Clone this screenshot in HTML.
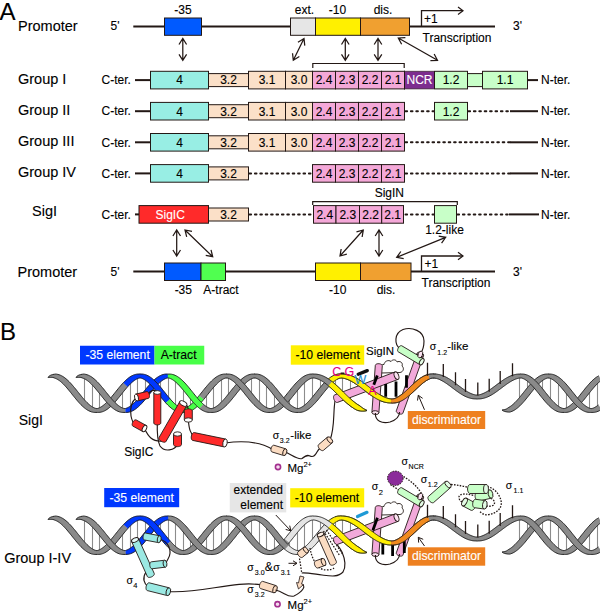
<!DOCTYPE html>
<html><head><meta charset="utf-8"><style>
html,body{margin:0;padding:0;background:#fff;}
svg{display:block;}
text{font-family:"Liberation Sans",sans-serif;}
</style></head><body>
<svg width="600" height="614" viewBox="0 0 600 614">
<text x="-0.4" y="19.6" font-size="24" text-anchor="start" fill="#000" stroke="#000" stroke-width="0.12" >A</text>
<text x="18" y="30.7" font-size="14.5" text-anchor="start" fill="#000" stroke="#000" stroke-width="0.12" >Promoter</text>
<text x="110.5" y="30" font-size="12" text-anchor="start" fill="#000" stroke="#000" stroke-width="0.12" >5'</text>
<line x1="133.3" y1="26.6" x2="495" y2="26.6" stroke="#231815" stroke-width="2" />
<rect x="164.5" y="18" width="37.0" height="17.299999999999997" fill="#005aff" stroke="#231815" stroke-width="1" />
<rect x="290.5" y="18" width="25.0" height="17.299999999999997" fill="#e6e6e6" stroke="#231815" stroke-width="1" />
<rect x="315.5" y="18" width="45.0" height="17.299999999999997" fill="#fff000" stroke="#231815" stroke-width="1" />
<rect x="360.5" y="18" width="49.0" height="17.299999999999997" fill="#f0a030" stroke="#231815" stroke-width="1" />
<text x="183" y="14" font-size="12" text-anchor="middle" fill="#000" stroke="#000" stroke-width="0.12" >-35</text>
<text x="304.5" y="14" font-size="12" text-anchor="middle" fill="#000" stroke="#000" stroke-width="0.12" >ext.</text>
<text x="337.5" y="14" font-size="12" text-anchor="middle" fill="#000" stroke="#000" stroke-width="0.12" >-10</text>
<text x="383" y="14" font-size="12" text-anchor="middle" fill="#000" stroke="#000" stroke-width="0.12" >dis.</text>
<text x="513" y="30" font-size="12" text-anchor="start" fill="#000" stroke="#000" stroke-width="0.12" >3'</text>
<path d="M421.5,26 L421.5,10.7 L463,10.7" fill="none" stroke="#231815" stroke-width="1.3"/>
<path d="M458,7 L463,10.7 L458,14.4" fill="none" stroke="#231815" stroke-width="1.2"/>
<text x="424" y="22.8" font-size="12" text-anchor="start" fill="#000" stroke="#000" stroke-width="0.12" >+1</text>
<text x="422.5" y="41.5" font-size="12" text-anchor="start" fill="#000" stroke="#000" stroke-width="0.12" >Transcription</text>
<path d="M182.8,38.5 L182.8,60.3 M179.00,54.30 L182.8,60.3 L186.60,54.30 M179.00,44.50 L182.8,38.5 L186.60,44.50 " fill="none" stroke="#231815" stroke-width="1.25"/>
<path d="M304,38.5 L293.3,60.3 M292.53,53.24 L293.3,60.3 L299.35,56.59 M297.95,42.21 L304,38.5 L304.77,45.56 " fill="none" stroke="#231815" stroke-width="1.25"/>
<path d="M345.3,38.5 L345.3,60.3 M341.50,54.30 L345.3,60.3 L349.10,54.30 M341.50,44.50 L345.3,38.5 L349.10,44.50 " fill="none" stroke="#231815" stroke-width="1.25"/>
<path d="M378,38.5 L378,60.3 M374.20,54.30 L378,60.3 L381.80,54.30 M374.20,44.50 L378,38.5 L381.80,44.50 " fill="none" stroke="#231815" stroke-width="1.25"/>
<path d="M398.3,38 L437.5,60.3 M430.41,60.64 L437.5,60.3 L434.16,54.03 M401.64,44.27 L398.3,38 L405.39,37.66 " fill="none" stroke="#231815" stroke-width="1.25"/>
<path d="M312.8,68 L312.8,63.5 L404.2,63.5 L404.2,68" fill="none" stroke="#231815" stroke-width="1.2"/>
<text x="18" y="84.0" font-size="14.5" text-anchor="start" fill="#000" stroke="#000" stroke-width="0.12" >Group I</text>
<text x="101.5" y="84.3" font-size="12" text-anchor="start" fill="#000" stroke="#000" stroke-width="0.12" >C-ter.</text>
<line x1="135" y1="80.1" x2="150.5" y2="80.1" stroke="#231815" stroke-width="2" />
<rect x="150.5" y="71.3" width="58.0" height="17.599999999999994" fill="#98eee4" stroke="#231815" stroke-width="1" />
<text x="179.5" y="84.39999999999999" font-size="12" text-anchor="middle" fill="#000" stroke="#000" stroke-width="0.12" >4</text>
<rect x="208.5" y="73.6" width="40.0" height="13.0" fill="#fbe0c8" stroke="#231815" stroke-width="1" />
<text x="228.5" y="84.39999999999999" font-size="12" text-anchor="middle" fill="#000" stroke="#000" stroke-width="0.12" >3.2</text>
<rect x="248.5" y="71.3" width="37.0" height="17.599999999999994" fill="#fbe0c8" stroke="#231815" stroke-width="1" />
<text x="267" y="84.39999999999999" font-size="12" text-anchor="middle" fill="#000" stroke="#000" stroke-width="0.12" >3.1</text>
<rect x="285.5" y="71.3" width="27.0" height="17.599999999999994" fill="#fbe0c8" stroke="#231815" stroke-width="1" />
<text x="299" y="84.39999999999999" font-size="12" text-anchor="middle" fill="#000" stroke="#000" stroke-width="0.12" >3.0</text>
<rect x="312.5" y="71.3" width="23.0" height="17.599999999999994" fill="#f4a8d8" stroke="#231815" stroke-width="1" />
<text x="324.0" y="84.39999999999999" font-size="12" text-anchor="middle" fill="#000" stroke="#000" stroke-width="0.12" >2.4</text>
<rect x="335.5" y="71.3" width="23.0" height="17.599999999999994" fill="#f4a8d8" stroke="#231815" stroke-width="1" />
<text x="347.0" y="84.39999999999999" font-size="12" text-anchor="middle" fill="#000" stroke="#000" stroke-width="0.12" >2.3</text>
<rect x="358.5" y="71.3" width="23.0" height="17.599999999999994" fill="#f4a8d8" stroke="#231815" stroke-width="1" />
<text x="370.0" y="84.39999999999999" font-size="12" text-anchor="middle" fill="#000" stroke="#000" stroke-width="0.12" >2.2</text>
<rect x="381.5" y="71.3" width="23.0" height="17.599999999999994" fill="#f4a8d8" stroke="#231815" stroke-width="1" />
<text x="393.0" y="84.39999999999999" font-size="12" text-anchor="middle" fill="#000" stroke="#000" stroke-width="0.12" >2.1</text>
<rect x="404.5" y="71.3" width="30.0" height="17.599999999999994" fill="#7d2d8f" stroke="none" stroke-width="1" />
<line x1="404.5" y1="71.3" x2="434.5" y2="71.3" stroke="#231815" stroke-width="1.2" stroke-dasharray="1,1"/>
<line x1="404.5" y1="88.89999999999999" x2="434.5" y2="88.89999999999999" stroke="#231815" stroke-width="1.2" stroke-dasharray="1,1"/>
<line x1="404.5" y1="70.8" x2="404.5" y2="89.39999999999999" stroke="#231815" stroke-width="1" />
<text x="419.5" y="84.39999999999999" font-size="12" text-anchor="middle" fill="#fff" stroke="#fff" stroke-width="0.12" >NCR</text>
<rect x="467.5" y="73.6" width="15.0" height="13.0" fill="#c8ffc8" stroke="#231815" stroke-width="1" />
<rect x="434.5" y="71.3" width="33.0" height="17.599999999999994" fill="#c8ffc8" stroke="#231815" stroke-width="1" />
<text x="451" y="84.39999999999999" font-size="12" text-anchor="middle" fill="#000" stroke="#000" stroke-width="0.12" >1.2</text>
<rect x="482.5" y="71.3" width="45.0" height="17.599999999999994" fill="#c8ffc8" stroke="#231815" stroke-width="1" />
<text x="505" y="84.39999999999999" font-size="12" text-anchor="middle" fill="#000" stroke="#000" stroke-width="0.12" >1.1</text>
<line x1="527.5" y1="80.1" x2="538" y2="80.1" stroke="#231815" stroke-width="2" />
<text x="541" y="84.3" font-size="12" text-anchor="start" fill="#000" stroke="#000" stroke-width="0.12" >N-ter.</text>
<text x="18" y="115.10000000000001" font-size="14.5" text-anchor="start" fill="#000" stroke="#000" stroke-width="0.12" >Group II</text>
<text x="101.5" y="115.4" font-size="12" text-anchor="start" fill="#000" stroke="#000" stroke-width="0.12" >C-ter.</text>
<line x1="135" y1="111.2" x2="150.5" y2="111.2" stroke="#231815" stroke-width="2" />
<rect x="150.5" y="102.4" width="58.0" height="17.599999999999994" fill="#98eee4" stroke="#231815" stroke-width="1" />
<text x="179.5" y="115.5" font-size="12" text-anchor="middle" fill="#000" stroke="#000" stroke-width="0.12" >4</text>
<rect x="208.5" y="104.7" width="40.0" height="13.0" fill="#fbe0c8" stroke="#231815" stroke-width="1" />
<text x="228.5" y="115.5" font-size="12" text-anchor="middle" fill="#000" stroke="#000" stroke-width="0.12" >3.2</text>
<rect x="248.5" y="102.4" width="37.0" height="17.599999999999994" fill="#fbe0c8" stroke="#231815" stroke-width="1" />
<text x="267" y="115.5" font-size="12" text-anchor="middle" fill="#000" stroke="#000" stroke-width="0.12" >3.1</text>
<rect x="285.5" y="102.4" width="27.0" height="17.599999999999994" fill="#fbe0c8" stroke="#231815" stroke-width="1" />
<text x="299" y="115.5" font-size="12" text-anchor="middle" fill="#000" stroke="#000" stroke-width="0.12" >3.0</text>
<rect x="312.5" y="102.4" width="23.0" height="17.599999999999994" fill="#f4a8d8" stroke="#231815" stroke-width="1" />
<text x="324.0" y="115.5" font-size="12" text-anchor="middle" fill="#000" stroke="#000" stroke-width="0.12" >2.4</text>
<rect x="335.5" y="102.4" width="23.0" height="17.599999999999994" fill="#f4a8d8" stroke="#231815" stroke-width="1" />
<text x="347.0" y="115.5" font-size="12" text-anchor="middle" fill="#000" stroke="#000" stroke-width="0.12" >2.3</text>
<rect x="358.5" y="102.4" width="23.0" height="17.599999999999994" fill="#f4a8d8" stroke="#231815" stroke-width="1" />
<text x="370.0" y="115.5" font-size="12" text-anchor="middle" fill="#000" stroke="#000" stroke-width="0.12" >2.2</text>
<rect x="381.5" y="102.4" width="23.0" height="17.599999999999994" fill="#f4a8d8" stroke="#231815" stroke-width="1" />
<text x="393.0" y="115.5" font-size="12" text-anchor="middle" fill="#000" stroke="#000" stroke-width="0.12" >2.1</text>
<line x1="404.5" y1="111.2" x2="434.5" y2="111.2" stroke="#231815" stroke-width="2" stroke-dasharray="1.6,3.8" stroke-linecap="round" stroke-dashoffset="-1"/>
<rect x="434.5" y="102.4" width="33.0" height="17.599999999999994" fill="#c8ffc8" stroke="#231815" stroke-width="1" />
<text x="451" y="115.5" font-size="12" text-anchor="middle" fill="#000" stroke="#000" stroke-width="0.12" >1.2</text>
<line x1="467.5" y1="111.2" x2="510" y2="111.2" stroke="#231815" stroke-width="2" stroke-dasharray="1.6,3.8" stroke-linecap="round" stroke-dashoffset="-1"/>
<line x1="510" y1="111.2" x2="538" y2="111.2" stroke="#231815" stroke-width="2" />
<text x="541" y="115.4" font-size="12" text-anchor="start" fill="#000" stroke="#000" stroke-width="0.12" >N-ter.</text>
<text x="18" y="146.20000000000002" font-size="14.5" text-anchor="start" fill="#000" stroke="#000" stroke-width="0.12" >Group III</text>
<text x="101.5" y="146.5" font-size="12" text-anchor="start" fill="#000" stroke="#000" stroke-width="0.12" >C-ter.</text>
<line x1="135" y1="142.3" x2="150.5" y2="142.3" stroke="#231815" stroke-width="2" />
<rect x="150.5" y="133.5" width="58.0" height="17.600000000000023" fill="#98eee4" stroke="#231815" stroke-width="1" />
<text x="179.5" y="146.60000000000002" font-size="12" text-anchor="middle" fill="#000" stroke="#000" stroke-width="0.12" >4</text>
<rect x="208.5" y="135.8" width="40.0" height="13.0" fill="#fbe0c8" stroke="#231815" stroke-width="1" />
<text x="228.5" y="146.60000000000002" font-size="12" text-anchor="middle" fill="#000" stroke="#000" stroke-width="0.12" >3.2</text>
<rect x="248.5" y="133.5" width="37.0" height="17.600000000000023" fill="#fbe0c8" stroke="#231815" stroke-width="1" />
<text x="267" y="146.60000000000002" font-size="12" text-anchor="middle" fill="#000" stroke="#000" stroke-width="0.12" >3.1</text>
<rect x="285.5" y="133.5" width="27.0" height="17.600000000000023" fill="#fbe0c8" stroke="#231815" stroke-width="1" />
<text x="299" y="146.60000000000002" font-size="12" text-anchor="middle" fill="#000" stroke="#000" stroke-width="0.12" >3.0</text>
<rect x="312.5" y="133.5" width="23.0" height="17.600000000000023" fill="#f4a8d8" stroke="#231815" stroke-width="1" />
<text x="324.0" y="146.60000000000002" font-size="12" text-anchor="middle" fill="#000" stroke="#000" stroke-width="0.12" >2.4</text>
<rect x="335.5" y="133.5" width="23.0" height="17.600000000000023" fill="#f4a8d8" stroke="#231815" stroke-width="1" />
<text x="347.0" y="146.60000000000002" font-size="12" text-anchor="middle" fill="#000" stroke="#000" stroke-width="0.12" >2.3</text>
<rect x="358.5" y="133.5" width="23.0" height="17.600000000000023" fill="#f4a8d8" stroke="#231815" stroke-width="1" />
<text x="370.0" y="146.60000000000002" font-size="12" text-anchor="middle" fill="#000" stroke="#000" stroke-width="0.12" >2.2</text>
<rect x="381.5" y="133.5" width="23.0" height="17.600000000000023" fill="#f4a8d8" stroke="#231815" stroke-width="1" />
<text x="393.0" y="146.60000000000002" font-size="12" text-anchor="middle" fill="#000" stroke="#000" stroke-width="0.12" >2.1</text>
<line x1="404.5" y1="142.3" x2="510" y2="142.3" stroke="#231815" stroke-width="2" stroke-dasharray="1.6,3.8" stroke-linecap="round" stroke-dashoffset="-1"/>
<line x1="510" y1="142.3" x2="538" y2="142.3" stroke="#231815" stroke-width="2" />
<text x="541" y="146.5" font-size="12" text-anchor="start" fill="#000" stroke="#000" stroke-width="0.12" >N-ter.</text>
<text x="18" y="177.3" font-size="14.5" text-anchor="start" fill="#000" stroke="#000" stroke-width="0.12" >Group IV</text>
<text x="101.5" y="177.6" font-size="12" text-anchor="start" fill="#000" stroke="#000" stroke-width="0.12" >C-ter.</text>
<line x1="135" y1="173.4" x2="150.5" y2="173.4" stroke="#231815" stroke-width="2" />
<rect x="150.5" y="164.6" width="58.0" height="17.600000000000023" fill="#98eee4" stroke="#231815" stroke-width="1" />
<text x="179.5" y="177.70000000000002" font-size="12" text-anchor="middle" fill="#000" stroke="#000" stroke-width="0.12" >4</text>
<rect x="208.5" y="166.9" width="40.0" height="13.0" fill="#fbe0c8" stroke="#231815" stroke-width="1" />
<text x="228.5" y="177.70000000000002" font-size="12" text-anchor="middle" fill="#000" stroke="#000" stroke-width="0.12" >3.2</text>
<line x1="248.5" y1="173.4" x2="312.5" y2="173.4" stroke="#231815" stroke-width="2" stroke-dasharray="1.6,3.8" stroke-linecap="round" stroke-dashoffset="-1"/>
<rect x="312.5" y="164.6" width="23.0" height="17.600000000000023" fill="#f4a8d8" stroke="#231815" stroke-width="1" />
<text x="324.0" y="177.70000000000002" font-size="12" text-anchor="middle" fill="#000" stroke="#000" stroke-width="0.12" >2.4</text>
<rect x="335.5" y="164.6" width="23.0" height="17.600000000000023" fill="#f4a8d8" stroke="#231815" stroke-width="1" />
<text x="347.0" y="177.70000000000002" font-size="12" text-anchor="middle" fill="#000" stroke="#000" stroke-width="0.12" >2.3</text>
<rect x="358.5" y="164.6" width="23.0" height="17.600000000000023" fill="#f4a8d8" stroke="#231815" stroke-width="1" />
<text x="370.0" y="177.70000000000002" font-size="12" text-anchor="middle" fill="#000" stroke="#000" stroke-width="0.12" >2.2</text>
<rect x="381.5" y="164.6" width="23.0" height="17.600000000000023" fill="#f4a8d8" stroke="#231815" stroke-width="1" />
<text x="393.0" y="177.70000000000002" font-size="12" text-anchor="middle" fill="#000" stroke="#000" stroke-width="0.12" >2.1</text>
<line x1="404.5" y1="173.4" x2="510" y2="173.4" stroke="#231815" stroke-width="2" stroke-dasharray="1.6,3.8" stroke-linecap="round" stroke-dashoffset="-1"/>
<line x1="510" y1="173.4" x2="538" y2="173.4" stroke="#231815" stroke-width="2" />
<text x="541" y="177.6" font-size="12" text-anchor="start" fill="#000" stroke="#000" stroke-width="0.12" >N-ter.</text>
<text x="32" y="215.7" font-size="14.5" text-anchor="start" fill="#000" stroke="#000" stroke-width="0.12" >SigI</text>
<text x="101.5" y="218.6" font-size="12" text-anchor="start" fill="#000" stroke="#000" stroke-width="0.12" >C-ter.</text>
<line x1="135" y1="214.4" x2="139" y2="214.4" stroke="#231815" stroke-width="2" />
<line x1="248.5" y1="214.4" x2="312.5" y2="214.4" stroke="#231815" stroke-width="2" stroke-dasharray="1.6,3.8" stroke-linecap="round" stroke-dashoffset="-1"/>
<line x1="404.5" y1="214.4" x2="434.5" y2="214.4" stroke="#231815" stroke-width="2" stroke-dasharray="1.6,3.8" stroke-linecap="round" stroke-dashoffset="-1"/>
<line x1="456.5" y1="214.4" x2="509" y2="214.4" stroke="#231815" stroke-width="2" stroke-dasharray="1.6,3.8" stroke-linecap="round" stroke-dashoffset="-1"/>
<line x1="509" y1="214.4" x2="539" y2="214.4" stroke="#231815" stroke-width="2" />
<rect x="139" y="205.6" width="69.5" height="17.599999999999994" fill="#ff2a2a" stroke="#231815" stroke-width="1" />
<text x="170.2" y="218.70000000000002" font-size="12" text-anchor="middle" fill="#fff" stroke="#fff" stroke-width="0.12" >SigIC</text>
<rect x="208.5" y="208" width="40.0" height="13" fill="#fbe0c8" stroke="#231815" stroke-width="1" />
<text x="228.5" y="218.70000000000002" font-size="12" text-anchor="middle" fill="#000" stroke="#000" stroke-width="0.12" >3.2</text>
<rect x="313.5" y="205.6" width="22.5" height="17.599999999999994" fill="#f4a8d8" stroke="#231815" stroke-width="1" />
<text x="324.75" y="218.70000000000002" font-size="12" text-anchor="middle" fill="#000" stroke="#000" stroke-width="0.12" >2.4</text>
<rect x="336" y="205.6" width="23.5" height="17.599999999999994" fill="#f4a8d8" stroke="#231815" stroke-width="1" />
<text x="347.75" y="218.70000000000002" font-size="12" text-anchor="middle" fill="#000" stroke="#000" stroke-width="0.12" >2.3</text>
<rect x="359.5" y="205.6" width="22.19999999999999" height="17.599999999999994" fill="#f4a8d8" stroke="#231815" stroke-width="1" />
<text x="370.6" y="218.70000000000002" font-size="12" text-anchor="middle" fill="#000" stroke="#000" stroke-width="0.12" >2.2</text>
<rect x="381.7" y="205.6" width="21.80000000000001" height="17.599999999999994" fill="#f4a8d8" stroke="#231815" stroke-width="1" />
<text x="392.6" y="218.70000000000002" font-size="12" text-anchor="middle" fill="#000" stroke="#000" stroke-width="0.12" >2.1</text>
<rect x="434.5" y="205.6" width="22.0" height="17.599999999999994" fill="#c8ffc8" stroke="#231815" stroke-width="1" />
<text x="444.5" y="234.3" font-size="12" text-anchor="middle" fill="#000" stroke="#000" stroke-width="0.12" >1.2-like</text>
<path d="M312.7,205 L312.7,201.7 L457.3,201.7 L457.3,205" fill="none" stroke="#231815" stroke-width="1.2"/>
<text x="389.3" y="197" font-size="12" text-anchor="middle" fill="#000" stroke="#000" stroke-width="0.12" >SigIN</text>
<text x="541" y="218.6" font-size="12" text-anchor="start" fill="#000" stroke="#000" stroke-width="0.12" >N-ter.</text>
<path d="M176.7,230 L176.7,256 M172.90,250.00 L176.7,256 L180.50,250.00 M172.90,236.00 L176.7,230 L180.50,236.00 " fill="none" stroke="#231815" stroke-width="1.25"/>
<path d="M185,230 L212.7,256.7 M205.74,255.27 L212.7,256.7 L211.02,249.80 M186.68,236.90 L185,230 L191.96,231.43 " fill="none" stroke="#231815" stroke-width="1.25"/>
<path d="M363.3,230 L340,256 M341.17,249.00 L340,256 L346.83,254.07 M356.47,231.93 L363.3,230 L362.13,237.00 " fill="none" stroke="#231815" stroke-width="1.25"/>
<path d="M379,230 L379,256 M375.20,250.00 L379,256 L382.80,250.00 M375.20,236.00 L379,230 L382.80,236.00 " fill="none" stroke="#231815" stroke-width="1.25"/>
<path d="M396.7,257.3 L445.7,237.3 M441.58,243.09 L445.7,237.3 L438.71,236.05 M403.69,258.55 L396.7,257.3 L400.82,251.51 " fill="none" stroke="#231815" stroke-width="1.25"/>
<text x="17.5" y="276.7" font-size="14.5" text-anchor="start" fill="#000" stroke="#000" stroke-width="0.12" >Promoter</text>
<text x="110.5" y="276" font-size="12" text-anchor="start" fill="#000" stroke="#000" stroke-width="0.12" >5'</text>
<line x1="133.3" y1="271.5" x2="495" y2="271.5" stroke="#231815" stroke-width="2" />
<rect x="164.5" y="263" width="36.5" height="17.5" fill="#005aff" stroke="#231815" stroke-width="1" />
<rect x="201" y="263" width="24.5" height="17.5" fill="#50ff50" stroke="#231815" stroke-width="1" />
<rect x="315.5" y="263" width="45.0" height="17.5" fill="#fff000" stroke="#231815" stroke-width="1" />
<rect x="360.5" y="263" width="50.5" height="17.5" fill="#f0a030" stroke="#231815" stroke-width="1" />
<text x="183.3" y="294" font-size="12" text-anchor="middle" fill="#000" stroke="#000" stroke-width="0.12" >-35</text>
<text x="221" y="294" font-size="12" text-anchor="middle" fill="#000" stroke="#000" stroke-width="0.12" >A-tract</text>
<text x="337.7" y="294" font-size="12" text-anchor="middle" fill="#000" stroke="#000" stroke-width="0.12" >-10</text>
<text x="386" y="294" font-size="12" text-anchor="middle" fill="#000" stroke="#000" stroke-width="0.12" >dis.</text>
<text x="513" y="276" font-size="12" text-anchor="start" fill="#000" stroke="#000" stroke-width="0.12" >3'</text>
<path d="M421.5,271 L421.5,256 L463,256" fill="none" stroke="#231815" stroke-width="1.3"/>
<path d="M458,252.3 L463,256 L458,259.7" fill="none" stroke="#231815" stroke-width="1.2"/>
<text x="424.5" y="268" font-size="12" text-anchor="start" fill="#000" stroke="#000" stroke-width="0.12" >+1</text>
<text x="421.5" y="286.5" font-size="12" text-anchor="start" fill="#000" stroke="#000" stroke-width="0.12" >Transcription</text>
<text x="0" y="340.3" font-size="24" text-anchor="start" fill="#000" stroke="#000" stroke-width="0.12" >B</text>
<text x="18.7" y="424.9" font-size="14" text-anchor="start" fill="#000" stroke="#000" stroke-width="0.12" >SigI</text>
<rect x="80" y="345.75" width="74.5" height="18.75" fill="#0038ff" stroke="none" stroke-width="1" />
<rect x="154.5" y="345.75" width="49.75" height="18.75" fill="#48ff48" stroke="none" stroke-width="1" />
<text x="117.6" y="359.3" font-size="12.2" text-anchor="middle" fill="#fff" stroke="#fff" stroke-width="0.12" >-35 element</text>
<text x="178.6" y="359.3" font-size="12.2" text-anchor="middle" fill="#000" stroke="#000" stroke-width="0.12" >A-tract</text>
<rect x="290.8" y="345.3" width="73.39999999999998" height="19.399999999999977" fill="#fff000" stroke="none" stroke-width="1" />
<text x="327.6" y="358.8" font-size="12.2" text-anchor="middle" fill="#000" stroke="#000" stroke-width="0.12" >-10 element</text>
<text x="366" y="354.6" font-size="11.5" text-anchor="start" fill="#000" stroke="#000" stroke-width="0.12" >SigIN</text>
<text x="429.8" y="349.7" font-size="10.5" fill="#000" stroke="#000" stroke-width="0.12">&#963;</text>
<text x="437.3" y="354.6" font-size="7" fill="#000" stroke="#000" stroke-width="0.12">1.2</text>
<text x="447.2" y="349.7" font-size="11.5" fill="#000" stroke="#000" stroke-width="0.12">-like</text>
<rect x="407.8" y="411" width="77.39999999999998" height="18" fill="#ee8020" stroke="none" stroke-width="1" />
<text x="446.5" y="423.8" font-size="12.2" text-anchor="middle" fill="#fff" stroke="#fff" stroke-width="0.12" >discriminator</text>
<text x="124.2" y="456.3" font-size="12" text-anchor="start" fill="#000" stroke="#000" stroke-width="0.12" >SigIC</text>
<text x="272.8" y="438.5" font-size="10.5" fill="#000" stroke="#000" stroke-width="0.12">&#963;</text>
<text x="279.8" y="443.2" font-size="7" fill="#000" stroke="#000" stroke-width="0.12">3.2</text>
<text x="290.3" y="438.5" font-size="11.5" fill="#000" stroke="#000" stroke-width="0.12">-like</text>
<circle cx="278" cy="467" r="2.6" fill="#f6dcef" stroke="#a3308f" stroke-width="1.6"/>
<text x="287.4" y="471.8" font-size="11.5" fill="#000" stroke="#000" stroke-width="0.12">Mg<tspan font-size="7.5" dy="-4.5">2+</tspan></text>
<text x="4.2" y="562.5" font-size="14.5" text-anchor="start" fill="#000" stroke="#000" stroke-width="0.12" >Group I-IV</text>
<rect x="104.2" y="488" width="74.99999999999999" height="19.19999999999999" fill="#0038ff" stroke="none" stroke-width="1" />
<text x="141.7" y="501.5" font-size="12.2" text-anchor="middle" fill="#fff" stroke="#fff" stroke-width="0.12" >-35 element</text>
<rect x="229.75" y="483" width="56.5" height="29.399999999999977" fill="#e6e6e6" stroke="none" stroke-width="1" />
<text x="283" y="494.3" font-size="12" text-anchor="end" fill="#000" stroke="#000" stroke-width="0.12" >extended</text>
<text x="283" y="508.6" font-size="12" text-anchor="end" fill="#000" stroke="#000" stroke-width="0.12" >element</text>
<rect x="290.2" y="488.2" width="74.0" height="19.19999999999999" fill="#fff000" stroke="none" stroke-width="1" />
<text x="327" y="501.5" font-size="12.2" text-anchor="middle" fill="#000" stroke="#000" stroke-width="0.12" >-10 element</text>
<rect x="407.8" y="547.3" width="77.39999999999998" height="18.40000000000009" fill="#ee8020" stroke="none" stroke-width="1" />
<text x="446.5" y="560" font-size="12.2" text-anchor="middle" fill="#fff" stroke="#fff" stroke-width="0.12" >discriminator</text>
<path d="M84.5,376.4 V404.1 M92.5,380.9 V409.5 M99.5,389.0 V410.1 M107.5,398.4 V405.7 M114.5,397.6 V406.3 M122.5,388.2 V410.3 M130.5,380.3 V409.2 M137.5,376.2 V403.4 M145.5,377.3 V394.6 M160.5,378.5 V391.8 M168.5,376.0 V401.1 M175.5,378.6 V408.0 M183.5,385.6 V410.5 M190.5,394.8 V407.9 M206.5,391.7 V409.3 M213.5,382.9 V410.2 M221.5,377.2 V406.1 M228.5,376.3 V398.2 M236.5,380.4 V388.8 M244.5,380.7 V388.3 M251.5,376.4 V397.7 M259.5,377.0 V405.8 M266.5,382.5 V410.1 M274.5,391.2 V409.5 M282.5,400.5 V404.0 M289.5,395.3 V407.6 M297.5,386.1 V410.5 M304.5,378.9 V408.2 M312.5,376.0 V401.5 M320.5,377.4 V392.3 M335.5,377.5 V388.2 M342.5,376.1 V395.6 M350.5,378.1 V402.6 M519.5,376.0 V402.0 M527.5,377.9 V392.6 M542.5,377.3 V394.0 M550.5,376.3 V403.2 M558.5,380.6 V409.2 M566.5,388.9 V410.2 M574.5,398.6 V405.8 M581.5,397.5 V406.6 M589.5,387.8 V410.4 M597.5,379.8 V408.8" stroke="#8c8c8c" stroke-width="1.1" fill="none"/>
<path d="M48.00,377.36 L48.79,376.46 L49.70,375.78 L50.68,375.24 L51.71,374.84 L52.79,374.57 L53.90,374.36 L53.80,377.65 L52.96,377.46 L52.09,377.39 L51.17,377.36 L50.20,377.36 L49.16,377.38 L48.00,377.36Z" fill="#8a8a8a" stroke="#8a8a8a" stroke-width="0.3"/><path d="M48.00,377.36 L48.79,376.46 L49.70,375.78 L50.68,375.24 L51.71,374.84 L52.79,374.57 L53.90,374.36 M48.00,377.36 L49.16,377.38 L50.20,377.36 L51.17,377.36 L52.09,377.39 L52.96,377.46 L53.80,377.65" fill="none" stroke="#1e1e1e" stroke-width="0.9"/><path d="M96.46,408.60 L97.29,408.55 L98.10,408.33 L98.90,408.04 L99.69,407.70 L100.49,407.29 L101.29,406.81 L102.12,406.27 L102.95,405.67 L103.81,404.99 L104.69,404.25 L105.58,403.44 L106.48,402.56 L107.40,401.62 L108.33,400.63 L109.28,399.58 L110.23,398.49 L111.20,397.35 L112.17,396.18 L113.15,394.98 L114.13,393.75 L115.13,392.51 L116.13,391.25 L117.14,389.99 L118.15,388.74 L119.17,387.49 L120.20,386.26 L121.24,385.05 L122.28,383.87 L123.34,382.73 L127.66,386.70 L126.71,387.79 L125.75,388.92 L124.78,390.08 L123.80,391.28 L122.81,392.50 L121.82,393.74 L120.82,394.99 L119.82,396.25 L118.80,397.51 L117.78,398.76 L116.76,399.99 L115.72,401.21 L114.68,402.39 L113.63,403.54 L112.56,404.65 L111.49,405.72 L110.40,406.73 L109.30,407.68 L108.18,408.56 L107.05,409.38 L105.90,410.11 L104.73,410.75 L103.55,411.30 L102.35,411.75 L101.14,412.09 L99.92,412.31 L98.71,412.42 L97.52,412.41 L96.34,412.39Z" fill="#8a8a8a" stroke="#8a8a8a" stroke-width="0.3"/><path d="M96.46,408.60 L97.29,408.55 L98.10,408.33 L98.90,408.04 L99.69,407.70 L100.49,407.29 L101.29,406.81 L102.12,406.27 L102.95,405.67 L103.81,404.99 L104.69,404.25 L105.58,403.44 L106.48,402.56 L107.40,401.62 L108.33,400.63 L109.28,399.58 L110.23,398.49 L111.20,397.35 L112.17,396.18 L113.15,394.98 L114.13,393.75 L115.13,392.51 L116.13,391.25 L117.14,389.99 L118.15,388.74 L119.17,387.49 L120.20,386.26 L121.24,385.05 L122.28,383.87 L123.34,382.73 M96.34,412.39 L97.52,412.41 L98.71,412.42 L99.92,412.31 L101.14,412.09 L102.35,411.75 L103.55,411.30 L104.73,410.75 L105.90,410.11 L107.05,409.38 L108.18,408.56 L109.30,407.68 L110.40,406.73 L111.49,405.72 L112.56,404.65 L113.63,403.54 L114.68,402.39 L115.72,401.21 L116.76,399.99 L117.78,398.76 L118.80,397.51 L119.82,396.25 L120.82,394.99 L121.82,393.74 L122.81,392.50 L123.80,391.28 L124.78,390.08 L125.75,388.92 L126.71,387.79 L127.66,386.70" fill="none" stroke="#1e1e1e" stroke-width="0.9"/><path d="M123.34,382.73 L124.39,381.64 L125.45,380.60 L126.52,379.62 L127.61,378.69 L128.72,377.82 L129.84,377.03 L130.97,376.32 L132.13,375.69 L133.30,375.16 L134.48,374.72 L135.68,374.40 L136.87,374.18 L138.07,374.08 L139.25,374.09 L140.41,374.11 L140.29,377.90 L139.47,377.95 L138.67,378.16 L137.89,378.44 L137.10,378.78 L136.32,379.18 L135.52,379.65 L134.71,380.17 L133.89,380.77 L133.04,381.42 L132.18,382.15 L131.31,382.94 L130.42,383.79 L129.51,384.71 L128.59,385.68 L127.66,386.70Z" fill="#0038ff" stroke="#0038ff" stroke-width="0.3"/><path d="M123.34,382.73 L124.39,381.64 L125.45,380.60 L126.52,379.62 L127.61,378.69 L128.72,377.82 L129.84,377.03 L130.97,376.32 L132.13,375.69 L133.30,375.16 L134.48,374.72 L135.68,374.40 L136.87,374.18 L138.07,374.08 L139.25,374.09 L140.41,374.11 M127.66,386.70 L128.59,385.68 L129.51,384.71 L130.42,383.79 L131.31,382.94 L132.18,382.15 L133.04,381.42 L133.89,380.77 L134.71,380.17 L135.52,379.65 L136.32,379.18 L137.10,378.78 L137.89,378.44 L138.67,378.16 L139.47,377.95 L140.29,377.90" fill="none" stroke="#1e1e1e" stroke-width="0.9"/><path d="M182.96,408.60 L183.77,408.55 L184.56,408.34 L185.34,408.07 L186.11,407.73 L186.89,407.34 L187.68,406.89 L188.47,406.37 L189.29,405.79 L190.12,405.14 L190.97,404.43 L191.83,403.66 L192.71,402.82 L193.61,401.93 L194.51,400.98 L195.43,399.97 L196.36,398.92 L197.29,397.83 L198.24,396.70 L199.19,395.54 L203.81,399.34 L202.80,400.53 L201.79,401.70 L200.77,402.85 L199.74,403.96 L198.70,405.02 L197.64,406.04 L196.58,407.01 L195.50,407.92 L194.41,408.77 L193.30,409.54 L192.17,410.24 L191.03,410.85 L189.87,411.37 L188.70,411.80 L187.52,412.12 L186.34,412.32 L185.16,412.42 L183.99,412.41 L182.84,412.39Z" fill="#48ff48" stroke="#48ff48" stroke-width="0.3"/><path d="M182.96,408.60 L183.77,408.55 L184.56,408.34 L185.34,408.07 L186.11,407.73 L186.89,407.34 L187.68,406.89 L188.47,406.37 L189.29,405.79 L190.12,405.14 L190.97,404.43 L191.83,403.66 L192.71,402.82 L193.61,401.93 L194.51,400.98 L195.43,399.97 L196.36,398.92 L197.29,397.83 L198.24,396.70 L199.19,395.54 M182.84,412.39 L183.99,412.41 L185.16,412.42 L186.34,412.32 L187.52,412.12 L188.70,411.80 L189.87,411.37 L191.03,410.85 L192.17,410.24 L193.30,409.54 L194.41,408.77 L195.50,407.92 L196.58,407.01 L197.64,406.04 L198.70,405.02 L199.74,403.96 L200.77,402.85 L201.79,401.70 L202.80,400.53 L203.81,399.34" fill="none" stroke="#1e1e1e" stroke-width="0.9"/><path d="M199.19,395.54 L200.19,394.31 L201.19,393.06 L202.20,391.80 L203.21,390.52 L204.23,389.25 L205.26,387.99 L206.30,386.74 L207.34,385.51 L208.40,384.30 L209.46,383.14 L210.53,382.01 L211.61,380.92 L212.71,379.90 L213.82,378.93 L214.95,378.03 L216.09,377.20 L217.25,376.45 L218.43,375.79 L219.63,375.23 L220.84,374.77 L222.06,374.42 L223.29,374.19 L224.51,374.08 L225.72,374.08 L226.91,374.11 L226.79,377.90 L225.95,377.96 L225.13,378.18 L224.33,378.47 L223.53,378.82 L222.72,379.24 L221.90,379.72 L221.07,380.27 L220.22,380.89 L219.36,381.58 L218.47,382.34 L217.57,383.16 L216.65,384.05 L215.72,385.01 L214.78,386.02 L213.82,387.09 L212.86,388.20 L211.88,389.35 L210.90,390.55 L209.91,391.77 L208.91,393.01 L207.90,394.27 L206.89,395.54 L205.87,396.81 L204.84,398.08 L203.81,399.34Z" fill="#8a8a8a" stroke="#8a8a8a" stroke-width="0.3"/><path d="M199.19,395.54 L200.19,394.31 L201.19,393.06 L202.20,391.80 L203.21,390.52 L204.23,389.25 L205.26,387.99 L206.30,386.74 L207.34,385.51 L208.40,384.30 L209.46,383.14 L210.53,382.01 L211.61,380.92 L212.71,379.90 L213.82,378.93 L214.95,378.03 L216.09,377.20 L217.25,376.45 L218.43,375.79 L219.63,375.23 L220.84,374.77 L222.06,374.42 L223.29,374.19 L224.51,374.08 L225.72,374.08 L226.91,374.11 M203.81,399.34 L204.84,398.08 L205.87,396.81 L206.89,395.54 L207.90,394.27 L208.91,393.01 L209.91,391.77 L210.90,390.55 L211.88,389.35 L212.86,388.20 L213.82,387.09 L214.78,386.02 L215.72,385.01 L216.65,384.05 L217.57,383.16 L218.47,382.34 L219.36,381.58 L220.22,380.89 L221.07,380.27 L221.90,379.72 L222.72,379.24 L223.53,378.82 L224.33,378.47 L225.13,378.18 L225.95,377.96 L226.79,377.90" fill="none" stroke="#1e1e1e" stroke-width="0.9"/><path d="M269.46,408.60 L270.28,408.55 L271.09,408.33 L271.89,408.05 L272.68,407.70 L273.47,407.30 L274.27,406.83 L275.09,406.29 L275.92,405.69 L276.78,405.02 L277.64,404.28 L278.53,403.48 L279.43,402.61 L280.35,401.68 L281.27,400.70 L282.21,399.66 L283.16,398.57 L284.12,397.44 L285.09,396.28 L286.06,395.08 L287.04,393.86 L288.03,392.63 L289.03,391.38 L290.03,390.13 L291.04,388.87 L292.06,387.63 L293.08,386.40 L294.11,385.20 L295.15,384.02 L296.20,382.88 L297.26,381.78 L298.33,380.72 L299.41,379.72 L300.51,378.78 L301.62,377.90 L302.75,377.09 L303.89,376.37 L305.06,375.73 L306.24,375.18 L307.43,374.74 L308.63,374.41 L309.84,374.18 L311.05,374.08 L312.24,374.09 L313.39,374.12 L313.31,377.88 L312.47,377.95 L311.66,378.17 L310.86,378.45 L310.07,378.80 L309.28,379.20 L308.48,379.67 L307.66,380.21 L306.83,380.81 L305.97,381.48 L305.11,382.22 L304.22,383.02 L303.32,383.89 L302.40,384.82 L301.48,385.80 L300.54,386.84 L299.59,387.93 L298.63,389.06 L297.66,390.22 L296.69,391.42 L295.71,392.64 L294.72,393.87 L293.72,395.12 L292.72,396.37 L291.71,397.63 L290.69,398.87 L289.67,400.10 L288.64,401.30 L287.60,402.48 L286.55,403.62 L285.49,404.72 L284.42,405.78 L283.34,406.78 L282.24,407.72 L281.13,408.60 L280.00,409.41 L278.86,410.13 L277.69,410.77 L276.51,411.32 L275.32,411.76 L274.12,412.09 L272.91,412.32 L271.70,412.42 L270.51,412.41 L269.34,412.39Z" fill="#8a8a8a" stroke="#8a8a8a" stroke-width="0.3"/><path d="M269.46,408.60 L270.28,408.55 L271.09,408.33 L271.89,408.05 L272.68,407.70 L273.47,407.30 L274.27,406.83 L275.09,406.29 L275.92,405.69 L276.78,405.02 L277.64,404.28 L278.53,403.48 L279.43,402.61 L280.35,401.68 L281.27,400.70 L282.21,399.66 L283.16,398.57 L284.12,397.44 L285.09,396.28 L286.06,395.08 L287.04,393.86 L288.03,392.63 L289.03,391.38 L290.03,390.13 L291.04,388.87 L292.06,387.63 L293.08,386.40 L294.11,385.20 L295.15,384.02 L296.20,382.88 L297.26,381.78 L298.33,380.72 L299.41,379.72 L300.51,378.78 L301.62,377.90 L302.75,377.09 L303.89,376.37 L305.06,375.73 L306.24,375.18 L307.43,374.74 L308.63,374.41 L309.84,374.18 L311.05,374.08 L312.24,374.09 L313.39,374.12 M269.34,412.39 L270.51,412.41 L271.70,412.42 L272.91,412.32 L274.12,412.09 L275.32,411.76 L276.51,411.32 L277.69,410.77 L278.86,410.13 L280.00,409.41 L281.13,408.60 L282.24,407.72 L283.34,406.78 L284.42,405.78 L285.49,404.72 L286.55,403.62 L287.60,402.48 L288.64,401.30 L289.67,400.10 L290.69,398.87 L291.71,397.63 L292.72,396.37 L293.72,395.12 L294.72,393.87 L295.71,392.64 L296.69,391.42 L297.66,390.22 L298.63,389.06 L299.59,387.93 L300.54,386.84 L301.48,385.80 L302.40,384.82 L303.32,383.89 L304.22,383.02 L305.11,382.22 L305.97,381.48 L306.83,380.81 L307.66,380.21 L308.48,379.67 L309.28,379.20 L310.07,378.80 L310.86,378.45 L311.66,378.17 L312.47,377.95 L313.31,377.88" fill="none" stroke="#1e1e1e" stroke-width="0.9"/><path d="M76.00,377.36 L76.79,376.46 L77.70,375.78 L78.68,375.24 L79.71,374.84 L80.79,374.57 L81.90,374.36 L81.80,377.65 L80.96,377.46 L80.09,377.39 L79.17,377.36 L78.20,377.36 L77.16,377.38 L76.00,377.36Z" fill="#8a8a8a" stroke="#8a8a8a" stroke-width="0.3"/><path d="M76.00,377.36 L76.79,376.46 L77.70,375.78 L78.68,375.24 L79.71,374.84 L80.79,374.57 L81.90,374.36 M76.00,377.36 L77.16,377.38 L78.20,377.36 L79.17,377.36 L80.09,377.39 L80.96,377.46 L81.80,377.65" fill="none" stroke="#1e1e1e" stroke-width="0.9"/><path d="M124.46,408.60 L124.92,408.62 L125.37,408.53 L125.63,412.42 L124.98,412.37 L124.34,412.39Z" fill="#8a8a8a" stroke="#8a8a8a" stroke-width="0.3"/><path d="M124.46,408.60 L124.92,408.62 L125.37,408.53 M124.34,412.39 L124.98,412.37 L125.63,412.42" fill="none" stroke="#1e1e1e" stroke-width="0.9"/><path d="M125.37,408.53 L126.18,408.30 L126.99,408.01 L127.79,407.65 L128.59,407.23 L129.41,406.74 L130.24,406.19 L131.09,405.57 L131.95,404.87 L132.84,404.11 L133.74,403.28 L134.65,402.39 L135.58,401.43 L136.53,400.42 L137.48,399.35 L138.45,398.24 L139.42,397.08 L140.40,395.89 L141.39,394.67 L142.39,393.43 L143.39,392.18 L144.41,390.91 L145.42,389.64 L146.45,388.37 L147.48,387.12 L148.52,385.89 L149.57,384.68 L150.62,383.50 L151.69,382.36 L152.77,381.26 L153.86,380.22 L154.96,379.23 L156.08,378.31 L157.22,377.46 L158.37,376.69 L159.54,376.00 L160.73,375.41 L161.93,374.91 L163.15,374.53 L164.37,374.26 L165.59,374.10 L166.81,374.07 L168.00,374.15 L168.00,377.85 L167.17,378.02 L166.36,378.27 L165.56,378.58 L164.76,378.95 L163.95,379.39 L163.13,379.89 L162.29,380.47 L161.44,381.11 L160.57,381.82 L159.68,382.60 L158.78,383.44 L157.86,384.35 L156.92,385.32 L155.98,386.35 L155.02,387.43 L154.05,388.56 L153.08,389.72 L152.09,390.92 L151.10,392.15 L150.10,393.39 L149.09,394.65 L148.08,395.92 L147.06,397.19 L146.04,398.45 L145.00,399.70 L143.96,400.93 L142.91,402.13 L141.85,403.30 L140.78,404.43 L139.70,405.51 L138.61,406.54 L137.50,407.51 L136.38,408.42 L135.24,409.25 L134.08,410.00 L132.90,410.66 L131.71,411.23 L130.50,411.70 L129.28,412.05 L128.06,412.29 L126.84,412.42 L125.63,412.42Z" fill="#0038ff" stroke="#0038ff" stroke-width="0.3"/><path d="M125.37,408.53 L126.18,408.30 L126.99,408.01 L127.79,407.65 L128.59,407.23 L129.41,406.74 L130.24,406.19 L131.09,405.57 L131.95,404.87 L132.84,404.11 L133.74,403.28 L134.65,402.39 L135.58,401.43 L136.53,400.42 L137.48,399.35 L138.45,398.24 L139.42,397.08 L140.40,395.89 L141.39,394.67 L142.39,393.43 L143.39,392.18 L144.41,390.91 L145.42,389.64 L146.45,388.37 L147.48,387.12 L148.52,385.89 L149.57,384.68 L150.62,383.50 L151.69,382.36 L152.77,381.26 L153.86,380.22 L154.96,379.23 L156.08,378.31 L157.22,377.46 L158.37,376.69 L159.54,376.00 L160.73,375.41 L161.93,374.91 L163.15,374.53 L164.37,374.26 L165.59,374.10 L166.81,374.07 L168.00,374.15 M125.63,412.42 L126.84,412.42 L128.06,412.29 L129.28,412.05 L130.50,411.70 L131.71,411.23 L132.90,410.66 L134.08,410.00 L135.24,409.25 L136.38,408.42 L137.50,407.51 L138.61,406.54 L139.70,405.51 L140.78,404.43 L141.85,403.30 L142.91,402.13 L143.96,400.93 L145.00,399.70 L146.04,398.45 L147.06,397.19 L148.08,395.92 L149.09,394.65 L150.10,393.39 L151.10,392.15 L152.09,390.92 L153.08,389.72 L154.05,388.56 L155.02,387.43 L155.98,386.35 L156.92,385.32 L157.86,384.35 L158.78,383.44 L159.68,382.60 L160.57,381.82 L161.44,381.11 L162.29,380.47 L163.13,379.89 L163.95,379.39 L164.76,378.95 L165.56,378.58 L166.36,378.27 L167.17,378.02 L168.00,377.85" fill="none" stroke="#1e1e1e" stroke-width="0.9"/><path d="M210.96,408.60 L211.78,408.55 L212.59,408.33 L213.39,408.05 L214.18,407.70 L214.97,407.30 L215.77,406.83 L216.59,406.29 L217.42,405.69 L218.28,405.02 L219.14,404.28 L220.03,403.48 L220.93,402.61 L221.85,401.68 L222.77,400.70 L223.71,399.66 L224.66,398.57 L225.62,397.44 L226.59,396.28 L227.56,395.08 L228.54,393.86 L229.53,392.63 L230.53,391.38 L231.53,390.13 L232.54,388.87 L233.56,387.63 L234.58,386.40 L235.61,385.20 L236.65,384.02 L237.70,382.88 L238.76,381.78 L239.83,380.72 L240.91,379.72 L242.01,378.78 L243.12,377.90 L244.25,377.09 L245.39,376.37 L246.56,375.73 L247.74,375.18 L248.93,374.74 L250.13,374.41 L251.34,374.18 L252.55,374.08 L253.74,374.09 L254.91,374.11 L254.79,377.90 L253.97,377.95 L253.16,378.17 L252.36,378.45 L251.57,378.80 L250.78,379.20 L249.98,379.67 L249.16,380.21 L248.33,380.81 L247.47,381.48 L246.61,382.22 L245.72,383.02 L244.82,383.89 L243.90,384.82 L242.98,385.80 L242.04,386.84 L241.09,387.93 L240.13,389.06 L239.16,390.22 L238.19,391.42 L237.21,392.64 L236.22,393.87 L235.22,395.12 L234.22,396.37 L233.21,397.63 L232.19,398.87 L231.17,400.10 L230.14,401.30 L229.10,402.48 L228.05,403.62 L226.99,404.72 L225.92,405.78 L224.84,406.78 L223.74,407.72 L222.63,408.60 L221.50,409.41 L220.36,410.13 L219.19,410.77 L218.01,411.32 L216.82,411.76 L215.62,412.09 L214.41,412.32 L213.20,412.42 L212.01,412.41 L210.84,412.39Z" fill="#8a8a8a" stroke="#8a8a8a" stroke-width="0.3"/><path d="M210.96,408.60 L211.78,408.55 L212.59,408.33 L213.39,408.05 L214.18,407.70 L214.97,407.30 L215.77,406.83 L216.59,406.29 L217.42,405.69 L218.28,405.02 L219.14,404.28 L220.03,403.48 L220.93,402.61 L221.85,401.68 L222.77,400.70 L223.71,399.66 L224.66,398.57 L225.62,397.44 L226.59,396.28 L227.56,395.08 L228.54,393.86 L229.53,392.63 L230.53,391.38 L231.53,390.13 L232.54,388.87 L233.56,387.63 L234.58,386.40 L235.61,385.20 L236.65,384.02 L237.70,382.88 L238.76,381.78 L239.83,380.72 L240.91,379.72 L242.01,378.78 L243.12,377.90 L244.25,377.09 L245.39,376.37 L246.56,375.73 L247.74,375.18 L248.93,374.74 L250.13,374.41 L251.34,374.18 L252.55,374.08 L253.74,374.09 L254.91,374.11 M210.84,412.39 L212.01,412.41 L213.20,412.42 L214.41,412.32 L215.62,412.09 L216.82,411.76 L218.01,411.32 L219.19,410.77 L220.36,410.13 L221.50,409.41 L222.63,408.60 L223.74,407.72 L224.84,406.78 L225.92,405.78 L226.99,404.72 L228.05,403.62 L229.10,402.48 L230.14,401.30 L231.17,400.10 L232.19,398.87 L233.21,397.63 L234.22,396.37 L235.22,395.12 L236.22,393.87 L237.21,392.64 L238.19,391.42 L239.16,390.22 L240.13,389.06 L241.09,387.93 L242.04,386.84 L242.98,385.80 L243.90,384.82 L244.82,383.89 L245.72,383.02 L246.61,382.22 L247.47,381.48 L248.33,380.81 L249.16,380.21 L249.98,379.67 L250.78,379.20 L251.57,378.80 L252.36,378.45 L253.16,378.17 L253.97,377.95 L254.79,377.90" fill="none" stroke="#1e1e1e" stroke-width="0.9"/><path d="M297.46,408.60 L298.29,408.55 L299.10,408.33 L299.90,408.05 L300.69,407.70 L301.49,407.29 L302.29,406.81 L303.11,406.27 L303.95,405.67 L304.81,404.99 L305.68,404.25 L306.57,403.44 L307.48,402.57 L308.40,401.63 L309.33,400.64 L310.27,399.59 L311.23,398.50 L312.19,397.36 L313.16,396.19 L314.14,394.99 L315.13,393.76 L316.12,392.52 L317.12,391.26 L318.13,390.00 L319.14,388.75 L320.16,387.50 L321.19,386.27 L322.23,385.07 L323.27,383.89 L324.32,382.74 L325.39,381.64 L326.47,380.59 L327.55,379.59 L328.66,378.65 L332.34,382.91 L331.44,383.77 L330.52,384.69 L329.59,385.68 L328.65,386.71 L327.70,387.80 L326.74,388.93 L325.77,390.09 L324.79,391.29 L323.80,392.51 L322.81,393.75 L321.81,395.01 L320.81,396.26 L319.79,397.52 L318.78,398.77 L317.75,400.00 L316.71,401.22 L315.67,402.40 L314.62,403.55 L313.56,404.66 L312.48,405.72 L311.40,406.73 L310.30,407.68 L309.18,408.57 L308.05,409.38 L306.90,410.11 L305.73,410.75 L304.54,411.30 L303.34,411.75 L302.14,412.09 L300.92,412.31 L299.71,412.42 L298.52,412.41 L297.34,412.39Z" fill="#8a8a8a" stroke="#8a8a8a" stroke-width="0.3"/><path d="M297.46,408.60 L298.29,408.55 L299.10,408.33 L299.90,408.05 L300.69,407.70 L301.49,407.29 L302.29,406.81 L303.11,406.27 L303.95,405.67 L304.81,404.99 L305.68,404.25 L306.57,403.44 L307.48,402.57 L308.40,401.63 L309.33,400.64 L310.27,399.59 L311.23,398.50 L312.19,397.36 L313.16,396.19 L314.14,394.99 L315.13,393.76 L316.12,392.52 L317.12,391.26 L318.13,390.00 L319.14,388.75 L320.16,387.50 L321.19,386.27 L322.23,385.07 L323.27,383.89 L324.32,382.74 L325.39,381.64 L326.47,380.59 L327.55,379.59 L328.66,378.65 M297.34,412.39 L298.52,412.41 L299.71,412.42 L300.92,412.31 L302.14,412.09 L303.34,411.75 L304.54,411.30 L305.73,410.75 L306.90,410.11 L308.05,409.38 L309.18,408.57 L310.30,407.68 L311.40,406.73 L312.48,405.72 L313.56,404.66 L314.62,403.55 L315.67,402.40 L316.71,401.22 L317.75,400.00 L318.78,398.77 L319.79,397.52 L320.81,396.26 L321.81,395.01 L322.81,393.75 L323.80,392.51 L324.79,391.29 L325.77,390.09 L326.74,388.93 L327.70,387.80 L328.65,386.71 L329.59,385.68 L330.52,384.69 L331.44,383.77 L332.34,382.91" fill="none" stroke="#1e1e1e" stroke-width="0.9"/><path d="M328.66,378.65 L329.76,377.79 L330.87,377.01 L332.01,376.30 L333.16,375.68 L334.33,375.15 L335.51,374.72 L336.70,374.39 L337.89,374.18 L339.08,374.08 L340.25,374.09 L341.38,374.13 L341.32,377.88 L340.48,377.95 L339.68,378.16 L338.89,378.44 L338.11,378.78 L337.33,379.18 L336.54,379.64 L335.73,380.16 L334.91,380.75 L334.07,381.40 L333.21,382.12 L332.34,382.91Z" fill="#fff000" stroke="#fff000" stroke-width="0.3"/><path d="M328.66,378.65 L329.76,377.79 L330.87,377.01 L332.01,376.30 L333.16,375.68 L334.33,375.15 L335.51,374.72 L336.70,374.39 L337.89,374.18 L339.08,374.08 L340.25,374.09 L341.38,374.13 M332.34,382.91 L333.21,382.12 L334.07,381.40 L334.91,380.75 L335.73,380.16 L336.54,379.64 L337.33,379.18 L338.11,378.78 L338.89,378.44 L339.68,378.16 L340.48,377.95 L341.32,377.88" fill="none" stroke="#1e1e1e" stroke-width="0.9"/><path d="M391.68,399.12 L392.57,399.07 L393.43,398.89 L394.28,398.65 L395.12,398.36 L395.97,398.01 L396.82,397.61 L397.67,397.16 L398.54,396.66 L399.42,396.10 L400.31,395.49 L401.22,394.84 L402.14,394.13 L403.07,393.38 L404.01,392.59 L404.96,391.75 L405.92,390.89 L406.90,390.00 L407.88,389.08 L408.87,388.14 L409.87,387.19 L410.87,386.23 L411.89,385.27 L412.91,384.32 L413.95,383.37 L414.99,382.43 L416.04,381.52 L417.10,380.63 L418.17,379.78 L419.25,378.96 L420.34,378.19 L421.45,377.47 L422.57,376.80 L423.70,376.19 L424.84,375.65 L426.00,375.18 L427.16,374.79 L428.33,374.48 L429.67,378.84 L428.82,379.22 L427.96,379.65 L427.10,380.14 L426.23,380.67 L425.34,381.26 L424.44,381.90 L423.52,382.59 L422.60,383.32 L421.66,384.10 L420.71,384.91 L419.76,385.77 L418.79,386.65 L417.81,387.56 L416.82,388.49 L415.83,389.43 L414.82,390.39 L413.81,391.35 L412.79,392.31 L411.76,393.26 L410.72,394.20 L409.68,395.12 L408.62,396.02 L407.56,396.89 L406.48,397.72 L405.39,398.51 L404.29,399.26 L403.17,399.95 L402.05,400.58 L400.91,401.15 L399.76,401.65 L398.60,402.07 L397.43,402.41 L396.25,402.66 L395.08,402.83 L393.91,402.91 L392.75,402.90 L391.62,402.87Z" fill="#f08a1e" stroke="#f08a1e" stroke-width="0.3"/><path d="M391.68,399.12 L392.57,399.07 L393.43,398.89 L394.28,398.65 L395.12,398.36 L395.97,398.01 L396.82,397.61 L397.67,397.16 L398.54,396.66 L399.42,396.10 L400.31,395.49 L401.22,394.84 L402.14,394.13 L403.07,393.38 L404.01,392.59 L404.96,391.75 L405.92,390.89 L406.90,390.00 L407.88,389.08 L408.87,388.14 L409.87,387.19 L410.87,386.23 L411.89,385.27 L412.91,384.32 L413.95,383.37 L414.99,382.43 L416.04,381.52 L417.10,380.63 L418.17,379.78 L419.25,378.96 L420.34,378.19 L421.45,377.47 L422.57,376.80 L423.70,376.19 L424.84,375.65 L426.00,375.18 L427.16,374.79 L428.33,374.48 M391.62,402.87 L392.75,402.90 L393.91,402.91 L395.08,402.83 L396.25,402.66 L397.43,402.41 L398.60,402.07 L399.76,401.65 L400.91,401.15 L402.05,400.58 L403.17,399.95 L404.29,399.26 L405.39,398.51 L406.48,397.72 L407.56,396.89 L408.62,396.02 L409.68,395.12 L410.72,394.20 L411.76,393.26 L412.79,392.31 L413.81,391.35 L414.82,390.39 L415.83,389.43 L416.82,388.49 L417.81,387.56 L418.79,386.65 L419.76,385.77 L420.71,384.91 L421.66,384.10 L422.60,383.32 L423.52,382.59 L424.44,381.90 L425.34,381.26 L426.23,380.67 L427.10,380.14 L427.96,379.65 L428.82,379.22 L429.67,378.84" fill="none" stroke="#1e1e1e" stroke-width="0.9"/><path d="M428.33,374.48 L429.40,374.28 L430.47,374.14 L431.54,374.09 L432.59,374.10 L433.63,374.13 L433.57,377.88 L432.77,377.93 L431.98,378.09 L431.21,378.29 L430.44,378.55 L429.67,378.84Z" fill="#8a8a8a" stroke="#8a8a8a" stroke-width="0.3"/><path d="M428.33,374.48 L429.40,374.28 L430.47,374.14 L431.54,374.09 L432.59,374.10 L433.63,374.13 M429.67,378.84 L430.44,378.55 L431.21,378.29 L431.98,378.09 L432.77,377.93 L433.57,377.88" fill="none" stroke="#1e1e1e" stroke-width="0.9"/><path d="M476.69,395.11 L477.60,395.09 L478.50,394.96 L479.39,394.78 L480.28,394.55 L481.17,394.28 L482.06,393.97 L482.96,393.61 L483.85,393.22 L484.76,392.78 L485.67,392.31 L486.59,391.80 L487.51,391.25 L488.45,390.67 L489.39,390.06 L490.34,389.42 L491.30,388.75 L492.27,388.05 L493.25,387.34 L494.23,386.61 L495.22,385.87 L496.22,385.11 L497.23,384.35 L498.24,383.59 L499.26,382.83 L500.29,382.08 L501.33,381.33 L502.37,380.60 L503.42,379.89 L504.48,379.21 L505.55,378.54 L506.62,377.91 L507.71,377.32 L508.80,376.76 L509.90,376.25 L511.01,375.79 L512.13,375.37 L513.25,375.01 L514.38,374.71 L515.51,374.46 L516.64,374.28 L517.77,374.16 L518.90,374.10 L520.02,374.11 L521.15,374.11 L521.05,377.89 L520.16,377.92 L519.26,378.06 L518.37,378.24 L517.48,378.47 L516.59,378.75 L515.70,379.07 L514.81,379.42 L513.91,379.82 L513.00,380.26 L512.09,380.74 L511.17,381.25 L510.25,381.80 L509.31,382.39 L508.37,383.00 L507.41,383.65 L506.45,384.32 L505.48,385.02 L504.51,385.73 L503.52,386.46 L502.53,387.21 L501.53,387.96 L500.52,388.72 L499.51,389.49 L498.49,390.24 L497.46,391.00 L496.42,391.74 L495.38,392.47 L494.33,393.18 L493.26,393.86 L492.20,394.52 L491.12,395.15 L490.03,395.74 L488.94,396.29 L487.84,396.80 L486.73,397.26 L485.61,397.67 L484.49,398.02 L483.36,398.32 L482.23,398.56 L481.10,398.74 L479.97,398.85 L478.84,398.90 L477.72,398.89 L476.61,398.88Z" fill="#8a8a8a" stroke="#8a8a8a" stroke-width="0.3"/><path d="M476.69,395.11 L477.60,395.09 L478.50,394.96 L479.39,394.78 L480.28,394.55 L481.17,394.28 L482.06,393.97 L482.96,393.61 L483.85,393.22 L484.76,392.78 L485.67,392.31 L486.59,391.80 L487.51,391.25 L488.45,390.67 L489.39,390.06 L490.34,389.42 L491.30,388.75 L492.27,388.05 L493.25,387.34 L494.23,386.61 L495.22,385.87 L496.22,385.11 L497.23,384.35 L498.24,383.59 L499.26,382.83 L500.29,382.08 L501.33,381.33 L502.37,380.60 L503.42,379.89 L504.48,379.21 L505.55,378.54 L506.62,377.91 L507.71,377.32 L508.80,376.76 L509.90,376.25 L511.01,375.79 L512.13,375.37 L513.25,375.01 L514.38,374.71 L515.51,374.46 L516.64,374.28 L517.77,374.16 L518.90,374.10 L520.02,374.11 L521.15,374.11 M476.61,398.88 L477.72,398.89 L478.84,398.90 L479.97,398.85 L481.10,398.74 L482.23,398.56 L483.36,398.32 L484.49,398.02 L485.61,397.67 L486.73,397.26 L487.84,396.80 L488.94,396.29 L490.03,395.74 L491.12,395.15 L492.20,394.52 L493.26,393.86 L494.33,393.18 L495.38,392.47 L496.42,391.74 L497.46,391.00 L498.49,390.24 L499.51,389.49 L500.52,388.72 L501.53,387.96 L502.53,387.21 L503.52,386.46 L504.51,385.73 L505.48,385.02 L506.45,384.32 L507.41,383.65 L508.37,383.00 L509.31,382.39 L510.25,381.80 L511.17,381.25 L512.09,380.74 L513.00,380.26 L513.91,379.82 L514.81,379.42 L515.70,379.07 L516.59,378.75 L517.48,378.47 L518.37,378.24 L519.26,378.06 L520.16,377.92 L521.05,377.89" fill="none" stroke="#1e1e1e" stroke-width="0.9"/><path d="M563.47,408.59 L564.28,408.56 L565.08,408.35 L565.87,408.07 L566.65,407.73 L567.43,407.33 L568.22,406.86 L569.03,406.34 L569.85,405.74 L570.69,405.08 L571.55,404.35 L572.43,403.56 L573.32,402.70 L574.22,401.78 L575.14,400.81 L576.07,399.78 L577.01,398.70 L577.95,397.58 L578.91,396.43 L579.87,395.24 L580.84,394.03 L581.83,392.80 L582.81,391.56 L583.80,390.31 L584.80,389.06 L585.80,387.82 L586.82,386.60 L587.83,385.39 L588.86,384.22 L589.90,383.07 L590.95,381.97 L592.00,380.90 L593.08,379.90 L594.16,378.95 L595.26,378.06 L596.37,377.24 L597.51,376.50 L598.66,375.85 L601.34,380.32 L600.52,380.93 L599.67,381.61 L598.81,382.36 L597.93,383.17 L597.03,384.05 L596.12,384.98 L595.20,385.97 L594.27,387.02 L593.33,388.10 L592.38,389.24 L591.42,390.40 L590.46,391.60 L589.48,392.81 L588.50,394.04 L587.51,395.29 L586.52,396.54 L585.52,397.78 L584.52,399.02 L583.50,400.24 L582.48,401.44 L581.45,402.61 L580.41,403.74 L579.36,404.84 L578.30,405.88 L577.22,406.87 L576.14,407.81 L575.03,408.68 L573.91,409.47 L572.78,410.19 L571.62,410.82 L570.45,411.35 L569.26,411.79 L568.07,412.11 L566.87,412.33 L565.67,412.43 L564.49,412.41 L563.33,412.40Z" fill="#8a8a8a" stroke="#8a8a8a" stroke-width="0.3"/><path d="M563.47,408.59 L564.28,408.56 L565.08,408.35 L565.87,408.07 L566.65,407.73 L567.43,407.33 L568.22,406.86 L569.03,406.34 L569.85,405.74 L570.69,405.08 L571.55,404.35 L572.43,403.56 L573.32,402.70 L574.22,401.78 L575.14,400.81 L576.07,399.78 L577.01,398.70 L577.95,397.58 L578.91,396.43 L579.87,395.24 L580.84,394.03 L581.83,392.80 L582.81,391.56 L583.80,390.31 L584.80,389.06 L585.80,387.82 L586.82,386.60 L587.83,385.39 L588.86,384.22 L589.90,383.07 L590.95,381.97 L592.00,380.90 L593.08,379.90 L594.16,378.95 L595.26,378.06 L596.37,377.24 L597.51,376.50 L598.66,375.85 M563.33,412.40 L564.49,412.41 L565.67,412.43 L566.87,412.33 L568.07,412.11 L569.26,411.79 L570.45,411.35 L571.62,410.82 L572.78,410.19 L573.91,409.47 L575.03,408.68 L576.14,407.81 L577.22,406.87 L578.30,405.88 L579.36,404.84 L580.41,403.74 L581.45,402.61 L582.48,401.44 L583.50,400.24 L584.52,399.02 L585.52,397.78 L586.52,396.54 L587.51,395.29 L588.50,394.04 L589.48,392.81 L590.46,391.60 L591.42,390.40 L592.38,389.24 L593.33,388.10 L594.27,387.02 L595.20,385.97 L596.12,384.98 L597.03,384.05 L597.93,383.17 L598.81,382.36 L599.67,381.61 L600.52,380.93 L601.34,380.32" fill="none" stroke="#1e1e1e" stroke-width="0.9"/><path d="M504.93,409.55 L505.83,409.28 L506.66,408.85 L507.44,408.34 L508.17,407.75 L508.95,407.32 L509.74,406.85 L510.55,406.32 L511.38,405.72 L512.22,405.06 L513.09,404.32 L513.97,403.52 L514.86,402.66 L515.77,401.73 L516.69,400.75 L517.62,399.72 L518.57,398.63 L519.52,397.51 L520.48,396.34 L521.45,395.15 L522.42,393.93 L523.41,392.70 L524.40,391.45 L525.40,390.19 L526.40,388.94 L527.40,387.70 L528.42,386.47 L529.45,385.26 L530.48,384.08 L531.52,382.94 L532.57,381.83 L533.64,380.78 L534.71,379.77 L535.80,378.82 L536.91,377.94 L538.03,377.13 L539.17,376.40 L540.33,375.76 L541.50,375.21 L542.69,374.76 L543.89,374.42 L545.10,374.19 L546.30,374.08 L547.48,374.08 L548.65,374.11 L548.55,377.89 L547.73,377.96 L546.93,378.18 L546.14,378.47 L545.36,378.82 L544.57,379.23 L543.78,379.70 L542.97,380.24 L542.14,380.84 L541.29,381.51 L540.43,382.25 L539.55,383.06 L538.65,383.93 L537.74,384.86 L536.82,385.85 L535.88,386.89 L534.94,387.98 L533.99,389.11 L533.02,390.28 L532.05,391.47 L531.08,392.69 L530.09,393.93 L529.10,395.18 L528.10,396.43 L527.10,397.68 L526.09,398.93 L525.08,400.15 L524.05,401.36 L523.02,402.53 L521.97,403.67 L520.92,404.77 L519.85,405.83 L518.78,406.83 L517.68,407.77 L516.58,408.64 L515.45,409.44 L514.31,410.17 L513.15,410.80 L511.98,411.34 L510.79,411.78 L509.58,412.08 L508.32,412.05 L507.11,411.92 L505.96,411.69 L504.87,411.43Z" fill="#8a8a8a" stroke="#8a8a8a" stroke-width="0.3"/><path d="M504.93,409.55 L505.83,409.28 L506.66,408.85 L507.44,408.34 L508.17,407.75 L508.95,407.32 L509.74,406.85 L510.55,406.32 L511.38,405.72 L512.22,405.06 L513.09,404.32 L513.97,403.52 L514.86,402.66 L515.77,401.73 L516.69,400.75 L517.62,399.72 L518.57,398.63 L519.52,397.51 L520.48,396.34 L521.45,395.15 L522.42,393.93 L523.41,392.70 L524.40,391.45 L525.40,390.19 L526.40,388.94 L527.40,387.70 L528.42,386.47 L529.45,385.26 L530.48,384.08 L531.52,382.94 L532.57,381.83 L533.64,380.78 L534.71,379.77 L535.80,378.82 L536.91,377.94 L538.03,377.13 L539.17,376.40 L540.33,375.76 L541.50,375.21 L542.69,374.76 L543.89,374.42 L545.10,374.19 L546.30,374.08 L547.48,374.08 L548.65,374.11 M504.87,411.43 L505.96,411.69 L507.11,411.92 L508.32,412.05 L509.58,412.08 L510.79,411.78 L511.98,411.34 L513.15,410.80 L514.31,410.17 L515.45,409.44 L516.58,408.64 L517.68,407.77 L518.78,406.83 L519.85,405.83 L520.92,404.77 L521.97,403.67 L523.02,402.53 L524.05,401.36 L525.08,400.15 L526.09,398.93 L527.10,397.68 L528.10,396.43 L529.10,395.18 L530.09,393.93 L531.08,392.69 L532.05,391.47 L533.02,390.28 L533.99,389.11 L534.94,387.98 L535.88,386.89 L536.82,385.85 L537.74,384.86 L538.65,383.93 L539.55,383.06 L540.43,382.25 L541.29,381.51 L542.14,380.84 L542.97,380.24 L543.78,379.70 L544.57,379.23 L545.36,378.82 L546.14,378.47 L546.93,378.18 L547.73,377.96 L548.55,377.89" fill="none" stroke="#1e1e1e" stroke-width="0.9"/><path d="M590.97,408.59 L591.80,408.55 L592.62,408.33 L593.42,408.05 L594.22,407.70 L595.02,407.28 L595.83,406.80 L596.66,406.25 L597.50,405.63 L598.36,404.94 L601.64,409.32 L600.48,410.07 L599.30,410.73 L598.10,411.29 L596.89,411.74 L595.67,412.09 L594.45,412.32 L593.23,412.42 L592.02,412.41 L590.83,412.40Z" fill="#8a8a8a" stroke="#8a8a8a" stroke-width="0.3"/><path d="M590.97,408.59 L591.80,408.55 L592.62,408.33 L593.42,408.05 L594.22,407.70 L595.02,407.28 L595.83,406.80 L596.66,406.25 L597.50,405.63 L598.36,404.94 M590.83,412.40 L592.02,412.41 L593.23,412.42 L594.45,412.32 L595.67,412.09 L596.89,411.74 L598.10,411.29 L599.30,410.73 L600.48,410.07 L601.64,409.32" fill="none" stroke="#1e1e1e" stroke-width="0.9"/>
<path d="M53.10,374.52 L54.25,374.28 L55.45,374.08 L56.66,374.18 L57.87,374.41 L59.07,374.74 L60.26,375.18 L61.44,375.73 L62.61,376.37 L63.75,377.09 L64.88,377.90 L65.99,378.78 L67.09,379.72 L68.17,380.72 L69.24,381.78 L70.30,382.88 L71.35,384.02 L72.39,385.20 L73.42,386.40 L74.44,387.63 L75.46,388.87 L76.47,390.13 L77.47,391.38 L78.47,392.63 L79.46,393.86 L80.44,395.08 L81.41,396.28 L82.38,397.44 L83.34,398.57 L84.29,399.66 L85.23,400.70 L86.15,401.68 L87.07,402.61 L87.97,403.48 L88.86,404.28 L89.72,405.02 L90.58,405.69 L91.41,406.29 L92.23,406.83 L93.03,407.30 L93.82,407.70 L94.61,408.05 L95.41,408.33 L96.22,408.55 L97.04,408.60 L97.16,412.39 L95.99,412.41 L94.80,412.42 L93.59,412.32 L92.38,412.09 L91.18,411.76 L89.99,411.32 L88.81,410.77 L87.64,410.13 L86.50,409.41 L85.37,408.60 L84.26,407.72 L83.16,406.78 L82.08,405.78 L81.01,404.72 L79.95,403.62 L78.90,402.48 L77.86,401.30 L76.83,400.10 L75.81,398.87 L74.79,397.63 L73.78,396.37 L72.78,395.12 L71.78,393.87 L70.79,392.64 L69.81,391.42 L68.84,390.22 L67.87,389.06 L66.91,387.93 L65.96,386.84 L65.02,385.80 L64.10,384.82 L63.18,383.89 L62.28,383.02 L61.39,382.22 L60.53,381.48 L59.67,380.81 L58.84,380.21 L58.02,379.67 L57.22,379.20 L56.43,378.80 L55.64,378.45 L54.84,378.17 L54.05,377.76 L53.20,377.49Z" fill="#8a8a8a" stroke="#8a8a8a" stroke-width="0.3"/><path d="M53.10,374.52 L54.25,374.28 L55.45,374.08 L56.66,374.18 L57.87,374.41 L59.07,374.74 L60.26,375.18 L61.44,375.73 L62.61,376.37 L63.75,377.09 L64.88,377.90 L65.99,378.78 L67.09,379.72 L68.17,380.72 L69.24,381.78 L70.30,382.88 L71.35,384.02 L72.39,385.20 L73.42,386.40 L74.44,387.63 L75.46,388.87 L76.47,390.13 L77.47,391.38 L78.47,392.63 L79.46,393.86 L80.44,395.08 L81.41,396.28 L82.38,397.44 L83.34,398.57 L84.29,399.66 L85.23,400.70 L86.15,401.68 L87.07,402.61 L87.97,403.48 L88.86,404.28 L89.72,405.02 L90.58,405.69 L91.41,406.29 L92.23,406.83 L93.03,407.30 L93.82,407.70 L94.61,408.05 L95.41,408.33 L96.22,408.55 L97.04,408.60 M53.20,377.49 L54.05,377.76 L54.84,378.17 L55.64,378.45 L56.43,378.80 L57.22,379.20 L58.02,379.67 L58.84,380.21 L59.67,380.81 L60.53,381.48 L61.39,382.22 L62.28,383.02 L63.18,383.89 L64.10,384.82 L65.02,385.80 L65.96,386.84 L66.91,387.93 L67.87,389.06 L68.84,390.22 L69.81,391.42 L70.79,392.64 L71.78,393.87 L72.78,395.12 L73.78,396.37 L74.79,397.63 L75.81,398.87 L76.83,400.10 L77.86,401.30 L78.90,402.48 L79.95,403.62 L81.01,404.72 L82.08,405.78 L83.16,406.78 L84.26,407.72 L85.37,408.60 L86.50,409.41 L87.64,410.13 L88.81,410.77 L89.99,411.32 L91.18,411.76 L92.38,412.09 L93.59,412.32 L94.80,412.42 L95.99,412.41 L97.16,412.39" fill="none" stroke="#1e1e1e" stroke-width="0.9"/><path d="M139.59,374.11 L140.78,374.08 L141.99,374.08 L143.21,374.19 L144.43,374.42 L145.65,374.77 L146.86,375.23 L148.06,375.79 L149.23,376.44 L150.39,377.19 L151.54,378.01 L152.66,378.91 L153.77,379.88 L154.86,380.90 L155.95,381.98 L157.02,383.11 L158.08,384.28 L159.13,385.48 L160.17,386.70 L161.21,387.95 L162.24,389.21 L163.26,390.48 L164.27,391.75 L165.28,393.02 L166.28,394.26 L167.27,395.49 L168.26,396.69 L169.23,397.86 L170.20,398.99 L165.80,402.92 L164.74,401.74 L163.69,400.53 L162.65,399.29 L161.62,398.03 L160.60,396.77 L159.58,395.50 L158.57,394.23 L157.56,392.97 L156.57,391.73 L155.58,390.51 L154.59,389.32 L153.62,388.17 L152.66,387.06 L151.70,386.00 L150.76,384.99 L149.83,384.04 L148.91,383.15 L148.01,382.32 L147.13,381.57 L146.27,380.88 L145.42,380.26 L144.59,379.71 L143.77,379.23 L142.97,378.82 L142.17,378.46 L141.36,378.18 L140.55,377.96 L139.71,377.90Z" fill="#0038ff" stroke="#0038ff" stroke-width="0.3"/><path d="M139.59,374.11 L140.78,374.08 L141.99,374.08 L143.21,374.19 L144.43,374.42 L145.65,374.77 L146.86,375.23 L148.06,375.79 L149.23,376.44 L150.39,377.19 L151.54,378.01 L152.66,378.91 L153.77,379.88 L154.86,380.90 L155.95,381.98 L157.02,383.11 L158.08,384.28 L159.13,385.48 L160.17,386.70 L161.21,387.95 L162.24,389.21 L163.26,390.48 L164.27,391.75 L165.28,393.02 L166.28,394.26 L167.27,395.49 L168.26,396.69 L169.23,397.86 L170.20,398.99 M139.71,377.90 L140.55,377.96 L141.36,378.18 L142.17,378.46 L142.97,378.82 L143.77,379.23 L144.59,379.71 L145.42,380.26 L146.27,380.88 L147.13,381.57 L148.01,382.32 L148.91,383.15 L149.83,384.04 L150.76,384.99 L151.70,386.00 L152.66,387.06 L153.62,388.17 L154.59,389.32 L155.58,390.51 L156.57,391.73 L157.56,392.97 L158.57,394.23 L159.58,395.50 L160.60,396.77 L161.62,398.03 L162.65,399.29 L163.69,400.53 L164.74,401.74 L165.80,402.92" fill="none" stroke="#1e1e1e" stroke-width="0.9"/><path d="M170.20,398.99 L171.12,400.04 L172.04,401.03 L172.94,401.98 L173.83,402.87 L174.70,403.70 L175.56,404.46 L176.41,405.17 L177.24,405.81 L178.05,406.39 L178.84,406.90 L179.63,407.35 L180.40,407.74 L181.17,408.07 L181.95,408.34 L182.73,408.55 L183.54,408.60 L183.66,412.39 L182.52,412.41 L181.35,412.42 L180.18,412.33 L179.00,412.12 L177.82,411.80 L176.66,411.39 L175.50,410.87 L174.36,410.26 L173.24,409.57 L172.14,408.80 L171.05,407.96 L169.97,407.06 L168.91,406.10 L167.86,405.08 L166.83,404.02 L165.80,402.92Z" fill="#48ff48" stroke="#48ff48" stroke-width="0.3"/><path d="M170.20,398.99 L171.12,400.04 L172.04,401.03 L172.94,401.98 L173.83,402.87 L174.70,403.70 L175.56,404.46 L176.41,405.17 L177.24,405.81 L178.05,406.39 L178.84,406.90 L179.63,407.35 L180.40,407.74 L181.17,408.07 L181.95,408.34 L182.73,408.55 L183.54,408.60 M165.80,402.92 L166.83,404.02 L167.86,405.08 L168.91,406.10 L169.97,407.06 L171.05,407.96 L172.14,408.80 L173.24,409.57 L174.36,410.26 L175.50,410.87 L176.66,411.39 L177.82,411.80 L179.00,412.12 L180.18,412.33 L181.35,412.42 L182.52,412.41 L183.66,412.39" fill="none" stroke="#1e1e1e" stroke-width="0.9"/><path d="M226.09,374.11 L227.26,374.09 L228.45,374.08 L229.66,374.18 L230.87,374.41 L232.07,374.74 L233.26,375.18 L234.44,375.73 L235.61,376.37 L236.75,377.09 L237.88,377.90 L238.99,378.78 L240.09,379.72 L241.17,380.72 L242.24,381.78 L243.30,382.88 L244.35,384.02 L245.39,385.20 L246.42,386.40 L247.44,387.63 L248.46,388.87 L249.47,390.13 L250.47,391.38 L251.47,392.63 L252.46,393.86 L253.44,395.08 L254.41,396.28 L255.38,397.44 L256.34,398.57 L257.29,399.66 L258.23,400.70 L259.15,401.68 L260.07,402.61 L260.97,403.48 L261.86,404.28 L262.72,405.02 L263.58,405.69 L264.41,406.29 L265.23,406.83 L266.03,407.30 L266.82,407.70 L267.61,408.05 L268.41,408.33 L269.22,408.55 L270.04,408.60 L270.16,412.39 L268.99,412.41 L267.80,412.42 L266.59,412.32 L265.38,412.09 L264.18,411.76 L262.99,411.32 L261.81,410.77 L260.64,410.13 L259.50,409.41 L258.37,408.60 L257.26,407.72 L256.16,406.78 L255.08,405.78 L254.01,404.72 L252.95,403.62 L251.90,402.48 L250.86,401.30 L249.83,400.10 L248.81,398.87 L247.79,397.63 L246.78,396.37 L245.78,395.12 L244.78,393.87 L243.79,392.64 L242.81,391.42 L241.84,390.22 L240.87,389.06 L239.91,387.93 L238.96,386.84 L238.02,385.80 L237.10,384.82 L236.18,383.89 L235.28,383.02 L234.39,382.22 L233.53,381.48 L232.67,380.81 L231.84,380.21 L231.02,379.67 L230.22,379.20 L229.43,378.80 L228.64,378.45 L227.84,378.17 L227.03,377.95 L226.21,377.90Z" fill="#8a8a8a" stroke="#8a8a8a" stroke-width="0.3"/><path d="M226.09,374.11 L227.26,374.09 L228.45,374.08 L229.66,374.18 L230.87,374.41 L232.07,374.74 L233.26,375.18 L234.44,375.73 L235.61,376.37 L236.75,377.09 L237.88,377.90 L238.99,378.78 L240.09,379.72 L241.17,380.72 L242.24,381.78 L243.30,382.88 L244.35,384.02 L245.39,385.20 L246.42,386.40 L247.44,387.63 L248.46,388.87 L249.47,390.13 L250.47,391.38 L251.47,392.63 L252.46,393.86 L253.44,395.08 L254.41,396.28 L255.38,397.44 L256.34,398.57 L257.29,399.66 L258.23,400.70 L259.15,401.68 L260.07,402.61 L260.97,403.48 L261.86,404.28 L262.72,405.02 L263.58,405.69 L264.41,406.29 L265.23,406.83 L266.03,407.30 L266.82,407.70 L267.61,408.05 L268.41,408.33 L269.22,408.55 L270.04,408.60 M226.21,377.90 L227.03,377.95 L227.84,378.17 L228.64,378.45 L229.43,378.80 L230.22,379.20 L231.02,379.67 L231.84,380.21 L232.67,380.81 L233.53,381.48 L234.39,382.22 L235.28,383.02 L236.18,383.89 L237.10,384.82 L238.02,385.80 L238.96,386.84 L239.91,387.93 L240.87,389.06 L241.84,390.22 L242.81,391.42 L243.79,392.64 L244.78,393.87 L245.78,395.12 L246.78,396.37 L247.79,397.63 L248.81,398.87 L249.83,400.10 L250.86,401.30 L251.90,402.48 L252.95,403.62 L254.01,404.72 L255.08,405.78 L256.16,406.78 L257.26,407.72 L258.37,408.60 L259.50,409.41 L260.64,410.13 L261.81,410.77 L262.99,411.32 L264.18,411.76 L265.38,412.09 L266.59,412.32 L267.80,412.42 L268.99,412.41 L270.16,412.39" fill="none" stroke="#1e1e1e" stroke-width="0.9"/><path d="M312.59,374.11 L313.71,374.11 L314.81,374.10 L315.93,374.15 L317.04,374.27 L318.16,374.45 L319.28,374.69 L320.39,375.00 L321.51,375.36 L322.61,375.79 L323.72,376.27 L324.81,376.80 L325.90,377.38 L326.98,378.01 L328.06,378.69 L329.12,379.41 L330.18,380.16 L331.23,380.95 L332.28,381.78 L328.72,386.07 L327.78,385.28 L326.85,384.52 L325.93,383.80 L325.01,383.11 L324.10,382.47 L323.20,381.86 L322.30,381.29 L321.42,380.76 L320.54,380.27 L319.66,379.82 L318.79,379.42 L317.92,379.06 L317.06,378.74 L316.19,378.47 L315.32,378.24 L314.45,378.05 L313.57,377.91 L312.71,377.90Z" fill="#8a8a8a" stroke="#8a8a8a" stroke-width="0.3"/><path d="M312.59,374.11 L313.71,374.11 L314.81,374.10 L315.93,374.15 L317.04,374.27 L318.16,374.45 L319.28,374.69 L320.39,375.00 L321.51,375.36 L322.61,375.79 L323.72,376.27 L324.81,376.80 L325.90,377.38 L326.98,378.01 L328.06,378.69 L329.12,379.41 L330.18,380.16 L331.23,380.95 L332.28,381.78 M312.71,377.90 L313.57,377.91 L314.45,378.05 L315.32,378.24 L316.19,378.47 L317.06,378.74 L317.92,379.06 L318.79,379.42 L319.66,379.82 L320.54,380.27 L321.42,380.76 L322.30,381.29 L323.20,381.86 L324.10,382.47 L325.01,383.11 L325.93,383.80 L326.85,384.52 L327.78,385.28 L328.72,386.07" fill="none" stroke="#1e1e1e" stroke-width="0.9"/><path d="M332.28,381.78 L333.34,382.65 L334.40,383.55 L335.45,384.47 L336.50,385.41 L337.54,386.38 L338.57,387.35 L339.60,388.34 L340.63,389.33 L341.65,390.33 L342.66,391.33 L343.67,392.33 L344.68,393.32 L345.68,394.30 L346.68,395.27 L347.67,396.22 L348.66,397.16 L349.64,398.07 L350.61,398.96 L351.58,399.82 L352.54,400.65 L353.50,401.45 L354.45,402.21 L355.39,402.94 L356.33,403.63 L357.25,404.28 L358.17,404.89 L359.08,405.45 L359.99,405.97 L360.80,406.66 L361.61,407.32 L362.44,407.95 L363.30,408.53 L364.18,409.06 L365.09,409.55 L366.03,410.00 L367.00,410.47 L367.00,410.47 L365.94,410.77 L364.86,410.93 L363.74,411.02 L362.59,411.04 L361.42,411.00 L360.22,410.89 L359.01,410.72 L357.79,410.46 L356.67,409.94 L355.55,409.36 L354.44,408.74 L353.34,408.06 L352.25,407.35 L351.16,406.59 L350.08,405.79 L349.01,404.96 L347.95,404.09 L346.89,403.20 L345.84,402.29 L344.79,401.35 L343.75,400.39 L342.71,399.42 L341.68,398.43 L340.65,397.44 L339.63,396.44 L338.61,395.44 L337.60,394.44 L336.59,393.45 L335.59,392.47 L334.59,391.49 L333.60,390.54 L332.61,389.60 L331.63,388.68 L330.65,387.78 L329.68,386.91 L328.72,386.07Z" fill="#fff000" stroke="#fff000" stroke-width="0.3"/><path d="M332.28,381.78 L333.34,382.65 L334.40,383.55 L335.45,384.47 L336.50,385.41 L337.54,386.38 L338.57,387.35 L339.60,388.34 L340.63,389.33 L341.65,390.33 L342.66,391.33 L343.67,392.33 L344.68,393.32 L345.68,394.30 L346.68,395.27 L347.67,396.22 L348.66,397.16 L349.64,398.07 L350.61,398.96 L351.58,399.82 L352.54,400.65 L353.50,401.45 L354.45,402.21 L355.39,402.94 L356.33,403.63 L357.25,404.28 L358.17,404.89 L359.08,405.45 L359.99,405.97 L360.80,406.66 L361.61,407.32 L362.44,407.95 L363.30,408.53 L364.18,409.06 L365.09,409.55 L366.03,410.00 L367.00,410.47 M328.72,386.07 L329.68,386.91 L330.65,387.78 L331.63,388.68 L332.61,389.60 L333.60,390.54 L334.59,391.49 L335.59,392.47 L336.59,393.45 L337.60,394.44 L338.61,395.44 L339.63,396.44 L340.65,397.44 L341.68,398.43 L342.71,399.42 L343.75,400.39 L344.79,401.35 L345.84,402.29 L346.89,403.20 L347.95,404.09 L349.01,404.96 L350.08,405.79 L351.16,406.59 L352.25,407.35 L353.34,408.06 L354.44,408.74 L355.55,409.36 L356.67,409.94 L357.79,410.46 L359.01,410.72 L360.22,410.89 L361.42,411.00 L362.59,411.04 L363.74,411.02 L364.86,410.93 L365.94,410.77 L367.00,410.47" fill="none" stroke="#1e1e1e" stroke-width="0.9"/><path d="M81.10,374.52 L82.25,374.28 L83.45,374.08 L84.66,374.18 L85.87,374.41 L87.07,374.74 L88.26,375.18 L89.44,375.73 L90.61,376.37 L91.75,377.09 L92.88,377.90 L93.99,378.78 L95.09,379.72 L96.17,380.72 L97.24,381.78 L98.30,382.88 L99.35,384.02 L100.39,385.20 L101.42,386.40 L102.44,387.63 L103.46,388.87 L104.47,390.13 L105.47,391.38 L106.47,392.63 L107.46,393.86 L108.44,395.08 L109.41,396.28 L110.38,397.44 L111.34,398.57 L112.29,399.66 L113.23,400.70 L114.15,401.68 L115.07,402.61 L115.97,403.48 L116.86,404.28 L117.72,405.02 L118.58,405.69 L119.41,406.29 L120.23,406.83 L121.03,407.30 L121.82,407.70 L122.61,408.05 L123.41,408.33 L124.22,408.55 L125.04,408.60 L125.16,412.39 L123.99,412.41 L122.80,412.42 L121.59,412.32 L120.38,412.09 L119.18,411.76 L117.99,411.32 L116.81,410.77 L115.64,410.13 L114.50,409.41 L113.37,408.60 L112.26,407.72 L111.16,406.78 L110.08,405.78 L109.01,404.72 L107.95,403.62 L106.90,402.48 L105.86,401.30 L104.83,400.10 L103.81,398.87 L102.79,397.63 L101.78,396.37 L100.78,395.12 L99.78,393.87 L98.79,392.64 L97.81,391.42 L96.84,390.22 L95.87,389.06 L94.91,387.93 L93.96,386.84 L93.02,385.80 L92.10,384.82 L91.18,383.89 L90.28,383.02 L89.39,382.22 L88.53,381.48 L87.67,380.81 L86.84,380.21 L86.02,379.67 L85.22,379.20 L84.43,378.80 L83.64,378.45 L82.84,378.17 L82.05,377.76 L81.20,377.49Z" fill="#8a8a8a" stroke="#8a8a8a" stroke-width="0.3"/><path d="M81.10,374.52 L82.25,374.28 L83.45,374.08 L84.66,374.18 L85.87,374.41 L87.07,374.74 L88.26,375.18 L89.44,375.73 L90.61,376.37 L91.75,377.09 L92.88,377.90 L93.99,378.78 L95.09,379.72 L96.17,380.72 L97.24,381.78 L98.30,382.88 L99.35,384.02 L100.39,385.20 L101.42,386.40 L102.44,387.63 L103.46,388.87 L104.47,390.13 L105.47,391.38 L106.47,392.63 L107.46,393.86 L108.44,395.08 L109.41,396.28 L110.38,397.44 L111.34,398.57 L112.29,399.66 L113.23,400.70 L114.15,401.68 L115.07,402.61 L115.97,403.48 L116.86,404.28 L117.72,405.02 L118.58,405.69 L119.41,406.29 L120.23,406.83 L121.03,407.30 L121.82,407.70 L122.61,408.05 L123.41,408.33 L124.22,408.55 L125.04,408.60 M81.20,377.49 L82.05,377.76 L82.84,378.17 L83.64,378.45 L84.43,378.80 L85.22,379.20 L86.02,379.67 L86.84,380.21 L87.67,380.81 L88.53,381.48 L89.39,382.22 L90.28,383.02 L91.18,383.89 L92.10,384.82 L93.02,385.80 L93.96,386.84 L94.91,387.93 L95.87,389.06 L96.84,390.22 L97.81,391.42 L98.79,392.64 L99.78,393.87 L100.78,395.12 L101.78,396.37 L102.79,397.63 L103.81,398.87 L104.83,400.10 L105.86,401.30 L106.90,402.48 L107.95,403.62 L109.01,404.72 L110.08,405.78 L111.16,406.78 L112.26,407.72 L113.37,408.60 L114.50,409.41 L115.64,410.13 L116.81,410.77 L117.99,411.32 L119.18,411.76 L120.38,412.09 L121.59,412.32 L122.80,412.42 L123.99,412.41 L125.16,412.39" fill="none" stroke="#1e1e1e" stroke-width="0.9"/><path d="M168.00,374.15 L169.16,374.07 L170.34,374.10 L171.53,374.24 L172.72,374.49 L173.91,374.86 L175.08,375.32 L176.24,375.88 L177.39,376.54 L178.51,377.27 L179.62,378.08 L180.72,378.96 L181.80,379.90 L182.86,380.90 L183.91,381.95 L184.96,383.04 L185.99,384.18 L187.01,385.34 L188.03,386.53 L189.04,387.75 L190.04,388.97 L191.03,390.21 L192.02,391.44 L193.00,392.67 L193.98,393.89 L194.95,395.09 L195.91,396.27 L196.86,397.42 L197.81,398.54 L198.75,399.61 L199.67,400.64 L200.59,401.61 L201.49,402.53 L202.38,403.40 L203.26,404.20 L199.74,408.51 L198.65,407.64 L197.57,406.70 L196.50,405.71 L195.45,404.66 L194.40,403.57 L193.37,402.44 L192.34,401.28 L191.33,400.09 L190.32,398.88 L189.31,397.66 L188.32,396.42 L187.33,395.19 L186.35,393.95 L185.37,392.73 L184.40,391.53 L183.44,390.35 L182.49,389.19 L181.54,388.08 L180.60,387.00 L179.67,385.97 L178.76,384.99 L177.85,384.06 L176.96,383.19 L176.08,382.38 L175.22,381.64 L174.38,380.97 L173.55,380.36 L172.74,379.81 L171.94,379.33 L171.16,378.91 L170.38,378.55 L169.60,378.25 L168.81,378.02 L168.00,377.85Z" fill="#48ff48" stroke="#48ff48" stroke-width="0.3"/><path d="M168.00,374.15 L169.16,374.07 L170.34,374.10 L171.53,374.24 L172.72,374.49 L173.91,374.86 L175.08,375.32 L176.24,375.88 L177.39,376.54 L178.51,377.27 L179.62,378.08 L180.72,378.96 L181.80,379.90 L182.86,380.90 L183.91,381.95 L184.96,383.04 L185.99,384.18 L187.01,385.34 L188.03,386.53 L189.04,387.75 L190.04,388.97 L191.03,390.21 L192.02,391.44 L193.00,392.67 L193.98,393.89 L194.95,395.09 L195.91,396.27 L196.86,397.42 L197.81,398.54 L198.75,399.61 L199.67,400.64 L200.59,401.61 L201.49,402.53 L202.38,403.40 L203.26,404.20 M168.00,377.85 L168.81,378.02 L169.60,378.25 L170.38,378.55 L171.16,378.91 L171.94,379.33 L172.74,379.81 L173.55,380.36 L174.38,380.97 L175.22,381.64 L176.08,382.38 L176.96,383.19 L177.85,384.06 L178.76,384.99 L179.67,385.97 L180.60,387.00 L181.54,388.08 L182.49,389.19 L183.44,390.35 L184.40,391.53 L185.37,392.73 L186.35,393.95 L187.33,395.19 L188.32,396.42 L189.31,397.66 L190.32,398.88 L191.33,400.09 L192.34,401.28 L193.37,402.44 L194.40,403.57 L195.45,404.66 L196.50,405.71 L197.57,406.70 L198.65,407.64 L199.74,408.51" fill="none" stroke="#1e1e1e" stroke-width="0.9"/><path d="M203.26,404.20 L204.14,404.95 L205.00,405.63 L205.85,406.25 L206.67,406.79 L207.49,407.27 L208.29,407.69 L209.09,408.04 L209.89,408.33 L210.71,408.55 L211.54,408.60 L211.66,412.39 L210.47,412.42 L209.27,412.42 L208.05,412.31 L206.83,412.08 L205.61,411.74 L204.41,411.28 L203.21,410.72 L202.04,410.07 L200.88,409.33 L199.74,408.51Z" fill="#8a8a8a" stroke="#8a8a8a" stroke-width="0.3"/><path d="M203.26,404.20 L204.14,404.95 L205.00,405.63 L205.85,406.25 L206.67,406.79 L207.49,407.27 L208.29,407.69 L209.09,408.04 L209.89,408.33 L210.71,408.55 L211.54,408.60 M199.74,408.51 L200.88,409.33 L202.04,410.07 L203.21,410.72 L204.41,411.28 L205.61,411.74 L206.83,412.08 L208.05,412.31 L209.27,412.42 L210.47,412.42 L211.66,412.39" fill="none" stroke="#1e1e1e" stroke-width="0.9"/><path d="M254.09,374.11 L255.26,374.09 L256.45,374.08 L257.66,374.18 L258.87,374.41 L260.07,374.74 L261.26,375.18 L262.44,375.73 L263.61,376.37 L264.75,377.09 L265.88,377.90 L266.99,378.78 L268.09,379.72 L269.17,380.72 L270.24,381.78 L271.30,382.88 L272.35,384.02 L273.39,385.20 L274.42,386.40 L275.44,387.63 L276.46,388.87 L277.47,390.13 L278.47,391.38 L279.47,392.63 L280.46,393.86 L281.44,395.08 L282.41,396.28 L283.38,397.44 L284.34,398.57 L285.29,399.66 L286.23,400.70 L287.15,401.68 L288.07,402.61 L288.97,403.48 L289.86,404.28 L290.72,405.02 L291.58,405.69 L292.41,406.29 L293.23,406.83 L294.03,407.30 L294.82,407.70 L295.61,408.05 L296.41,408.33 L297.22,408.55 L298.04,408.60 L298.16,412.39 L296.99,412.41 L295.80,412.42 L294.59,412.32 L293.38,412.09 L292.18,411.76 L290.99,411.32 L289.81,410.77 L288.64,410.13 L287.50,409.41 L286.37,408.60 L285.26,407.72 L284.16,406.78 L283.08,405.78 L282.01,404.72 L280.95,403.62 L279.90,402.48 L278.86,401.30 L277.83,400.10 L276.81,398.87 L275.79,397.63 L274.78,396.37 L273.78,395.12 L272.78,393.87 L271.79,392.64 L270.81,391.42 L269.84,390.22 L268.87,389.06 L267.91,387.93 L266.96,386.84 L266.02,385.80 L265.10,384.82 L264.18,383.89 L263.28,383.02 L262.39,382.22 L261.53,381.48 L260.67,380.81 L259.84,380.21 L259.02,379.67 L258.22,379.20 L257.43,378.80 L256.64,378.45 L255.84,378.17 L255.03,377.95 L254.21,377.90Z" fill="#8a8a8a" stroke="#8a8a8a" stroke-width="0.3"/><path d="M254.09,374.11 L255.26,374.09 L256.45,374.08 L257.66,374.18 L258.87,374.41 L260.07,374.74 L261.26,375.18 L262.44,375.73 L263.61,376.37 L264.75,377.09 L265.88,377.90 L266.99,378.78 L268.09,379.72 L269.17,380.72 L270.24,381.78 L271.30,382.88 L272.35,384.02 L273.39,385.20 L274.42,386.40 L275.44,387.63 L276.46,388.87 L277.47,390.13 L278.47,391.38 L279.47,392.63 L280.46,393.86 L281.44,395.08 L282.41,396.28 L283.38,397.44 L284.34,398.57 L285.29,399.66 L286.23,400.70 L287.15,401.68 L288.07,402.61 L288.97,403.48 L289.86,404.28 L290.72,405.02 L291.58,405.69 L292.41,406.29 L293.23,406.83 L294.03,407.30 L294.82,407.70 L295.61,408.05 L296.41,408.33 L297.22,408.55 L298.04,408.60 M254.21,377.90 L255.03,377.95 L255.84,378.17 L256.64,378.45 L257.43,378.80 L258.22,379.20 L259.02,379.67 L259.84,380.21 L260.67,380.81 L261.53,381.48 L262.39,382.22 L263.28,383.02 L264.18,383.89 L265.10,384.82 L266.02,385.80 L266.96,386.84 L267.91,387.93 L268.87,389.06 L269.84,390.22 L270.81,391.42 L271.79,392.64 L272.78,393.87 L273.78,395.12 L274.78,396.37 L275.79,397.63 L276.81,398.87 L277.83,400.10 L278.86,401.30 L279.90,402.48 L280.95,403.62 L282.01,404.72 L283.08,405.78 L284.16,406.78 L285.26,407.72 L286.37,408.60 L287.50,409.41 L288.64,410.13 L289.81,410.77 L290.99,411.32 L292.18,411.76 L293.38,412.09 L294.59,412.32 L295.80,412.42 L296.99,412.41 L298.16,412.39" fill="none" stroke="#1e1e1e" stroke-width="0.9"/><path d="M340.59,374.11 L341.72,374.12 L342.82,374.11 L343.93,374.15 L345.04,374.25 L346.15,374.40 L347.26,374.61 L348.37,374.87 L349.48,375.18 L350.59,375.53 L351.69,375.94 L352.79,376.39 L353.88,376.88 L354.96,377.41 L356.04,377.98 L357.11,378.58 L358.18,379.21 L359.24,379.88 L360.29,380.56 L361.34,381.27 L362.38,381.99 L363.42,382.74 L364.45,383.49 L365.47,384.26 L366.49,385.03 L367.50,385.80 L368.51,386.58 L369.51,387.35 L370.51,388.12 L371.50,388.88 L372.49,389.63 L373.47,390.36 L374.44,391.08 L375.41,391.78 L376.37,392.46 L377.33,393.11 L378.28,393.74 L379.22,394.34 L380.16,394.91 L381.09,395.45 L382.02,395.96 L382.94,396.44 L383.85,396.88 L384.76,397.28 L385.67,397.65 L386.57,397.98 L387.47,398.28 L388.37,398.53 L389.28,398.75 L390.18,398.92 L391.09,399.06 L390.91,402.89 L389.80,402.89 L388.70,402.82 L387.59,402.71 L386.47,402.53 L385.36,402.31 L384.25,402.03 L383.14,401.71 L382.04,401.33 L380.94,400.91 L379.84,400.45 L378.75,399.94 L377.67,399.40 L376.59,398.82 L375.52,398.21 L374.46,397.56 L373.40,396.89 L372.35,396.20 L371.31,395.49 L370.27,394.75 L369.23,394.01 L368.21,393.25 L367.18,392.48 L366.17,391.71 L365.15,390.93 L364.15,390.16 L363.15,389.39 L362.15,388.62 L361.16,387.87 L360.18,387.12 L359.20,386.39 L358.23,385.68 L357.26,384.99 L356.30,384.32 L355.35,383.67 L354.40,383.05 L353.46,382.46 L352.52,381.90 L351.59,381.37 L350.67,380.87 L349.75,380.41 L348.84,379.98 L347.93,379.59 L347.02,379.23 L346.12,378.91 L345.22,378.63 L344.32,378.39 L343.42,378.19 L342.51,378.03 L341.60,377.91 L340.71,377.90Z" fill="#fff000" stroke="#fff000" stroke-width="0.3"/><path d="M340.59,374.11 L341.72,374.12 L342.82,374.11 L343.93,374.15 L345.04,374.25 L346.15,374.40 L347.26,374.61 L348.37,374.87 L349.48,375.18 L350.59,375.53 L351.69,375.94 L352.79,376.39 L353.88,376.88 L354.96,377.41 L356.04,377.98 L357.11,378.58 L358.18,379.21 L359.24,379.88 L360.29,380.56 L361.34,381.27 L362.38,381.99 L363.42,382.74 L364.45,383.49 L365.47,384.26 L366.49,385.03 L367.50,385.80 L368.51,386.58 L369.51,387.35 L370.51,388.12 L371.50,388.88 L372.49,389.63 L373.47,390.36 L374.44,391.08 L375.41,391.78 L376.37,392.46 L377.33,393.11 L378.28,393.74 L379.22,394.34 L380.16,394.91 L381.09,395.45 L382.02,395.96 L382.94,396.44 L383.85,396.88 L384.76,397.28 L385.67,397.65 L386.57,397.98 L387.47,398.28 L388.37,398.53 L389.28,398.75 L390.18,398.92 L391.09,399.06 M340.71,377.90 L341.60,377.91 L342.51,378.03 L343.42,378.19 L344.32,378.39 L345.22,378.63 L346.12,378.91 L347.02,379.23 L347.93,379.59 L348.84,379.98 L349.75,380.41 L350.67,380.87 L351.59,381.37 L352.52,381.90 L353.46,382.46 L354.40,383.05 L355.35,383.67 L356.30,384.32 L357.26,384.99 L358.23,385.68 L359.20,386.39 L360.18,387.12 L361.16,387.87 L362.15,388.62 L363.15,389.39 L364.15,390.16 L365.15,390.93 L366.17,391.71 L367.18,392.48 L368.21,393.25 L369.23,394.01 L370.27,394.75 L371.31,395.49 L372.35,396.20 L373.40,396.89 L374.46,397.56 L375.52,398.21 L376.59,398.82 L377.67,399.40 L378.75,399.94 L379.84,400.45 L380.94,400.91 L382.04,401.33 L383.14,401.71 L384.25,402.03 L385.36,402.31 L386.47,402.53 L387.59,402.71 L388.70,402.82 L389.80,402.89 L390.91,402.89" fill="none" stroke="#1e1e1e" stroke-width="0.9"/><path d="M391.09,399.06 L391.70,399.12 L392.30,399.11 L392.40,402.88 L391.65,402.87 L390.91,402.89Z" fill="#f08a1e" stroke="#f08a1e" stroke-width="0.3"/><path d="M391.09,399.06 L391.70,399.12 L392.30,399.11 M390.91,402.89 L391.65,402.87 L392.40,402.88" fill="none" stroke="#1e1e1e" stroke-width="0.9"/><path d="M432.85,374.11 L433.97,374.11 L435.09,374.10 L436.22,374.15 L437.35,374.26 L438.48,374.44 L439.61,374.68 L440.74,374.98 L441.86,375.33 L442.98,375.74 L444.09,376.20 L445.19,376.71 L446.28,377.26 L447.37,377.85 L448.45,378.48 L449.51,379.14 L450.58,379.82 L451.63,380.53 L452.67,381.26 L453.71,382.00 L454.74,382.76 L455.76,383.51 L456.77,384.28 L457.78,385.04 L458.78,385.79 L459.77,386.54 L460.76,387.27 L461.73,387.98 L462.70,388.68 L463.66,389.35 L464.62,390.00 L465.56,390.61 L466.50,391.20 L467.42,391.75 L468.34,392.26 L469.25,392.74 L470.16,393.18 L471.06,393.58 L471.95,393.93 L472.84,394.25 L473.73,394.53 L474.62,394.76 L475.51,394.94 L476.41,395.08 L477.32,395.12 L477.38,398.87 L476.27,398.89 L475.15,398.90 L474.02,398.84 L472.89,398.72 L471.76,398.54 L470.63,398.29 L469.50,397.99 L468.38,397.63 L467.26,397.21 L466.15,396.75 L465.05,396.24 L463.96,395.68 L462.87,395.09 L461.80,394.46 L460.73,393.79 L459.67,393.11 L458.62,392.40 L457.58,391.67 L456.54,390.92 L455.51,390.17 L454.49,389.41 L453.48,388.65 L452.47,387.89 L451.47,387.13 L450.48,386.39 L449.50,385.66 L448.52,384.95 L447.55,384.25 L446.59,383.58 L445.64,382.94 L444.70,382.33 L443.76,381.75 L442.84,381.20 L441.92,380.69 L441.01,380.22 L440.10,379.78 L439.21,379.39 L438.31,379.03 L437.42,378.72 L436.53,378.45 L435.64,378.22 L434.75,378.04 L433.85,377.91 L432.95,377.90Z" fill="#8a8a8a" stroke="#8a8a8a" stroke-width="0.3"/><path d="M432.85,374.11 L433.97,374.11 L435.09,374.10 L436.22,374.15 L437.35,374.26 L438.48,374.44 L439.61,374.68 L440.74,374.98 L441.86,375.33 L442.98,375.74 L444.09,376.20 L445.19,376.71 L446.28,377.26 L447.37,377.85 L448.45,378.48 L449.51,379.14 L450.58,379.82 L451.63,380.53 L452.67,381.26 L453.71,382.00 L454.74,382.76 L455.76,383.51 L456.77,384.28 L457.78,385.04 L458.78,385.79 L459.77,386.54 L460.76,387.27 L461.73,387.98 L462.70,388.68 L463.66,389.35 L464.62,390.00 L465.56,390.61 L466.50,391.20 L467.42,391.75 L468.34,392.26 L469.25,392.74 L470.16,393.18 L471.06,393.58 L471.95,393.93 L472.84,394.25 L473.73,394.53 L474.62,394.76 L475.51,394.94 L476.41,395.08 L477.32,395.12 M432.95,377.90 L433.85,377.91 L434.75,378.04 L435.64,378.22 L436.53,378.45 L437.42,378.72 L438.31,379.03 L439.21,379.39 L440.10,379.78 L441.01,380.22 L441.92,380.69 L442.84,381.20 L443.76,381.75 L444.70,382.33 L445.64,382.94 L446.59,383.58 L447.55,384.25 L448.52,384.95 L449.50,385.66 L450.48,386.39 L451.47,387.13 L452.47,387.89 L453.48,388.65 L454.49,389.41 L455.51,390.17 L456.54,390.92 L457.58,391.67 L458.62,392.40 L459.67,393.11 L460.73,393.79 L461.80,394.46 L462.87,395.09 L463.96,395.68 L465.05,396.24 L466.15,396.75 L467.26,397.21 L468.38,397.63 L469.50,397.99 L470.63,398.29 L471.76,398.54 L472.89,398.72 L474.02,398.84 L475.15,398.90 L476.27,398.89 L477.38,398.87" fill="none" stroke="#1e1e1e" stroke-width="0.9"/><path d="M520.36,374.12 L521.50,374.09 L522.68,374.07 L523.88,374.18 L525.09,374.39 L526.29,374.72 L527.48,375.16 L528.65,375.70 L529.81,376.33 L530.95,377.06 L532.08,377.86 L533.18,378.73 L534.28,379.67 L535.35,380.67 L536.42,381.73 L537.47,382.83 L538.52,383.97 L539.55,385.14 L540.58,386.35 L541.59,387.57 L542.60,388.82 L543.60,390.07 L544.60,391.32 L545.59,392.57 L546.58,393.81 L547.55,395.03 L548.52,396.22 L549.49,397.39 L550.44,398.52 L551.38,399.61 L552.32,400.65 L553.24,401.64 L554.15,402.57 L555.05,403.44 L555.93,404.25 L556.79,404.99 L557.64,405.66 L558.47,406.26 L559.28,406.80 L560.07,407.27 L560.86,407.68 L561.64,408.03 L562.43,408.32 L563.23,408.54 L564.05,408.61 L564.15,412.39 L562.98,412.42 L561.80,412.42 L560.60,412.31 L559.39,412.08 L558.19,411.74 L557.00,411.29 L555.83,410.74 L554.67,410.10 L553.53,409.37 L552.41,408.56 L551.30,407.68 L550.21,406.73 L549.14,405.72 L548.07,404.67 L547.02,403.56 L545.98,402.42 L544.95,401.24 L543.92,400.03 L542.90,398.80 L541.90,397.56 L540.90,396.31 L539.90,395.05 L538.91,393.80 L537.92,392.57 L536.95,391.35 L535.98,390.16 L535.02,388.99 L534.07,387.87 L533.12,386.78 L532.19,385.75 L531.27,384.77 L530.36,383.84 L529.47,382.98 L528.59,382.18 L527.72,381.44 L526.88,380.78 L526.05,380.18 L525.24,379.65 L524.45,379.18 L523.66,378.78 L522.88,378.44 L522.09,378.16 L521.29,377.94 L520.44,377.89Z" fill="#8a8a8a" stroke="#8a8a8a" stroke-width="0.3"/><path d="M520.36,374.12 L521.50,374.09 L522.68,374.07 L523.88,374.18 L525.09,374.39 L526.29,374.72 L527.48,375.16 L528.65,375.70 L529.81,376.33 L530.95,377.06 L532.08,377.86 L533.18,378.73 L534.28,379.67 L535.35,380.67 L536.42,381.73 L537.47,382.83 L538.52,383.97 L539.55,385.14 L540.58,386.35 L541.59,387.57 L542.60,388.82 L543.60,390.07 L544.60,391.32 L545.59,392.57 L546.58,393.81 L547.55,395.03 L548.52,396.22 L549.49,397.39 L550.44,398.52 L551.38,399.61 L552.32,400.65 L553.24,401.64 L554.15,402.57 L555.05,403.44 L555.93,404.25 L556.79,404.99 L557.64,405.66 L558.47,406.26 L559.28,406.80 L560.07,407.27 L560.86,407.68 L561.64,408.03 L562.43,408.32 L563.23,408.54 L564.05,408.61 M520.44,377.89 L521.29,377.94 L522.09,378.16 L522.88,378.44 L523.66,378.78 L524.45,379.18 L525.24,379.65 L526.05,380.18 L526.88,380.78 L527.72,381.44 L528.59,382.18 L529.47,382.98 L530.36,383.84 L531.27,384.77 L532.19,385.75 L533.12,386.78 L534.07,387.87 L535.02,388.99 L535.98,390.16 L536.95,391.35 L537.92,392.57 L538.91,393.80 L539.90,395.05 L540.90,396.31 L541.90,397.56 L542.90,398.80 L543.92,400.03 L544.95,401.24 L545.98,402.42 L547.02,403.56 L548.07,404.67 L549.14,405.72 L550.21,406.73 L551.30,407.68 L552.41,408.56 L553.53,409.37 L554.67,410.10 L555.83,410.74 L557.00,411.29 L558.19,411.74 L559.39,412.08 L560.60,412.31 L561.80,412.42 L562.98,412.42 L564.15,412.39" fill="none" stroke="#1e1e1e" stroke-width="0.9"/><path d="M502.00,410.00 L502.99,409.83 L503.89,409.71 L504.75,409.58 L505.57,409.39 L505.63,411.61 L504.65,411.38 L503.71,411.08 L502.81,410.65 L502.00,410.00Z" fill="#8a8a8a" stroke="#8a8a8a" stroke-width="0.3"/><path d="M502.00,410.00 L502.99,409.83 L503.89,409.71 L504.75,409.58 L505.57,409.39 M502.00,410.00 L502.81,410.65 L503.71,411.08 L504.65,411.38 L505.63,411.61" fill="none" stroke="#1e1e1e" stroke-width="0.9"/><path d="M547.83,374.10 L549.00,374.09 L550.18,374.07 L551.38,374.18 L552.59,374.39 L553.79,374.72 L554.98,375.16 L556.15,375.70 L557.31,376.33 L558.45,377.06 L559.58,377.86 L560.68,378.73 L561.78,379.67 L562.85,380.67 L563.92,381.73 L564.97,382.83 L566.02,383.97 L567.05,385.14 L568.08,386.35 L569.09,387.57 L570.10,388.82 L571.10,390.07 L572.10,391.32 L573.09,392.57 L574.08,393.81 L575.05,395.03 L576.02,396.22 L576.99,397.39 L577.94,398.52 L578.88,399.61 L579.82,400.65 L580.74,401.64 L581.65,402.57 L582.55,403.44 L583.43,404.25 L584.29,404.99 L585.14,405.66 L585.97,406.26 L586.78,406.80 L587.57,407.27 L588.36,407.68 L589.14,408.03 L589.93,408.32 L590.73,408.54 L591.55,408.61 L591.65,412.39 L590.48,412.42 L589.30,412.42 L588.10,412.31 L586.89,412.08 L585.69,411.74 L584.50,411.29 L583.33,410.74 L582.17,410.10 L581.03,409.37 L579.91,408.56 L578.80,407.68 L577.71,406.73 L576.64,405.72 L575.57,404.67 L574.52,403.56 L573.48,402.42 L572.45,401.24 L571.42,400.03 L570.40,398.80 L569.40,397.56 L568.40,396.31 L567.40,395.05 L566.41,393.80 L565.42,392.57 L564.45,391.35 L563.48,390.16 L562.52,388.99 L561.57,387.87 L560.62,386.78 L559.69,385.75 L558.77,384.77 L557.86,383.84 L556.97,382.98 L556.09,382.18 L555.22,381.44 L554.38,380.78 L553.55,380.18 L552.74,379.65 L551.95,379.18 L551.16,378.78 L550.38,378.44 L549.59,378.16 L548.79,377.94 L547.97,377.91Z" fill="#8a8a8a" stroke="#8a8a8a" stroke-width="0.3"/><path d="M547.83,374.10 L549.00,374.09 L550.18,374.07 L551.38,374.18 L552.59,374.39 L553.79,374.72 L554.98,375.16 L556.15,375.70 L557.31,376.33 L558.45,377.06 L559.58,377.86 L560.68,378.73 L561.78,379.67 L562.85,380.67 L563.92,381.73 L564.97,382.83 L566.02,383.97 L567.05,385.14 L568.08,386.35 L569.09,387.57 L570.10,388.82 L571.10,390.07 L572.10,391.32 L573.09,392.57 L574.08,393.81 L575.05,395.03 L576.02,396.22 L576.99,397.39 L577.94,398.52 L578.88,399.61 L579.82,400.65 L580.74,401.64 L581.65,402.57 L582.55,403.44 L583.43,404.25 L584.29,404.99 L585.14,405.66 L585.97,406.26 L586.78,406.80 L587.57,407.27 L588.36,407.68 L589.14,408.03 L589.93,408.32 L590.73,408.54 L591.55,408.61 M547.97,377.91 L548.79,377.94 L549.59,378.16 L550.38,378.44 L551.16,378.78 L551.95,379.18 L552.74,379.65 L553.55,380.18 L554.38,380.78 L555.22,381.44 L556.09,382.18 L556.97,382.98 L557.86,383.84 L558.77,384.77 L559.69,385.75 L560.62,386.78 L561.57,387.87 L562.52,388.99 L563.48,390.16 L564.45,391.35 L565.42,392.57 L566.41,393.80 L567.40,395.05 L568.40,396.31 L569.40,397.56 L570.40,398.80 L571.42,400.03 L572.45,401.24 L573.48,402.42 L574.52,403.56 L575.57,404.67 L576.64,405.72 L577.71,406.73 L578.80,407.68 L579.91,408.56 L581.03,409.37 L582.17,410.10 L583.33,410.74 L584.50,411.29 L585.69,411.74 L586.89,412.08 L588.10,412.31 L589.30,412.42 L590.48,412.42 L591.65,412.39" fill="none" stroke="#1e1e1e" stroke-width="0.9"/>
<path d="M84.5,518.4 V546.1 M92.5,522.9 V551.5 M99.5,531.0 V552.1 M107.5,540.4 V547.7 M114.5,539.6 V548.3 M122.5,530.2 V552.3 M130.5,522.3 V551.2 M137.5,518.2 V545.4 M145.5,519.3 V536.6 M160.5,520.5 V533.8 M168.5,518.0 V543.1 M175.5,520.6 V550.0 M183.5,527.6 V552.5 M190.5,536.8 V549.9 M206.5,533.7 V551.3 M213.5,524.9 V552.2 M221.5,519.2 V548.1 M228.5,518.3 V540.2 M236.5,522.4 V530.8 M244.5,522.7 V530.3 M251.5,518.4 V539.7 M259.5,519.0 V547.8 M266.5,524.5 V552.1 M274.5,533.2 V551.5 M282.5,542.5 V546.0 M289.5,537.3 V549.6 M297.5,528.1 V552.5 M304.5,520.9 V550.2 M312.5,518.0 V543.5 M320.5,519.4 V534.3 M335.5,519.5 V530.2 M342.5,518.1 V537.6 M350.5,520.1 V544.6 M519.5,518.0 V544.0 M527.5,519.9 V534.6 M542.5,519.3 V536.0 M550.5,518.3 V545.2 M558.5,522.6 V551.2 M566.5,530.9 V552.2 M574.5,540.6 V547.8 M581.5,539.5 V548.6 M589.5,529.8 V552.4 M597.5,521.8 V550.8" stroke="#8c8c8c" stroke-width="1.1" fill="none"/>
<path d="M48.00,519.36 L48.79,518.46 L49.70,517.78 L50.68,517.24 L51.71,516.84 L52.79,516.57 L53.90,516.36 L53.80,519.65 L52.96,519.46 L52.09,519.39 L51.17,519.36 L50.20,519.36 L49.16,519.38 L48.00,519.36Z" fill="#8a8a8a" stroke="#8a8a8a" stroke-width="0.3"/><path d="M48.00,519.36 L48.79,518.46 L49.70,517.78 L50.68,517.24 L51.71,516.84 L52.79,516.57 L53.90,516.36 M48.00,519.36 L49.16,519.38 L50.20,519.36 L51.17,519.36 L52.09,519.39 L52.96,519.46 L53.80,519.65" fill="none" stroke="#1e1e1e" stroke-width="0.9"/><path d="M96.46,550.60 L97.30,550.54 L98.12,550.32 L98.92,550.04 L99.72,549.68 L100.53,549.26 L101.35,548.78 L102.18,548.23 L103.02,547.61 L103.89,546.92 L104.78,546.17 L105.68,545.34 L106.59,544.45 L107.53,543.49 L108.47,542.48 L109.43,541.42 L110.39,540.30 L111.37,539.15 L112.35,537.96 L113.34,536.74 L114.34,535.49 L115.35,534.24 L116.36,532.97 L117.38,531.69 L118.40,530.43 L119.44,529.17 L120.48,527.93 L121.53,526.72 L122.59,525.54 L123.65,524.40 L127.95,528.39 L126.99,529.47 L126.02,530.60 L125.04,531.77 L124.05,532.97 L123.06,534.20 L122.06,535.45 L121.05,536.71 L120.03,537.98 L119.01,539.25 L117.98,540.52 L116.95,541.77 L115.90,543.00 L114.85,544.20 L113.79,545.37 L112.72,546.50 L111.63,547.58 L110.54,548.61 L109.43,549.57 L108.30,550.48 L107.16,551.30 L106.00,552.05 L104.82,552.71 L103.62,553.27 L102.41,553.73 L101.19,554.08 L99.96,554.31 L98.74,554.42 L97.53,554.42 L96.34,554.39Z" fill="#8a8a8a" stroke="#8a8a8a" stroke-width="0.3"/><path d="M96.46,550.60 L97.30,550.54 L98.12,550.32 L98.92,550.04 L99.72,549.68 L100.53,549.26 L101.35,548.78 L102.18,548.23 L103.02,547.61 L103.89,546.92 L104.78,546.17 L105.68,545.34 L106.59,544.45 L107.53,543.49 L108.47,542.48 L109.43,541.42 L110.39,540.30 L111.37,539.15 L112.35,537.96 L113.34,536.74 L114.34,535.49 L115.35,534.24 L116.36,532.97 L117.38,531.69 L118.40,530.43 L119.44,529.17 L120.48,527.93 L121.53,526.72 L122.59,525.54 L123.65,524.40 M96.34,554.39 L97.53,554.42 L98.74,554.42 L99.96,554.31 L101.19,554.08 L102.41,553.73 L103.62,553.27 L104.82,552.71 L106.00,552.05 L107.16,551.30 L108.30,550.48 L109.43,549.57 L110.54,548.61 L111.63,547.58 L112.72,546.50 L113.79,545.37 L114.85,544.20 L115.90,543.00 L116.95,541.77 L117.98,540.52 L119.01,539.25 L120.03,537.98 L121.05,536.71 L122.06,535.45 L123.06,534.20 L124.05,532.97 L125.04,531.77 L126.02,530.60 L126.99,529.47 L127.95,528.39" fill="none" stroke="#1e1e1e" stroke-width="0.9"/><path d="M123.65,524.40 L124.69,523.34 L125.74,522.33 L126.80,521.37 L127.87,520.48 L128.96,519.64 L130.07,518.88 L131.19,518.20 L132.32,517.60 L133.48,517.09 L134.64,516.67 L135.82,516.37 L137.00,516.16 L138.17,516.07 L139.33,516.09 L140.47,516.10 L140.33,519.91 L139.53,519.94 L138.74,520.14 L137.96,520.41 L137.19,520.74 L136.42,521.13 L135.64,521.57 L134.85,522.08 L134.04,522.65 L133.21,523.29 L132.37,523.99 L131.51,524.75 L130.64,525.57 L129.75,526.46 L128.86,527.40 L127.95,528.39Z" fill="#0038ff" stroke="#0038ff" stroke-width="0.3"/><path d="M123.65,524.40 L124.69,523.34 L125.74,522.33 L126.80,521.37 L127.87,520.48 L128.96,519.64 L130.07,518.88 L131.19,518.20 L132.32,517.60 L133.48,517.09 L134.64,516.67 L135.82,516.37 L137.00,516.16 L138.17,516.07 L139.33,516.09 L140.47,516.10 M127.95,528.39 L128.86,527.40 L129.75,526.46 L130.64,525.57 L131.51,524.75 L132.37,523.99 L133.21,523.29 L134.04,522.65 L134.85,522.08 L135.64,521.57 L136.42,521.13 L137.19,520.74 L137.96,520.41 L138.74,520.14 L139.53,519.94 L140.33,519.91" fill="none" stroke="#1e1e1e" stroke-width="0.9"/><path d="M183.00,550.61 L183.83,550.54 L184.63,550.32 L185.43,550.03 L186.22,549.69 L187.01,549.28 L187.81,548.80 L188.63,548.26 L189.47,547.66 L190.32,546.98 L191.19,546.24 L192.08,545.44 L192.98,544.57 L193.89,543.63 L194.82,542.65 L195.76,541.60 L196.71,540.52 L197.67,539.38 L198.64,538.22 L199.61,537.02 L200.59,535.80 L201.58,534.56 L202.58,533.32 L203.58,532.06 L204.59,530.81 L205.61,529.57 L206.63,528.34 L207.66,527.14 L208.70,525.96 L209.75,524.82 L210.81,523.72 L211.88,522.67 L212.96,521.67 L214.06,520.73 L215.17,519.86 L216.30,519.05 L217.45,518.33 L218.61,517.70 L219.80,517.16 L220.99,516.72 L222.20,516.39 L223.40,516.18 L224.61,516.08 L225.80,516.09 L226.97,516.10 L226.83,519.91 L226.01,519.94 L225.20,520.16 L224.40,520.44 L223.61,520.78 L222.82,521.18 L222.02,521.65 L221.20,522.18 L220.37,522.78 L219.52,523.45 L218.65,524.18 L217.76,524.98 L216.86,525.84 L215.95,526.77 L215.02,527.75 L214.08,528.79 L213.14,529.87 L212.18,531.00 L211.21,532.16 L210.24,533.36 L209.26,534.58 L208.27,535.81 L207.27,537.06 L206.27,538.31 L205.26,539.56 L204.25,540.81 L203.22,542.03 L202.19,543.24 L201.15,544.42 L200.11,545.56 L199.05,546.67 L197.98,547.73 L196.90,548.73 L195.80,549.68 L194.69,550.56 L193.56,551.37 L192.42,552.10 L191.25,552.74 L190.07,553.29 L188.88,553.74 L187.68,554.08 L186.47,554.31 L185.26,554.42 L184.07,554.42 L182.90,554.39Z" fill="#8a8a8a" stroke="#8a8a8a" stroke-width="0.3"/><path d="M183.00,550.61 L183.83,550.54 L184.63,550.32 L185.43,550.03 L186.22,549.69 L187.01,549.28 L187.81,548.80 L188.63,548.26 L189.47,547.66 L190.32,546.98 L191.19,546.24 L192.08,545.44 L192.98,544.57 L193.89,543.63 L194.82,542.65 L195.76,541.60 L196.71,540.52 L197.67,539.38 L198.64,538.22 L199.61,537.02 L200.59,535.80 L201.58,534.56 L202.58,533.32 L203.58,532.06 L204.59,530.81 L205.61,529.57 L206.63,528.34 L207.66,527.14 L208.70,525.96 L209.75,524.82 L210.81,523.72 L211.88,522.67 L212.96,521.67 L214.06,520.73 L215.17,519.86 L216.30,519.05 L217.45,518.33 L218.61,517.70 L219.80,517.16 L220.99,516.72 L222.20,516.39 L223.40,516.18 L224.61,516.08 L225.80,516.09 L226.97,516.10 M182.90,554.39 L184.07,554.42 L185.26,554.42 L186.47,554.31 L187.68,554.08 L188.88,553.74 L190.07,553.29 L191.25,552.74 L192.42,552.10 L193.56,551.37 L194.69,550.56 L195.80,549.68 L196.90,548.73 L197.98,547.73 L199.05,546.67 L200.11,545.56 L201.15,544.42 L202.19,543.24 L203.22,542.03 L204.25,540.81 L205.26,539.56 L206.27,538.31 L207.27,537.06 L208.27,535.81 L209.26,534.58 L210.24,533.36 L211.21,532.16 L212.18,531.00 L213.14,529.87 L214.08,528.79 L215.02,527.75 L215.95,526.77 L216.86,525.84 L217.76,524.98 L218.65,524.18 L219.52,523.45 L220.37,522.78 L221.20,522.18 L222.02,521.65 L222.82,521.18 L223.61,520.78 L224.40,520.44 L225.20,520.16 L226.01,519.94 L226.83,519.91" fill="none" stroke="#1e1e1e" stroke-width="0.9"/><path d="M269.50,550.61 L270.31,550.54 L271.09,550.33 L271.87,550.06 L272.64,549.72 L273.41,549.33 L274.20,548.87 L274.99,548.36 L275.81,547.78 L276.63,547.13 L277.48,546.43 L278.34,545.65 L279.22,544.82 L280.11,543.93 L281.01,542.98 L281.92,541.98 L282.85,540.94 L283.78,539.85 L284.72,538.72 L289.28,542.56 L288.27,543.72 L287.25,544.86 L286.23,545.97 L285.19,547.03 L284.14,548.05 L283.08,549.01 L282.01,549.92 L280.92,550.76 L279.82,551.53 L278.69,552.23 L277.56,552.84 L276.40,553.36 L275.24,553.79 L274.06,554.11 L272.88,554.32 L271.71,554.42 L270.54,554.42 L269.40,554.39Z" fill="#8a8a8a" stroke="#8a8a8a" stroke-width="0.3"/><path d="M269.50,550.61 L270.31,550.54 L271.09,550.33 L271.87,550.06 L272.64,549.72 L273.41,549.33 L274.20,548.87 L274.99,548.36 L275.81,547.78 L276.63,547.13 L277.48,546.43 L278.34,545.65 L279.22,544.82 L280.11,543.93 L281.01,542.98 L281.92,541.98 L282.85,540.94 L283.78,539.85 L284.72,538.72 M269.40,554.39 L270.54,554.42 L271.71,554.42 L272.88,554.32 L274.06,554.11 L275.24,553.79 L276.40,553.36 L277.56,552.84 L278.69,552.23 L279.82,551.53 L280.92,550.76 L282.01,549.92 L283.08,549.01 L284.14,548.05 L285.19,547.03 L286.23,545.97 L287.25,544.86 L288.27,543.72 L289.28,542.56" fill="none" stroke="#1e1e1e" stroke-width="0.9"/><path d="M284.72,538.72 L285.71,537.52 L286.70,536.29 L287.70,535.04 L288.71,533.78 L289.72,532.51 L290.74,531.24 L291.77,529.98 L292.81,528.73 L293.85,527.50 L294.90,526.29 L295.97,525.13 L297.04,524.00 L298.12,522.92 L299.22,521.89 L300.33,520.92 L301.45,520.02 L302.60,519.19 L303.76,518.45 L304.94,517.79 L306.13,517.23 L307.34,516.77 L308.56,516.42 L309.79,516.19 L311.01,516.08 L312.22,516.08 L313.39,516.12 L313.31,519.88 L312.45,519.96 L311.63,520.18 L310.83,520.46 L310.03,520.82 L309.22,521.24 L308.41,521.72 L307.58,522.27 L306.73,522.89 L305.86,523.57 L304.98,524.33 L304.08,525.16 L303.16,526.05 L302.23,527.00 L301.28,528.01 L300.33,529.08 L299.36,530.19 L298.39,531.34 L297.41,532.53 L296.42,533.75 L295.42,535.00 L294.41,536.26 L293.40,537.52 L292.38,538.80 L291.36,540.06 L290.32,541.32 L289.28,542.56Z" fill="#e4e4e4" stroke="#e4e4e4" stroke-width="0.3"/><path d="M284.72,538.72 L285.71,537.52 L286.70,536.29 L287.70,535.04 L288.71,533.78 L289.72,532.51 L290.74,531.24 L291.77,529.98 L292.81,528.73 L293.85,527.50 L294.90,526.29 L295.97,525.13 L297.04,524.00 L298.12,522.92 L299.22,521.89 L300.33,520.92 L301.45,520.02 L302.60,519.19 L303.76,518.45 L304.94,517.79 L306.13,517.23 L307.34,516.77 L308.56,516.42 L309.79,516.19 L311.01,516.08 L312.22,516.08 L313.39,516.12 M289.28,542.56 L290.32,541.32 L291.36,540.06 L292.38,538.80 L293.40,537.52 L294.41,536.26 L295.42,535.00 L296.42,533.75 L297.41,532.53 L298.39,531.34 L299.36,530.19 L300.33,529.08 L301.28,528.01 L302.23,527.00 L303.16,526.05 L304.08,525.16 L304.98,524.33 L305.86,523.57 L306.73,522.89 L307.58,522.27 L308.41,521.72 L309.22,521.24 L310.03,520.82 L310.83,520.46 L311.63,520.18 L312.45,519.96 L313.31,519.88" fill="none" stroke="#1e1e1e" stroke-width="0.9"/><path d="M76.00,519.36 L76.79,518.46 L77.70,517.78 L78.68,517.24 L79.71,516.84 L80.79,516.57 L81.90,516.36 L81.80,519.65 L80.96,519.46 L80.09,519.39 L79.17,519.36 L78.20,519.36 L77.16,519.38 L76.00,519.36Z" fill="#8a8a8a" stroke="#8a8a8a" stroke-width="0.3"/><path d="M76.00,519.36 L76.79,518.46 L77.70,517.78 L78.68,517.24 L79.71,516.84 L80.79,516.57 L81.90,516.36 M76.00,519.36 L77.16,519.38 L78.20,519.36 L79.17,519.36 L80.09,519.39 L80.96,519.46 L81.80,519.65" fill="none" stroke="#1e1e1e" stroke-width="0.9"/><path d="M124.46,550.60 L125.04,550.60 L125.61,550.47 L125.99,554.43 L125.16,554.39 L124.34,554.39Z" fill="#8a8a8a" stroke="#8a8a8a" stroke-width="0.3"/><path d="M124.46,550.60 L125.04,550.60 L125.61,550.47 M124.34,554.39 L125.16,554.39 L125.99,554.43" fill="none" stroke="#1e1e1e" stroke-width="0.9"/><path d="M125.61,550.47 L126.41,550.23 L127.19,549.92 L127.97,549.56 L128.76,549.13 L129.57,548.64 L130.38,548.09 L131.22,547.47 L132.07,546.78 L132.93,546.03 L133.82,545.21 L134.72,544.33 L135.63,543.39 L136.55,542.39 L137.48,541.35 L138.43,540.26 L139.38,539.13 L140.34,537.97 L141.31,536.77 L142.29,535.56 L143.27,534.33 L144.26,533.09 L145.25,531.85 L146.26,530.61 L147.26,529.38 L148.28,528.17 L149.31,526.97 L150.34,525.81 L151.38,524.69 L152.43,523.60 L153.49,522.56 L154.57,521.57 L155.66,520.65 L156.77,519.79 L157.89,519.00 L159.03,518.29 L160.18,517.67 L161.35,517.14 L162.54,516.71 L163.73,516.38 L164.93,516.17 L166.13,516.08 L167.31,516.09 L168.47,516.10 L168.33,519.91 L167.51,519.94 L166.71,520.15 L165.92,520.43 L165.14,520.76 L164.35,521.16 L163.56,521.62 L162.75,522.15 L161.92,522.74 L161.08,523.39 L160.22,524.12 L159.34,524.91 L158.45,525.76 L157.55,526.67 L156.63,527.64 L155.70,528.66 L154.76,529.73 L153.81,530.84 L152.85,531.99 L151.89,533.17 L150.92,534.38 L149.94,535.60 L148.95,536.83 L147.96,538.08 L146.96,539.32 L145.95,540.55 L144.94,541.77 L143.92,542.98 L142.89,544.15 L141.85,545.30 L140.81,546.40 L139.75,547.46 L138.68,548.48 L137.60,549.43 L136.50,550.32 L135.39,551.14 L134.25,551.89 L133.11,552.56 L131.94,553.13 L130.76,553.61 L129.57,553.98 L128.37,554.24 L127.18,554.39 L125.99,554.43Z" fill="#0038ff" stroke="#0038ff" stroke-width="0.3"/><path d="M125.61,550.47 L126.41,550.23 L127.19,549.92 L127.97,549.56 L128.76,549.13 L129.57,548.64 L130.38,548.09 L131.22,547.47 L132.07,546.78 L132.93,546.03 L133.82,545.21 L134.72,544.33 L135.63,543.39 L136.55,542.39 L137.48,541.35 L138.43,540.26 L139.38,539.13 L140.34,537.97 L141.31,536.77 L142.29,535.56 L143.27,534.33 L144.26,533.09 L145.25,531.85 L146.26,530.61 L147.26,529.38 L148.28,528.17 L149.31,526.97 L150.34,525.81 L151.38,524.69 L152.43,523.60 L153.49,522.56 L154.57,521.57 L155.66,520.65 L156.77,519.79 L157.89,519.00 L159.03,518.29 L160.18,517.67 L161.35,517.14 L162.54,516.71 L163.73,516.38 L164.93,516.17 L166.13,516.08 L167.31,516.09 L168.47,516.10 M125.99,554.43 L127.18,554.39 L128.37,554.24 L129.57,553.98 L130.76,553.61 L131.94,553.13 L133.11,552.56 L134.25,551.89 L135.39,551.14 L136.50,550.32 L137.60,549.43 L138.68,548.48 L139.75,547.46 L140.81,546.40 L141.85,545.30 L142.89,544.15 L143.92,542.98 L144.94,541.77 L145.95,540.55 L146.96,539.32 L147.96,538.08 L148.95,536.83 L149.94,535.60 L150.92,534.38 L151.89,533.17 L152.85,531.99 L153.81,530.84 L154.76,529.73 L155.70,528.66 L156.63,527.64 L157.55,526.67 L158.45,525.76 L159.34,524.91 L160.22,524.12 L161.08,523.39 L161.92,522.74 L162.75,522.15 L163.56,521.62 L164.35,521.16 L165.14,520.76 L165.92,520.43 L166.71,520.15 L167.51,519.94 L168.33,519.91" fill="none" stroke="#1e1e1e" stroke-width="0.9"/><path d="M211.00,550.61 L211.83,550.54 L212.63,550.32 L213.43,550.03 L214.22,549.69 L215.01,549.28 L215.81,548.80 L216.63,548.26 L217.47,547.66 L218.32,546.98 L219.19,546.24 L220.08,545.44 L220.98,544.57 L221.89,543.63 L222.82,542.65 L223.76,541.60 L224.71,540.52 L225.67,539.38 L226.64,538.22 L227.61,537.02 L228.59,535.80 L229.58,534.56 L230.58,533.32 L231.58,532.06 L232.59,530.81 L233.61,529.57 L234.63,528.34 L235.66,527.14 L236.70,525.96 L237.75,524.82 L238.81,523.72 L239.88,522.67 L240.96,521.67 L242.06,520.73 L243.17,519.86 L244.30,519.05 L245.45,518.33 L246.61,517.70 L247.80,517.16 L248.99,516.72 L250.20,516.39 L251.40,516.18 L252.61,516.08 L253.80,516.09 L254.97,516.10 L254.83,519.91 L254.01,519.94 L253.20,520.16 L252.40,520.44 L251.61,520.78 L250.82,521.18 L250.02,521.65 L249.20,522.18 L248.37,522.78 L247.52,523.45 L246.65,524.18 L245.76,524.98 L244.86,525.84 L243.95,526.77 L243.02,527.75 L242.08,528.79 L241.14,529.87 L240.18,531.00 L239.21,532.16 L238.24,533.36 L237.26,534.58 L236.27,535.81 L235.27,537.06 L234.27,538.31 L233.26,539.56 L232.25,540.81 L231.22,542.03 L230.19,543.24 L229.15,544.42 L228.11,545.56 L227.05,546.67 L225.98,547.73 L224.90,548.73 L223.80,549.68 L222.69,550.56 L221.56,551.37 L220.42,552.10 L219.25,552.74 L218.07,553.29 L216.88,553.74 L215.68,554.08 L214.47,554.31 L213.26,554.42 L212.07,554.42 L210.90,554.39Z" fill="#8a8a8a" stroke="#8a8a8a" stroke-width="0.3"/><path d="M211.00,550.61 L211.83,550.54 L212.63,550.32 L213.43,550.03 L214.22,549.69 L215.01,549.28 L215.81,548.80 L216.63,548.26 L217.47,547.66 L218.32,546.98 L219.19,546.24 L220.08,545.44 L220.98,544.57 L221.89,543.63 L222.82,542.65 L223.76,541.60 L224.71,540.52 L225.67,539.38 L226.64,538.22 L227.61,537.02 L228.59,535.80 L229.58,534.56 L230.58,533.32 L231.58,532.06 L232.59,530.81 L233.61,529.57 L234.63,528.34 L235.66,527.14 L236.70,525.96 L237.75,524.82 L238.81,523.72 L239.88,522.67 L240.96,521.67 L242.06,520.73 L243.17,519.86 L244.30,519.05 L245.45,518.33 L246.61,517.70 L247.80,517.16 L248.99,516.72 L250.20,516.39 L251.40,516.18 L252.61,516.08 L253.80,516.09 L254.97,516.10 M210.90,554.39 L212.07,554.42 L213.26,554.42 L214.47,554.31 L215.68,554.08 L216.88,553.74 L218.07,553.29 L219.25,552.74 L220.42,552.10 L221.56,551.37 L222.69,550.56 L223.80,549.68 L224.90,548.73 L225.98,547.73 L227.05,546.67 L228.11,545.56 L229.15,544.42 L230.19,543.24 L231.22,542.03 L232.25,540.81 L233.26,539.56 L234.27,538.31 L235.27,537.06 L236.27,535.81 L237.26,534.58 L238.24,533.36 L239.21,532.16 L240.18,531.00 L241.14,529.87 L242.08,528.79 L243.02,527.75 L243.95,526.77 L244.86,525.84 L245.76,524.98 L246.65,524.18 L247.52,523.45 L248.37,522.78 L249.20,522.18 L250.02,521.65 L250.82,521.18 L251.61,520.78 L252.40,520.44 L253.20,520.16 L254.01,519.94 L254.83,519.91" fill="none" stroke="#1e1e1e" stroke-width="0.9"/><path d="M297.46,550.60 L298.29,550.55 L299.10,550.33 L299.90,550.05 L300.69,549.70 L301.49,549.29 L302.29,548.81 L303.11,548.27 L303.95,547.67 L304.81,546.99 L305.68,546.25 L306.57,545.44 L307.48,544.57 L308.40,543.63 L309.33,542.64 L310.27,541.59 L311.23,540.50 L312.19,539.36 L313.16,538.19 L314.14,536.99 L315.13,535.76 L316.12,534.52 L317.12,533.26 L318.13,532.00 L319.14,530.75 L320.16,529.50 L321.19,528.27 L322.23,527.07 L323.27,525.89 L324.32,524.74 L325.39,523.64 L326.47,522.59 L327.55,521.59 L328.66,520.65 L332.34,524.91 L331.44,525.77 L330.52,526.69 L329.59,527.68 L328.65,528.71 L327.70,529.80 L326.74,530.93 L325.77,532.09 L324.79,533.29 L323.80,534.51 L322.81,535.75 L321.81,537.01 L320.81,538.26 L319.79,539.52 L318.78,540.77 L317.75,542.00 L316.71,543.22 L315.67,544.40 L314.62,545.55 L313.56,546.66 L312.48,547.72 L311.40,548.73 L310.30,549.68 L309.18,550.57 L308.05,551.38 L306.90,552.11 L305.73,552.75 L304.54,553.30 L303.34,553.75 L302.14,554.09 L300.92,554.31 L299.71,554.42 L298.52,554.41 L297.34,554.39Z" fill="#e4e4e4" stroke="#e4e4e4" stroke-width="0.3"/><path d="M297.46,550.60 L298.29,550.55 L299.10,550.33 L299.90,550.05 L300.69,549.70 L301.49,549.29 L302.29,548.81 L303.11,548.27 L303.95,547.67 L304.81,546.99 L305.68,546.25 L306.57,545.44 L307.48,544.57 L308.40,543.63 L309.33,542.64 L310.27,541.59 L311.23,540.50 L312.19,539.36 L313.16,538.19 L314.14,536.99 L315.13,535.76 L316.12,534.52 L317.12,533.26 L318.13,532.00 L319.14,530.75 L320.16,529.50 L321.19,528.27 L322.23,527.07 L323.27,525.89 L324.32,524.74 L325.39,523.64 L326.47,522.59 L327.55,521.59 L328.66,520.65 M297.34,554.39 L298.52,554.41 L299.71,554.42 L300.92,554.31 L302.14,554.09 L303.34,553.75 L304.54,553.30 L305.73,552.75 L306.90,552.11 L308.05,551.38 L309.18,550.57 L310.30,549.68 L311.40,548.73 L312.48,547.72 L313.56,546.66 L314.62,545.55 L315.67,544.40 L316.71,543.22 L317.75,542.00 L318.78,540.77 L319.79,539.52 L320.81,538.26 L321.81,537.01 L322.81,535.75 L323.80,534.51 L324.79,533.29 L325.77,532.09 L326.74,530.93 L327.70,529.80 L328.65,528.71 L329.59,527.68 L330.52,526.69 L331.44,525.77 L332.34,524.91" fill="none" stroke="#1e1e1e" stroke-width="0.9"/><path d="M328.66,520.65 L329.76,519.79 L330.87,519.01 L332.01,518.30 L333.16,517.68 L334.33,517.15 L335.51,516.72 L336.70,516.39 L337.89,516.18 L339.08,516.08 L340.25,516.09 L341.38,516.13 L341.32,519.88 L340.48,519.95 L339.68,520.16 L338.89,520.44 L338.11,520.78 L337.33,521.18 L336.54,521.64 L335.73,522.16 L334.91,522.75 L334.07,523.40 L333.21,524.12 L332.34,524.91Z" fill="#fff000" stroke="#fff000" stroke-width="0.3"/><path d="M328.66,520.65 L329.76,519.79 L330.87,519.01 L332.01,518.30 L333.16,517.68 L334.33,517.15 L335.51,516.72 L336.70,516.39 L337.89,516.18 L339.08,516.08 L340.25,516.09 L341.38,516.13 M332.34,524.91 L333.21,524.12 L334.07,523.40 L334.91,522.75 L335.73,522.16 L336.54,521.64 L337.33,521.18 L338.11,520.78 L338.89,520.44 L339.68,520.16 L340.48,519.95 L341.32,519.88" fill="none" stroke="#1e1e1e" stroke-width="0.9"/><path d="M391.68,541.12 L392.57,541.07 L393.43,540.89 L394.28,540.65 L395.12,540.36 L395.97,540.01 L396.82,539.61 L397.67,539.16 L398.54,538.66 L399.42,538.10 L400.31,537.49 L401.22,536.84 L402.14,536.13 L403.07,535.38 L404.01,534.59 L404.96,533.75 L405.92,532.89 L406.90,532.00 L407.88,531.08 L408.87,530.14 L409.87,529.19 L410.87,528.23 L411.89,527.27 L412.91,526.32 L413.95,525.37 L414.99,524.43 L416.04,523.52 L417.10,522.63 L418.17,521.78 L419.25,520.96 L420.34,520.19 L421.45,519.47 L422.57,518.80 L423.70,518.19 L424.84,517.65 L426.00,517.18 L427.16,516.79 L428.33,516.48 L429.67,520.84 L428.82,521.22 L427.96,521.65 L427.10,522.14 L426.23,522.67 L425.34,523.26 L424.44,523.90 L423.52,524.59 L422.60,525.32 L421.66,526.10 L420.71,526.91 L419.76,527.77 L418.79,528.65 L417.81,529.56 L416.82,530.49 L415.83,531.43 L414.82,532.39 L413.81,533.35 L412.79,534.31 L411.76,535.26 L410.72,536.20 L409.68,537.12 L408.62,538.02 L407.56,538.89 L406.48,539.72 L405.39,540.51 L404.29,541.26 L403.17,541.95 L402.05,542.58 L400.91,543.15 L399.76,543.65 L398.60,544.07 L397.43,544.41 L396.25,544.66 L395.08,544.83 L393.91,544.91 L392.75,544.90 L391.62,544.87Z" fill="#f08a1e" stroke="#f08a1e" stroke-width="0.3"/><path d="M391.68,541.12 L392.57,541.07 L393.43,540.89 L394.28,540.65 L395.12,540.36 L395.97,540.01 L396.82,539.61 L397.67,539.16 L398.54,538.66 L399.42,538.10 L400.31,537.49 L401.22,536.84 L402.14,536.13 L403.07,535.38 L404.01,534.59 L404.96,533.75 L405.92,532.89 L406.90,532.00 L407.88,531.08 L408.87,530.14 L409.87,529.19 L410.87,528.23 L411.89,527.27 L412.91,526.32 L413.95,525.37 L414.99,524.43 L416.04,523.52 L417.10,522.63 L418.17,521.78 L419.25,520.96 L420.34,520.19 L421.45,519.47 L422.57,518.80 L423.70,518.19 L424.84,517.65 L426.00,517.18 L427.16,516.79 L428.33,516.48 M391.62,544.87 L392.75,544.90 L393.91,544.91 L395.08,544.83 L396.25,544.66 L397.43,544.41 L398.60,544.07 L399.76,543.65 L400.91,543.15 L402.05,542.58 L403.17,541.95 L404.29,541.26 L405.39,540.51 L406.48,539.72 L407.56,538.89 L408.62,538.02 L409.68,537.12 L410.72,536.20 L411.76,535.26 L412.79,534.31 L413.81,533.35 L414.82,532.39 L415.83,531.43 L416.82,530.49 L417.81,529.56 L418.79,528.65 L419.76,527.77 L420.71,526.91 L421.66,526.10 L422.60,525.32 L423.52,524.59 L424.44,523.90 L425.34,523.26 L426.23,522.67 L427.10,522.14 L427.96,521.65 L428.82,521.22 L429.67,520.84" fill="none" stroke="#1e1e1e" stroke-width="0.9"/><path d="M428.33,516.48 L429.40,516.28 L430.47,516.14 L431.54,516.09 L432.59,516.10 L433.63,516.13 L433.57,519.88 L432.77,519.93 L431.98,520.09 L431.21,520.29 L430.44,520.55 L429.67,520.84Z" fill="#8a8a8a" stroke="#8a8a8a" stroke-width="0.3"/><path d="M428.33,516.48 L429.40,516.28 L430.47,516.14 L431.54,516.09 L432.59,516.10 L433.63,516.13 M429.67,520.84 L430.44,520.55 L431.21,520.29 L431.98,520.09 L432.77,519.93 L433.57,519.88" fill="none" stroke="#1e1e1e" stroke-width="0.9"/><path d="M476.69,537.11 L477.60,537.09 L478.50,536.96 L479.39,536.78 L480.28,536.55 L481.17,536.28 L482.06,535.97 L482.96,535.61 L483.85,535.22 L484.76,534.78 L485.67,534.31 L486.59,533.80 L487.51,533.25 L488.45,532.67 L489.39,532.06 L490.34,531.42 L491.30,530.75 L492.27,530.05 L493.25,529.34 L494.23,528.61 L495.22,527.87 L496.22,527.11 L497.23,526.35 L498.24,525.59 L499.26,524.83 L500.29,524.08 L501.33,523.33 L502.37,522.60 L503.42,521.89 L504.48,521.21 L505.55,520.54 L506.62,519.91 L507.71,519.32 L508.80,518.76 L509.90,518.25 L511.01,517.79 L512.13,517.37 L513.25,517.01 L514.38,516.71 L515.51,516.46 L516.64,516.28 L517.77,516.16 L518.90,516.10 L520.02,516.11 L521.15,516.11 L521.05,519.89 L520.16,519.92 L519.26,520.06 L518.37,520.24 L517.48,520.47 L516.59,520.75 L515.70,521.07 L514.81,521.42 L513.91,521.82 L513.00,522.26 L512.09,522.74 L511.17,523.25 L510.25,523.80 L509.31,524.39 L508.37,525.00 L507.41,525.65 L506.45,526.32 L505.48,527.02 L504.51,527.73 L503.52,528.46 L502.53,529.21 L501.53,529.96 L500.52,530.72 L499.51,531.49 L498.49,532.24 L497.46,533.00 L496.42,533.74 L495.38,534.47 L494.33,535.18 L493.26,535.86 L492.20,536.52 L491.12,537.15 L490.03,537.74 L488.94,538.29 L487.84,538.80 L486.73,539.26 L485.61,539.67 L484.49,540.02 L483.36,540.32 L482.23,540.56 L481.10,540.74 L479.97,540.85 L478.84,540.90 L477.72,540.89 L476.61,540.88Z" fill="#8a8a8a" stroke="#8a8a8a" stroke-width="0.3"/><path d="M476.69,537.11 L477.60,537.09 L478.50,536.96 L479.39,536.78 L480.28,536.55 L481.17,536.28 L482.06,535.97 L482.96,535.61 L483.85,535.22 L484.76,534.78 L485.67,534.31 L486.59,533.80 L487.51,533.25 L488.45,532.67 L489.39,532.06 L490.34,531.42 L491.30,530.75 L492.27,530.05 L493.25,529.34 L494.23,528.61 L495.22,527.87 L496.22,527.11 L497.23,526.35 L498.24,525.59 L499.26,524.83 L500.29,524.08 L501.33,523.33 L502.37,522.60 L503.42,521.89 L504.48,521.21 L505.55,520.54 L506.62,519.91 L507.71,519.32 L508.80,518.76 L509.90,518.25 L511.01,517.79 L512.13,517.37 L513.25,517.01 L514.38,516.71 L515.51,516.46 L516.64,516.28 L517.77,516.16 L518.90,516.10 L520.02,516.11 L521.15,516.11 M476.61,540.88 L477.72,540.89 L478.84,540.90 L479.97,540.85 L481.10,540.74 L482.23,540.56 L483.36,540.32 L484.49,540.02 L485.61,539.67 L486.73,539.26 L487.84,538.80 L488.94,538.29 L490.03,537.74 L491.12,537.15 L492.20,536.52 L493.26,535.86 L494.33,535.18 L495.38,534.47 L496.42,533.74 L497.46,533.00 L498.49,532.24 L499.51,531.49 L500.52,530.72 L501.53,529.96 L502.53,529.21 L503.52,528.46 L504.51,527.73 L505.48,527.02 L506.45,526.32 L507.41,525.65 L508.37,525.00 L509.31,524.39 L510.25,523.80 L511.17,523.25 L512.09,522.74 L513.00,522.26 L513.91,521.82 L514.81,521.42 L515.70,521.07 L516.59,520.75 L517.48,520.47 L518.37,520.24 L519.26,520.06 L520.16,519.92 L521.05,519.89" fill="none" stroke="#1e1e1e" stroke-width="0.9"/><path d="M563.47,550.59 L564.28,550.56 L565.08,550.35 L565.87,550.07 L566.65,549.73 L567.43,549.33 L568.22,548.86 L569.03,548.34 L569.85,547.74 L570.69,547.08 L571.55,546.35 L572.43,545.56 L573.32,544.70 L574.22,543.78 L575.14,542.81 L576.07,541.78 L577.01,540.70 L577.95,539.58 L578.91,538.43 L579.87,537.24 L580.84,536.03 L581.83,534.80 L582.81,533.56 L583.80,532.31 L584.80,531.06 L585.80,529.82 L586.82,528.60 L587.83,527.39 L588.86,526.22 L589.90,525.07 L590.95,523.97 L592.00,522.90 L593.08,521.90 L594.16,520.95 L595.26,520.06 L596.37,519.24 L597.51,518.50 L598.66,517.85 L601.34,522.32 L600.52,522.93 L599.67,523.61 L598.81,524.36 L597.93,525.17 L597.03,526.05 L596.12,526.98 L595.20,527.97 L594.27,529.02 L593.33,530.10 L592.38,531.24 L591.42,532.40 L590.46,533.60 L589.48,534.81 L588.50,536.04 L587.51,537.29 L586.52,538.54 L585.52,539.78 L584.52,541.02 L583.50,542.24 L582.48,543.44 L581.45,544.61 L580.41,545.74 L579.36,546.84 L578.30,547.88 L577.22,548.87 L576.14,549.81 L575.03,550.68 L573.91,551.47 L572.78,552.19 L571.62,552.82 L570.45,553.35 L569.26,553.79 L568.07,554.11 L566.87,554.33 L565.67,554.43 L564.49,554.41 L563.33,554.40Z" fill="#8a8a8a" stroke="#8a8a8a" stroke-width="0.3"/><path d="M563.47,550.59 L564.28,550.56 L565.08,550.35 L565.87,550.07 L566.65,549.73 L567.43,549.33 L568.22,548.86 L569.03,548.34 L569.85,547.74 L570.69,547.08 L571.55,546.35 L572.43,545.56 L573.32,544.70 L574.22,543.78 L575.14,542.81 L576.07,541.78 L577.01,540.70 L577.95,539.58 L578.91,538.43 L579.87,537.24 L580.84,536.03 L581.83,534.80 L582.81,533.56 L583.80,532.31 L584.80,531.06 L585.80,529.82 L586.82,528.60 L587.83,527.39 L588.86,526.22 L589.90,525.07 L590.95,523.97 L592.00,522.90 L593.08,521.90 L594.16,520.95 L595.26,520.06 L596.37,519.24 L597.51,518.50 L598.66,517.85 M563.33,554.40 L564.49,554.41 L565.67,554.43 L566.87,554.33 L568.07,554.11 L569.26,553.79 L570.45,553.35 L571.62,552.82 L572.78,552.19 L573.91,551.47 L575.03,550.68 L576.14,549.81 L577.22,548.87 L578.30,547.88 L579.36,546.84 L580.41,545.74 L581.45,544.61 L582.48,543.44 L583.50,542.24 L584.52,541.02 L585.52,539.78 L586.52,538.54 L587.51,537.29 L588.50,536.04 L589.48,534.81 L590.46,533.60 L591.42,532.40 L592.38,531.24 L593.33,530.10 L594.27,529.02 L595.20,527.97 L596.12,526.98 L597.03,526.05 L597.93,525.17 L598.81,524.36 L599.67,523.61 L600.52,522.93 L601.34,522.32" fill="none" stroke="#1e1e1e" stroke-width="0.9"/><path d="M504.93,551.55 L505.83,551.28 L506.66,550.85 L507.44,550.34 L508.17,549.75 L508.95,549.32 L509.74,548.85 L510.55,548.32 L511.38,547.72 L512.22,547.06 L513.09,546.32 L513.97,545.52 L514.86,544.66 L515.77,543.73 L516.69,542.75 L517.62,541.72 L518.57,540.63 L519.52,539.51 L520.48,538.34 L521.45,537.15 L522.42,535.93 L523.41,534.70 L524.40,533.45 L525.40,532.19 L526.40,530.94 L527.40,529.70 L528.42,528.47 L529.45,527.26 L530.48,526.08 L531.52,524.94 L532.57,523.83 L533.64,522.78 L534.71,521.77 L535.80,520.82 L536.91,519.94 L538.03,519.13 L539.17,518.40 L540.33,517.76 L541.50,517.21 L542.69,516.76 L543.89,516.42 L545.10,516.19 L546.30,516.08 L547.48,516.08 L548.65,516.11 L548.55,519.89 L547.73,519.96 L546.93,520.18 L546.14,520.47 L545.36,520.82 L544.57,521.23 L543.78,521.70 L542.97,522.24 L542.14,522.84 L541.29,523.51 L540.43,524.25 L539.55,525.06 L538.65,525.93 L537.74,526.86 L536.82,527.85 L535.88,528.89 L534.94,529.98 L533.99,531.11 L533.02,532.28 L532.05,533.47 L531.08,534.69 L530.09,535.93 L529.10,537.18 L528.10,538.43 L527.10,539.68 L526.09,540.93 L525.08,542.15 L524.05,543.36 L523.02,544.53 L521.97,545.67 L520.92,546.77 L519.85,547.83 L518.78,548.83 L517.68,549.77 L516.58,550.64 L515.45,551.44 L514.31,552.17 L513.15,552.80 L511.98,553.34 L510.79,553.78 L509.58,554.08 L508.32,554.05 L507.11,553.92 L505.96,553.69 L504.87,553.43Z" fill="#8a8a8a" stroke="#8a8a8a" stroke-width="0.3"/><path d="M504.93,551.55 L505.83,551.28 L506.66,550.85 L507.44,550.34 L508.17,549.75 L508.95,549.32 L509.74,548.85 L510.55,548.32 L511.38,547.72 L512.22,547.06 L513.09,546.32 L513.97,545.52 L514.86,544.66 L515.77,543.73 L516.69,542.75 L517.62,541.72 L518.57,540.63 L519.52,539.51 L520.48,538.34 L521.45,537.15 L522.42,535.93 L523.41,534.70 L524.40,533.45 L525.40,532.19 L526.40,530.94 L527.40,529.70 L528.42,528.47 L529.45,527.26 L530.48,526.08 L531.52,524.94 L532.57,523.83 L533.64,522.78 L534.71,521.77 L535.80,520.82 L536.91,519.94 L538.03,519.13 L539.17,518.40 L540.33,517.76 L541.50,517.21 L542.69,516.76 L543.89,516.42 L545.10,516.19 L546.30,516.08 L547.48,516.08 L548.65,516.11 M504.87,553.43 L505.96,553.69 L507.11,553.92 L508.32,554.05 L509.58,554.08 L510.79,553.78 L511.98,553.34 L513.15,552.80 L514.31,552.17 L515.45,551.44 L516.58,550.64 L517.68,549.77 L518.78,548.83 L519.85,547.83 L520.92,546.77 L521.97,545.67 L523.02,544.53 L524.05,543.36 L525.08,542.15 L526.09,540.93 L527.10,539.68 L528.10,538.43 L529.10,537.18 L530.09,535.93 L531.08,534.69 L532.05,533.47 L533.02,532.28 L533.99,531.11 L534.94,529.98 L535.88,528.89 L536.82,527.85 L537.74,526.86 L538.65,525.93 L539.55,525.06 L540.43,524.25 L541.29,523.51 L542.14,522.84 L542.97,522.24 L543.78,521.70 L544.57,521.23 L545.36,520.82 L546.14,520.47 L546.93,520.18 L547.73,519.96 L548.55,519.89" fill="none" stroke="#1e1e1e" stroke-width="0.9"/><path d="M590.97,550.59 L591.80,550.55 L592.62,550.33 L593.42,550.05 L594.22,549.70 L595.02,549.28 L595.83,548.80 L596.66,548.25 L597.50,547.63 L598.36,546.94 L601.64,551.32 L600.48,552.07 L599.30,552.73 L598.10,553.29 L596.89,553.74 L595.67,554.09 L594.45,554.32 L593.23,554.42 L592.02,554.41 L590.83,554.40Z" fill="#8a8a8a" stroke="#8a8a8a" stroke-width="0.3"/><path d="M590.97,550.59 L591.80,550.55 L592.62,550.33 L593.42,550.05 L594.22,549.70 L595.02,549.28 L595.83,548.80 L596.66,548.25 L597.50,547.63 L598.36,546.94 M590.83,554.40 L592.02,554.41 L593.23,554.42 L594.45,554.32 L595.67,554.09 L596.89,553.74 L598.10,553.29 L599.30,552.73 L600.48,552.07 L601.64,551.32" fill="none" stroke="#1e1e1e" stroke-width="0.9"/>
<path d="M53.10,516.52 L54.25,516.28 L55.45,516.08 L56.66,516.18 L57.87,516.41 L59.07,516.74 L60.26,517.18 L61.44,517.73 L62.61,518.37 L63.75,519.09 L64.88,519.90 L65.99,520.78 L67.09,521.72 L68.17,522.72 L69.24,523.78 L70.30,524.88 L71.35,526.02 L72.39,527.20 L73.42,528.40 L74.44,529.63 L75.46,530.87 L76.47,532.13 L77.47,533.38 L78.47,534.63 L79.46,535.86 L80.44,537.08 L81.41,538.28 L82.38,539.44 L83.34,540.57 L84.29,541.66 L85.23,542.70 L86.15,543.68 L87.07,544.61 L87.97,545.48 L88.86,546.28 L89.72,547.02 L90.58,547.69 L91.41,548.29 L92.23,548.83 L93.03,549.30 L93.82,549.70 L94.61,550.05 L95.41,550.33 L96.22,550.55 L97.04,550.60 L97.16,554.39 L95.99,554.41 L94.80,554.42 L93.59,554.32 L92.38,554.09 L91.18,553.76 L89.99,553.32 L88.81,552.77 L87.64,552.13 L86.50,551.41 L85.37,550.60 L84.26,549.72 L83.16,548.78 L82.08,547.78 L81.01,546.72 L79.95,545.62 L78.90,544.48 L77.86,543.30 L76.83,542.10 L75.81,540.87 L74.79,539.63 L73.78,538.37 L72.78,537.12 L71.78,535.87 L70.79,534.64 L69.81,533.42 L68.84,532.22 L67.87,531.06 L66.91,529.93 L65.96,528.84 L65.02,527.80 L64.10,526.82 L63.18,525.89 L62.28,525.02 L61.39,524.22 L60.53,523.48 L59.67,522.81 L58.84,522.21 L58.02,521.67 L57.22,521.20 L56.43,520.80 L55.64,520.45 L54.84,520.17 L54.05,519.76 L53.20,519.49Z" fill="#8a8a8a" stroke="#8a8a8a" stroke-width="0.3"/><path d="M53.10,516.52 L54.25,516.28 L55.45,516.08 L56.66,516.18 L57.87,516.41 L59.07,516.74 L60.26,517.18 L61.44,517.73 L62.61,518.37 L63.75,519.09 L64.88,519.90 L65.99,520.78 L67.09,521.72 L68.17,522.72 L69.24,523.78 L70.30,524.88 L71.35,526.02 L72.39,527.20 L73.42,528.40 L74.44,529.63 L75.46,530.87 L76.47,532.13 L77.47,533.38 L78.47,534.63 L79.46,535.86 L80.44,537.08 L81.41,538.28 L82.38,539.44 L83.34,540.57 L84.29,541.66 L85.23,542.70 L86.15,543.68 L87.07,544.61 L87.97,545.48 L88.86,546.28 L89.72,547.02 L90.58,547.69 L91.41,548.29 L92.23,548.83 L93.03,549.30 L93.82,549.70 L94.61,550.05 L95.41,550.33 L96.22,550.55 L97.04,550.60 M53.20,519.49 L54.05,519.76 L54.84,520.17 L55.64,520.45 L56.43,520.80 L57.22,521.20 L58.02,521.67 L58.84,522.21 L59.67,522.81 L60.53,523.48 L61.39,524.22 L62.28,525.02 L63.18,525.89 L64.10,526.82 L65.02,527.80 L65.96,528.84 L66.91,529.93 L67.87,531.06 L68.84,532.22 L69.81,533.42 L70.79,534.64 L71.78,535.87 L72.78,537.12 L73.78,538.37 L74.79,539.63 L75.81,540.87 L76.83,542.10 L77.86,543.30 L78.90,544.48 L79.95,545.62 L81.01,546.72 L82.08,547.78 L83.16,548.78 L84.26,549.72 L85.37,550.60 L86.50,551.41 L87.64,552.13 L88.81,552.77 L89.99,553.32 L91.18,553.76 L92.38,554.09 L93.59,554.32 L94.80,554.42 L95.99,554.41 L97.16,554.39" fill="none" stroke="#1e1e1e" stroke-width="0.9"/><path d="M139.65,516.11 L140.81,516.08 L141.98,516.08 L143.17,516.19 L144.36,516.41 L145.55,516.74 L146.73,517.17 L147.90,517.71 L149.05,518.33 L150.18,519.04 L151.30,519.83 L152.40,520.69 L153.48,521.62 L154.55,522.60 L155.61,523.64 L156.66,524.72 L157.69,525.85 L158.72,527.00 L159.74,528.19 L160.75,529.40 L161.75,530.62 L162.75,531.85 L163.74,533.09 L164.73,534.33 L165.71,535.55 L166.68,536.76 L167.64,537.95 L168.60,539.11 L169.55,540.23 L170.49,541.32 L166.11,545.26 L165.08,544.12 L164.06,542.95 L163.04,541.75 L162.03,540.54 L161.03,539.31 L160.04,538.07 L159.05,536.84 L158.07,535.61 L157.09,534.39 L156.13,533.19 L155.16,532.01 L154.21,530.87 L153.27,529.76 L152.33,528.69 L151.41,527.68 L150.49,526.71 L149.59,525.80 L148.70,524.95 L147.83,524.16 L146.97,523.44 L146.13,522.78 L145.31,522.19 L144.50,521.66 L143.71,521.20 L142.93,520.80 L142.15,520.45 L141.36,520.17 L140.57,519.96 L139.75,519.89Z" fill="#0038ff" stroke="#0038ff" stroke-width="0.3"/><path d="M139.65,516.11 L140.81,516.08 L141.98,516.08 L143.17,516.19 L144.36,516.41 L145.55,516.74 L146.73,517.17 L147.90,517.71 L149.05,518.33 L150.18,519.04 L151.30,519.83 L152.40,520.69 L153.48,521.62 L154.55,522.60 L155.61,523.64 L156.66,524.72 L157.69,525.85 L158.72,527.00 L159.74,528.19 L160.75,529.40 L161.75,530.62 L162.75,531.85 L163.74,533.09 L164.73,534.33 L165.71,535.55 L166.68,536.76 L167.64,537.95 L168.60,539.11 L169.55,540.23 L170.49,541.32 M139.75,519.89 L140.57,519.96 L141.36,520.17 L142.15,520.45 L142.93,520.80 L143.71,521.20 L144.50,521.66 L145.31,522.19 L146.13,522.78 L146.97,523.44 L147.83,524.16 L148.70,524.95 L149.59,525.80 L150.49,526.71 L151.41,527.68 L152.33,528.69 L153.27,529.76 L154.21,530.87 L155.16,532.01 L156.13,533.19 L157.09,534.39 L158.07,535.61 L159.05,536.84 L160.04,538.07 L161.03,539.31 L162.03,540.54 L163.04,541.75 L164.06,542.95 L165.08,544.12 L166.11,545.26" fill="none" stroke="#1e1e1e" stroke-width="0.9"/><path d="M170.49,541.32 L171.45,542.40 L172.41,543.42 L173.35,544.39 L174.27,545.29 L175.18,546.13 L176.08,546.90 L176.95,547.60 L177.81,548.22 L178.65,548.78 L179.47,549.27 L180.29,549.69 L181.10,550.04 L181.91,550.33 L182.74,550.55 L183.58,550.59 L183.72,554.40 L182.52,554.41 L181.30,554.42 L180.06,554.31 L178.83,554.08 L177.59,553.73 L176.37,553.27 L175.16,552.70 L173.97,552.03 L172.80,551.28 L171.65,550.44 L170.51,549.52 L169.39,548.54 L168.29,547.50 L167.19,546.41 L166.11,545.26Z" fill="#8a8a8a" stroke="#8a8a8a" stroke-width="0.3"/><path d="M170.49,541.32 L171.45,542.40 L172.41,543.42 L173.35,544.39 L174.27,545.29 L175.18,546.13 L176.08,546.90 L176.95,547.60 L177.81,548.22 L178.65,548.78 L179.47,549.27 L180.29,549.69 L181.10,550.04 L181.91,550.33 L182.74,550.55 L183.58,550.59 M166.11,545.26 L167.19,546.41 L168.29,547.50 L169.39,548.54 L170.51,549.52 L171.65,550.44 L172.80,551.28 L173.97,552.03 L175.16,552.70 L176.37,553.27 L177.59,553.73 L178.83,554.08 L180.06,554.31 L181.30,554.42 L182.52,554.41 L183.72,554.40" fill="none" stroke="#1e1e1e" stroke-width="0.9"/><path d="M226.15,516.11 L227.32,516.08 L228.51,516.08 L229.72,516.19 L230.93,516.42 L232.13,516.76 L233.32,517.21 L234.50,517.76 L235.67,518.40 L236.81,519.13 L237.94,519.94 L239.05,520.82 L240.15,521.77 L241.23,522.77 L242.30,523.83 L243.36,524.94 L244.40,526.08 L245.44,527.26 L246.47,528.47 L247.50,529.69 L248.51,530.94 L249.52,532.19 L250.52,533.44 L251.52,534.69 L252.51,535.92 L253.49,537.14 L254.46,538.34 L255.43,539.50 L256.39,540.63 L257.33,541.71 L258.27,542.75 L259.20,543.73 L260.11,544.66 L261.01,545.52 L261.90,546.32 L262.77,547.05 L263.62,547.72 L264.45,548.32 L265.27,548.85 L266.07,549.32 L266.86,549.72 L267.65,550.06 L268.45,550.34 L269.26,550.56 L270.08,550.59 L270.22,554.40 L269.05,554.41 L267.86,554.42 L266.65,554.32 L265.45,554.11 L264.24,553.78 L263.05,553.34 L261.86,552.80 L260.70,552.17 L259.55,551.45 L258.42,550.64 L257.31,549.77 L256.21,548.83 L255.13,547.83 L254.06,546.78 L253.00,545.68 L251.95,544.54 L250.91,543.36 L249.88,542.16 L248.86,540.93 L247.84,539.69 L246.83,538.44 L245.83,537.18 L244.83,535.94 L243.84,534.70 L242.86,533.48 L241.89,532.28 L240.92,531.12 L239.96,529.98 L239.01,528.90 L238.07,527.85 L237.14,526.87 L236.23,525.93 L235.33,525.06 L234.44,524.26 L233.57,523.52 L232.72,522.84 L231.88,522.24 L231.06,521.70 L230.26,521.22 L229.47,520.81 L228.68,520.47 L227.88,520.18 L227.08,519.96 L226.25,519.89Z" fill="#8a8a8a" stroke="#8a8a8a" stroke-width="0.3"/><path d="M226.15,516.11 L227.32,516.08 L228.51,516.08 L229.72,516.19 L230.93,516.42 L232.13,516.76 L233.32,517.21 L234.50,517.76 L235.67,518.40 L236.81,519.13 L237.94,519.94 L239.05,520.82 L240.15,521.77 L241.23,522.77 L242.30,523.83 L243.36,524.94 L244.40,526.08 L245.44,527.26 L246.47,528.47 L247.50,529.69 L248.51,530.94 L249.52,532.19 L250.52,533.44 L251.52,534.69 L252.51,535.92 L253.49,537.14 L254.46,538.34 L255.43,539.50 L256.39,540.63 L257.33,541.71 L258.27,542.75 L259.20,543.73 L260.11,544.66 L261.01,545.52 L261.90,546.32 L262.77,547.05 L263.62,547.72 L264.45,548.32 L265.27,548.85 L266.07,549.32 L266.86,549.72 L267.65,550.06 L268.45,550.34 L269.26,550.56 L270.08,550.59 M226.25,519.89 L227.08,519.96 L227.88,520.18 L228.68,520.47 L229.47,520.81 L230.26,521.22 L231.06,521.70 L231.88,522.24 L232.72,522.84 L233.57,523.52 L234.44,524.26 L235.33,525.06 L236.23,525.93 L237.14,526.87 L238.07,527.85 L239.01,528.90 L239.96,529.98 L240.92,531.12 L241.89,532.28 L242.86,533.48 L243.84,534.70 L244.83,535.94 L245.83,537.18 L246.83,538.44 L247.84,539.69 L248.86,540.93 L249.88,542.16 L250.91,543.36 L251.95,544.54 L253.00,545.68 L254.06,546.78 L255.13,547.83 L256.21,548.83 L257.31,549.77 L258.42,550.64 L259.55,551.45 L260.70,552.17 L261.86,552.80 L263.05,553.34 L264.24,553.78 L265.45,554.11 L266.65,554.32 L267.86,554.42 L269.05,554.41 L270.22,554.40" fill="none" stroke="#1e1e1e" stroke-width="0.9"/><path d="M312.59,516.11 L313.71,516.11 L314.81,516.10 L315.93,516.15 L317.04,516.27 L318.16,516.45 L319.28,516.69 L320.39,517.00 L321.51,517.36 L322.61,517.79 L323.72,518.27 L324.81,518.80 L325.90,519.38 L326.98,520.01 L328.06,520.69 L329.12,521.41 L330.18,522.16 L331.23,522.95 L332.28,523.78 L328.72,528.07 L327.78,527.28 L326.85,526.52 L325.93,525.80 L325.01,525.11 L324.10,524.47 L323.20,523.86 L322.30,523.29 L321.42,522.76 L320.54,522.27 L319.66,521.82 L318.79,521.42 L317.92,521.06 L317.06,520.74 L316.19,520.47 L315.32,520.24 L314.45,520.05 L313.57,519.91 L312.71,519.90Z" fill="#e4e4e4" stroke="#e4e4e4" stroke-width="0.3"/><path d="M312.59,516.11 L313.71,516.11 L314.81,516.10 L315.93,516.15 L317.04,516.27 L318.16,516.45 L319.28,516.69 L320.39,517.00 L321.51,517.36 L322.61,517.79 L323.72,518.27 L324.81,518.80 L325.90,519.38 L326.98,520.01 L328.06,520.69 L329.12,521.41 L330.18,522.16 L331.23,522.95 L332.28,523.78 M312.71,519.90 L313.57,519.91 L314.45,520.05 L315.32,520.24 L316.19,520.47 L317.06,520.74 L317.92,521.06 L318.79,521.42 L319.66,521.82 L320.54,522.27 L321.42,522.76 L322.30,523.29 L323.20,523.86 L324.10,524.47 L325.01,525.11 L325.93,525.80 L326.85,526.52 L327.78,527.28 L328.72,528.07" fill="none" stroke="#1e1e1e" stroke-width="0.9"/><path d="M332.28,523.78 L333.34,524.65 L334.40,525.55 L335.45,526.47 L336.50,527.41 L337.54,528.38 L338.57,529.35 L339.60,530.34 L340.63,531.33 L341.65,532.33 L342.66,533.33 L343.67,534.33 L344.68,535.32 L345.68,536.30 L346.68,537.27 L347.67,538.22 L348.66,539.16 L349.64,540.07 L350.61,540.96 L351.58,541.82 L352.54,542.65 L353.50,543.45 L354.45,544.21 L355.39,544.94 L356.33,545.63 L357.25,546.28 L358.17,546.89 L359.08,547.45 L359.99,547.97 L360.80,548.66 L361.61,549.32 L362.44,549.95 L363.30,550.53 L364.18,551.06 L365.09,551.55 L366.03,552.00 L367.00,552.47 L367.00,552.47 L365.94,552.77 L364.86,552.93 L363.74,553.02 L362.59,553.04 L361.42,553.00 L360.22,552.89 L359.01,552.72 L357.79,552.46 L356.67,551.94 L355.55,551.36 L354.44,550.74 L353.34,550.06 L352.25,549.35 L351.16,548.59 L350.08,547.79 L349.01,546.96 L347.95,546.09 L346.89,545.20 L345.84,544.29 L344.79,543.35 L343.75,542.39 L342.71,541.42 L341.68,540.43 L340.65,539.44 L339.63,538.44 L338.61,537.44 L337.60,536.44 L336.59,535.45 L335.59,534.47 L334.59,533.49 L333.60,532.54 L332.61,531.60 L331.63,530.68 L330.65,529.78 L329.68,528.91 L328.72,528.07Z" fill="#fff000" stroke="#fff000" stroke-width="0.3"/><path d="M332.28,523.78 L333.34,524.65 L334.40,525.55 L335.45,526.47 L336.50,527.41 L337.54,528.38 L338.57,529.35 L339.60,530.34 L340.63,531.33 L341.65,532.33 L342.66,533.33 L343.67,534.33 L344.68,535.32 L345.68,536.30 L346.68,537.27 L347.67,538.22 L348.66,539.16 L349.64,540.07 L350.61,540.96 L351.58,541.82 L352.54,542.65 L353.50,543.45 L354.45,544.21 L355.39,544.94 L356.33,545.63 L357.25,546.28 L358.17,546.89 L359.08,547.45 L359.99,547.97 L360.80,548.66 L361.61,549.32 L362.44,549.95 L363.30,550.53 L364.18,551.06 L365.09,551.55 L366.03,552.00 L367.00,552.47 M328.72,528.07 L329.68,528.91 L330.65,529.78 L331.63,530.68 L332.61,531.60 L333.60,532.54 L334.59,533.49 L335.59,534.47 L336.59,535.45 L337.60,536.44 L338.61,537.44 L339.63,538.44 L340.65,539.44 L341.68,540.43 L342.71,541.42 L343.75,542.39 L344.79,543.35 L345.84,544.29 L346.89,545.20 L347.95,546.09 L349.01,546.96 L350.08,547.79 L351.16,548.59 L352.25,549.35 L353.34,550.06 L354.44,550.74 L355.55,551.36 L356.67,551.94 L357.79,552.46 L359.01,552.72 L360.22,552.89 L361.42,553.00 L362.59,553.04 L363.74,553.02 L364.86,552.93 L365.94,552.77 L367.00,552.47" fill="none" stroke="#1e1e1e" stroke-width="0.9"/><path d="M81.10,516.52 L82.25,516.28 L83.45,516.08 L84.66,516.18 L85.87,516.41 L87.07,516.74 L88.26,517.18 L89.44,517.73 L90.61,518.37 L91.75,519.09 L92.88,519.90 L93.99,520.78 L95.09,521.72 L96.17,522.72 L97.24,523.78 L98.30,524.88 L99.35,526.02 L100.39,527.20 L101.42,528.40 L102.44,529.63 L103.46,530.87 L104.47,532.13 L105.47,533.38 L106.47,534.63 L107.46,535.86 L108.44,537.08 L109.41,538.28 L110.38,539.44 L111.34,540.57 L112.29,541.66 L113.23,542.70 L114.15,543.68 L115.07,544.61 L115.97,545.48 L116.86,546.28 L117.72,547.02 L118.58,547.69 L119.41,548.29 L120.23,548.83 L121.03,549.30 L121.82,549.70 L122.61,550.05 L123.41,550.33 L124.22,550.55 L125.04,550.60 L125.16,554.39 L123.99,554.41 L122.80,554.42 L121.59,554.32 L120.38,554.09 L119.18,553.76 L117.99,553.32 L116.81,552.77 L115.64,552.13 L114.50,551.41 L113.37,550.60 L112.26,549.72 L111.16,548.78 L110.08,547.78 L109.01,546.72 L107.95,545.62 L106.90,544.48 L105.86,543.30 L104.83,542.10 L103.81,540.87 L102.79,539.63 L101.78,538.37 L100.78,537.12 L99.78,535.87 L98.79,534.64 L97.81,533.42 L96.84,532.22 L95.87,531.06 L94.91,529.93 L93.96,528.84 L93.02,527.80 L92.10,526.82 L91.18,525.89 L90.28,525.02 L89.39,524.22 L88.53,523.48 L87.67,522.81 L86.84,522.21 L86.02,521.67 L85.22,521.20 L84.43,520.80 L83.64,520.45 L82.84,520.17 L82.05,519.76 L81.20,519.49Z" fill="#8a8a8a" stroke="#8a8a8a" stroke-width="0.3"/><path d="M81.10,516.52 L82.25,516.28 L83.45,516.08 L84.66,516.18 L85.87,516.41 L87.07,516.74 L88.26,517.18 L89.44,517.73 L90.61,518.37 L91.75,519.09 L92.88,519.90 L93.99,520.78 L95.09,521.72 L96.17,522.72 L97.24,523.78 L98.30,524.88 L99.35,526.02 L100.39,527.20 L101.42,528.40 L102.44,529.63 L103.46,530.87 L104.47,532.13 L105.47,533.38 L106.47,534.63 L107.46,535.86 L108.44,537.08 L109.41,538.28 L110.38,539.44 L111.34,540.57 L112.29,541.66 L113.23,542.70 L114.15,543.68 L115.07,544.61 L115.97,545.48 L116.86,546.28 L117.72,547.02 L118.58,547.69 L119.41,548.29 L120.23,548.83 L121.03,549.30 L121.82,549.70 L122.61,550.05 L123.41,550.33 L124.22,550.55 L125.04,550.60 M81.20,519.49 L82.05,519.76 L82.84,520.17 L83.64,520.45 L84.43,520.80 L85.22,521.20 L86.02,521.67 L86.84,522.21 L87.67,522.81 L88.53,523.48 L89.39,524.22 L90.28,525.02 L91.18,525.89 L92.10,526.82 L93.02,527.80 L93.96,528.84 L94.91,529.93 L95.87,531.06 L96.84,532.22 L97.81,533.42 L98.79,534.64 L99.78,535.87 L100.78,537.12 L101.78,538.37 L102.79,539.63 L103.81,540.87 L104.83,542.10 L105.86,543.30 L106.90,544.48 L107.95,545.62 L109.01,546.72 L110.08,547.78 L111.16,548.78 L112.26,549.72 L113.37,550.60 L114.50,551.41 L115.64,552.13 L116.81,552.77 L117.99,553.32 L119.18,553.76 L120.38,554.09 L121.59,554.32 L122.80,554.42 L123.99,554.41 L125.16,554.39" fill="none" stroke="#1e1e1e" stroke-width="0.9"/><path d="M167.65,516.11 L168.00,516.15 L168.35,516.11 L168.25,519.89 L168.00,519.85 L167.75,519.89Z" fill="#0038ff" stroke="#0038ff" stroke-width="0.3"/><path d="M167.65,516.11 L168.00,516.15 L168.35,516.11 M167.75,519.89 L168.00,519.85 L168.25,519.89" fill="none" stroke="#1e1e1e" stroke-width="0.9"/><path d="M168.35,516.11 L169.55,516.07 L170.76,516.14 L171.98,516.32 L173.19,516.63 L174.40,517.04 L175.60,517.56 L176.78,518.18 L177.94,518.89 L179.08,519.68 L180.21,520.54 L181.32,521.48 L182.42,522.48 L183.50,523.53 L184.57,524.63 L185.63,525.78 L186.68,526.96 L187.72,528.17 L188.76,529.41 L189.79,530.66 L190.80,531.92 L191.82,533.19 L192.82,534.45 L193.82,535.70 L194.81,536.93 L195.80,538.14 L196.78,539.32 L197.74,540.46 L198.70,541.56 L199.65,542.61 L200.59,543.61 L201.51,544.56 L202.42,545.43 L203.32,546.25 L204.20,547.00 L205.06,547.67 L205.90,548.28 L206.72,548.82 L207.53,549.30 L208.33,549.71 L209.13,550.06 L209.93,550.34 L210.75,550.55 L211.58,550.59 L211.72,554.40 L210.54,554.41 L209.33,554.42 L208.12,554.32 L206.90,554.10 L205.68,553.76 L204.48,553.31 L203.29,552.76 L202.11,552.12 L200.96,551.38 L199.82,550.57 L198.70,549.68 L197.59,548.72 L196.50,547.71 L195.42,546.64 L194.35,545.52 L193.30,544.36 L192.25,543.17 L191.21,541.95 L190.18,540.71 L189.15,539.46 L188.14,538.19 L187.13,536.93 L186.12,535.67 L185.12,534.43 L184.13,533.20 L183.15,532.00 L182.18,530.83 L181.21,529.70 L180.26,528.61 L179.31,527.57 L178.38,526.59 L177.46,525.67 L176.55,524.81 L175.66,524.02 L174.79,523.29 L173.94,522.63 L173.10,522.04 L172.28,521.52 L171.47,521.07 L170.67,520.68 L169.87,520.35 L169.07,520.09 L168.25,519.89Z" fill="#8a8a8a" stroke="#8a8a8a" stroke-width="0.3"/><path d="M168.35,516.11 L169.55,516.07 L170.76,516.14 L171.98,516.32 L173.19,516.63 L174.40,517.04 L175.60,517.56 L176.78,518.18 L177.94,518.89 L179.08,519.68 L180.21,520.54 L181.32,521.48 L182.42,522.48 L183.50,523.53 L184.57,524.63 L185.63,525.78 L186.68,526.96 L187.72,528.17 L188.76,529.41 L189.79,530.66 L190.80,531.92 L191.82,533.19 L192.82,534.45 L193.82,535.70 L194.81,536.93 L195.80,538.14 L196.78,539.32 L197.74,540.46 L198.70,541.56 L199.65,542.61 L200.59,543.61 L201.51,544.56 L202.42,545.43 L203.32,546.25 L204.20,547.00 L205.06,547.67 L205.90,548.28 L206.72,548.82 L207.53,549.30 L208.33,549.71 L209.13,550.06 L209.93,550.34 L210.75,550.55 L211.58,550.59 M168.25,519.89 L169.07,520.09 L169.87,520.35 L170.67,520.68 L171.47,521.07 L172.28,521.52 L173.10,522.04 L173.94,522.63 L174.79,523.29 L175.66,524.02 L176.55,524.81 L177.46,525.67 L178.38,526.59 L179.31,527.57 L180.26,528.61 L181.21,529.70 L182.18,530.83 L183.15,532.00 L184.13,533.20 L185.12,534.43 L186.12,535.67 L187.13,536.93 L188.14,538.19 L189.15,539.46 L190.18,540.71 L191.21,541.95 L192.25,543.17 L193.30,544.36 L194.35,545.52 L195.42,546.64 L196.50,547.71 L197.59,548.72 L198.70,549.68 L199.82,550.57 L200.96,551.38 L202.11,552.12 L203.29,552.76 L204.48,553.31 L205.68,553.76 L206.90,554.10 L208.12,554.32 L209.33,554.42 L210.54,554.41 L211.72,554.40" fill="none" stroke="#1e1e1e" stroke-width="0.9"/><path d="M254.15,516.11 L255.32,516.08 L256.50,516.08 L257.70,516.19 L258.90,516.42 L260.10,516.75 L261.29,517.19 L262.46,517.74 L263.62,518.37 L264.76,519.10 L265.88,519.90 L266.99,520.77 L268.08,521.71 L269.16,522.71 L270.22,523.76 L271.28,524.85 L272.32,525.99 L273.36,527.16 L274.38,528.36 L275.40,529.58 L276.41,530.81 L277.41,532.06 L278.41,533.31 L279.40,534.55 L280.39,535.78 L281.37,536.99 L282.34,538.18 L283.30,539.35 L284.25,540.47 L285.20,541.56 L286.13,542.60 L287.06,543.58 L287.97,544.51 L288.87,545.38 L285.13,549.62 L284.04,548.68 L282.97,547.67 L281.90,546.62 L280.85,545.52 L279.81,544.38 L278.77,543.20 L277.75,542.00 L276.73,540.78 L275.72,539.54 L274.72,538.30 L273.72,537.05 L272.73,535.81 L271.75,534.58 L270.77,533.37 L269.80,532.18 L268.84,531.02 L267.88,529.90 L266.94,528.82 L266.01,527.78 L265.08,526.80 L264.17,525.88 L263.28,525.02 L262.40,524.22 L261.53,523.48 L260.68,522.82 L259.85,522.22 L259.04,521.68 L258.24,521.21 L257.45,520.81 L256.66,520.46 L255.87,520.18 L255.07,519.96 L254.25,519.89Z" fill="#8a8a8a" stroke="#8a8a8a" stroke-width="0.3"/><path d="M254.15,516.11 L255.32,516.08 L256.50,516.08 L257.70,516.19 L258.90,516.42 L260.10,516.75 L261.29,517.19 L262.46,517.74 L263.62,518.37 L264.76,519.10 L265.88,519.90 L266.99,520.77 L268.08,521.71 L269.16,522.71 L270.22,523.76 L271.28,524.85 L272.32,525.99 L273.36,527.16 L274.38,528.36 L275.40,529.58 L276.41,530.81 L277.41,532.06 L278.41,533.31 L279.40,534.55 L280.39,535.78 L281.37,536.99 L282.34,538.18 L283.30,539.35 L284.25,540.47 L285.20,541.56 L286.13,542.60 L287.06,543.58 L287.97,544.51 L288.87,545.38 M254.25,519.89 L255.07,519.96 L255.87,520.18 L256.66,520.46 L257.45,520.81 L258.24,521.21 L259.04,521.68 L259.85,522.22 L260.68,522.82 L261.53,523.48 L262.40,524.22 L263.28,525.02 L264.17,525.88 L265.08,526.80 L266.01,527.78 L266.94,528.82 L267.88,529.90 L268.84,531.02 L269.80,532.18 L270.77,533.37 L271.75,534.58 L272.73,535.81 L273.72,537.05 L274.72,538.30 L275.72,539.54 L276.73,540.78 L277.75,542.00 L278.77,543.20 L279.81,544.38 L280.85,545.52 L281.90,546.62 L282.97,547.67 L284.04,548.68 L285.13,549.62" fill="none" stroke="#1e1e1e" stroke-width="0.9"/><path d="M288.87,545.38 L289.77,546.20 L290.65,546.95 L291.51,547.64 L292.35,548.25 L293.18,548.80 L293.99,549.27 L294.79,549.69 L295.59,550.04 L296.39,550.33 L297.21,550.55 L298.04,550.60 L298.16,554.39 L296.97,554.42 L295.77,554.42 L294.56,554.31 L293.34,554.08 L292.12,553.74 L290.91,553.28 L289.72,552.73 L288.55,552.08 L287.39,551.34 L286.25,550.52 L285.13,549.62Z" fill="#e4e4e4" stroke="#e4e4e4" stroke-width="0.3"/><path d="M288.87,545.38 L289.77,546.20 L290.65,546.95 L291.51,547.64 L292.35,548.25 L293.18,548.80 L293.99,549.27 L294.79,549.69 L295.59,550.04 L296.39,550.33 L297.21,550.55 L298.04,550.60 M285.13,549.62 L286.25,550.52 L287.39,551.34 L288.55,552.08 L289.72,552.73 L290.91,553.28 L292.12,553.74 L293.34,554.08 L294.56,554.31 L295.77,554.42 L296.97,554.42 L298.16,554.39" fill="none" stroke="#1e1e1e" stroke-width="0.9"/><path d="M340.59,516.11 L341.72,516.12 L342.82,516.11 L343.93,516.15 L345.04,516.25 L346.15,516.40 L347.26,516.61 L348.37,516.87 L349.48,517.18 L350.59,517.53 L351.69,517.94 L352.79,518.39 L353.88,518.88 L354.96,519.41 L356.04,519.98 L357.11,520.58 L358.18,521.21 L359.24,521.88 L360.29,522.56 L361.34,523.27 L362.38,523.99 L363.42,524.74 L364.45,525.49 L365.47,526.26 L366.49,527.03 L367.50,527.80 L368.51,528.58 L369.51,529.35 L370.51,530.12 L371.50,530.88 L372.49,531.63 L373.47,532.36 L374.44,533.08 L375.41,533.78 L376.37,534.46 L377.33,535.11 L378.28,535.74 L379.22,536.34 L380.16,536.91 L381.09,537.45 L382.02,537.96 L382.94,538.44 L383.85,538.88 L384.76,539.28 L385.67,539.65 L386.57,539.98 L387.47,540.28 L388.37,540.53 L389.28,540.75 L390.18,540.92 L391.09,541.06 L390.91,544.89 L389.80,544.89 L388.70,544.82 L387.59,544.71 L386.47,544.53 L385.36,544.31 L384.25,544.03 L383.14,543.71 L382.04,543.33 L380.94,542.91 L379.84,542.45 L378.75,541.94 L377.67,541.40 L376.59,540.82 L375.52,540.21 L374.46,539.56 L373.40,538.89 L372.35,538.20 L371.31,537.49 L370.27,536.75 L369.23,536.01 L368.21,535.25 L367.18,534.48 L366.17,533.71 L365.15,532.93 L364.15,532.16 L363.15,531.39 L362.15,530.62 L361.16,529.87 L360.18,529.12 L359.20,528.39 L358.23,527.68 L357.26,526.99 L356.30,526.32 L355.35,525.67 L354.40,525.05 L353.46,524.46 L352.52,523.90 L351.59,523.37 L350.67,522.87 L349.75,522.41 L348.84,521.98 L347.93,521.59 L347.02,521.23 L346.12,520.91 L345.22,520.63 L344.32,520.39 L343.42,520.19 L342.51,520.03 L341.60,519.91 L340.71,519.90Z" fill="#fff000" stroke="#fff000" stroke-width="0.3"/><path d="M340.59,516.11 L341.72,516.12 L342.82,516.11 L343.93,516.15 L345.04,516.25 L346.15,516.40 L347.26,516.61 L348.37,516.87 L349.48,517.18 L350.59,517.53 L351.69,517.94 L352.79,518.39 L353.88,518.88 L354.96,519.41 L356.04,519.98 L357.11,520.58 L358.18,521.21 L359.24,521.88 L360.29,522.56 L361.34,523.27 L362.38,523.99 L363.42,524.74 L364.45,525.49 L365.47,526.26 L366.49,527.03 L367.50,527.80 L368.51,528.58 L369.51,529.35 L370.51,530.12 L371.50,530.88 L372.49,531.63 L373.47,532.36 L374.44,533.08 L375.41,533.78 L376.37,534.46 L377.33,535.11 L378.28,535.74 L379.22,536.34 L380.16,536.91 L381.09,537.45 L382.02,537.96 L382.94,538.44 L383.85,538.88 L384.76,539.28 L385.67,539.65 L386.57,539.98 L387.47,540.28 L388.37,540.53 L389.28,540.75 L390.18,540.92 L391.09,541.06 M340.71,519.90 L341.60,519.91 L342.51,520.03 L343.42,520.19 L344.32,520.39 L345.22,520.63 L346.12,520.91 L347.02,521.23 L347.93,521.59 L348.84,521.98 L349.75,522.41 L350.67,522.87 L351.59,523.37 L352.52,523.90 L353.46,524.46 L354.40,525.05 L355.35,525.67 L356.30,526.32 L357.26,526.99 L358.23,527.68 L359.20,528.39 L360.18,529.12 L361.16,529.87 L362.15,530.62 L363.15,531.39 L364.15,532.16 L365.15,532.93 L366.17,533.71 L367.18,534.48 L368.21,535.25 L369.23,536.01 L370.27,536.75 L371.31,537.49 L372.35,538.20 L373.40,538.89 L374.46,539.56 L375.52,540.21 L376.59,540.82 L377.67,541.40 L378.75,541.94 L379.84,542.45 L380.94,542.91 L382.04,543.33 L383.14,543.71 L384.25,544.03 L385.36,544.31 L386.47,544.53 L387.59,544.71 L388.70,544.82 L389.80,544.89 L390.91,544.89" fill="none" stroke="#1e1e1e" stroke-width="0.9"/><path d="M391.09,541.06 L391.70,541.12 L392.30,541.11 L392.40,544.88 L391.65,544.87 L390.91,544.89Z" fill="#f08a1e" stroke="#f08a1e" stroke-width="0.3"/><path d="M391.09,541.06 L391.70,541.12 L392.30,541.11 M390.91,544.89 L391.65,544.87 L392.40,544.88" fill="none" stroke="#1e1e1e" stroke-width="0.9"/><path d="M432.85,516.11 L433.97,516.11 L435.09,516.10 L436.22,516.15 L437.35,516.26 L438.48,516.44 L439.61,516.68 L440.74,516.98 L441.86,517.33 L442.98,517.74 L444.09,518.20 L445.19,518.71 L446.28,519.26 L447.37,519.85 L448.45,520.48 L449.51,521.14 L450.58,521.82 L451.63,522.53 L452.67,523.26 L453.71,524.00 L454.74,524.76 L455.76,525.51 L456.77,526.28 L457.78,527.04 L458.78,527.79 L459.77,528.54 L460.76,529.27 L461.73,529.98 L462.70,530.68 L463.66,531.35 L464.62,532.00 L465.56,532.61 L466.50,533.20 L467.42,533.75 L468.34,534.26 L469.25,534.74 L470.16,535.18 L471.06,535.58 L471.95,535.93 L472.84,536.25 L473.73,536.53 L474.62,536.76 L475.51,536.94 L476.41,537.08 L477.32,537.12 L477.38,540.87 L476.27,540.89 L475.15,540.90 L474.02,540.84 L472.89,540.72 L471.76,540.54 L470.63,540.29 L469.50,539.99 L468.38,539.63 L467.26,539.21 L466.15,538.75 L465.05,538.24 L463.96,537.68 L462.87,537.09 L461.80,536.46 L460.73,535.79 L459.67,535.11 L458.62,534.40 L457.58,533.67 L456.54,532.92 L455.51,532.17 L454.49,531.41 L453.48,530.65 L452.47,529.89 L451.47,529.13 L450.48,528.39 L449.50,527.66 L448.52,526.95 L447.55,526.25 L446.59,525.58 L445.64,524.94 L444.70,524.33 L443.76,523.75 L442.84,523.20 L441.92,522.69 L441.01,522.22 L440.10,521.78 L439.21,521.39 L438.31,521.03 L437.42,520.72 L436.53,520.45 L435.64,520.22 L434.75,520.04 L433.85,519.91 L432.95,519.90Z" fill="#8a8a8a" stroke="#8a8a8a" stroke-width="0.3"/><path d="M432.85,516.11 L433.97,516.11 L435.09,516.10 L436.22,516.15 L437.35,516.26 L438.48,516.44 L439.61,516.68 L440.74,516.98 L441.86,517.33 L442.98,517.74 L444.09,518.20 L445.19,518.71 L446.28,519.26 L447.37,519.85 L448.45,520.48 L449.51,521.14 L450.58,521.82 L451.63,522.53 L452.67,523.26 L453.71,524.00 L454.74,524.76 L455.76,525.51 L456.77,526.28 L457.78,527.04 L458.78,527.79 L459.77,528.54 L460.76,529.27 L461.73,529.98 L462.70,530.68 L463.66,531.35 L464.62,532.00 L465.56,532.61 L466.50,533.20 L467.42,533.75 L468.34,534.26 L469.25,534.74 L470.16,535.18 L471.06,535.58 L471.95,535.93 L472.84,536.25 L473.73,536.53 L474.62,536.76 L475.51,536.94 L476.41,537.08 L477.32,537.12 M432.95,519.90 L433.85,519.91 L434.75,520.04 L435.64,520.22 L436.53,520.45 L437.42,520.72 L438.31,521.03 L439.21,521.39 L440.10,521.78 L441.01,522.22 L441.92,522.69 L442.84,523.20 L443.76,523.75 L444.70,524.33 L445.64,524.94 L446.59,525.58 L447.55,526.25 L448.52,526.95 L449.50,527.66 L450.48,528.39 L451.47,529.13 L452.47,529.89 L453.48,530.65 L454.49,531.41 L455.51,532.17 L456.54,532.92 L457.58,533.67 L458.62,534.40 L459.67,535.11 L460.73,535.79 L461.80,536.46 L462.87,537.09 L463.96,537.68 L465.05,538.24 L466.15,538.75 L467.26,539.21 L468.38,539.63 L469.50,539.99 L470.63,540.29 L471.76,540.54 L472.89,540.72 L474.02,540.84 L475.15,540.90 L476.27,540.89 L477.38,540.87" fill="none" stroke="#1e1e1e" stroke-width="0.9"/><path d="M520.36,516.12 L521.50,516.09 L522.68,516.07 L523.88,516.18 L525.09,516.39 L526.29,516.72 L527.48,517.16 L528.65,517.70 L529.81,518.33 L530.95,519.06 L532.08,519.86 L533.18,520.73 L534.28,521.67 L535.35,522.67 L536.42,523.73 L537.47,524.83 L538.52,525.97 L539.55,527.14 L540.58,528.35 L541.59,529.57 L542.60,530.82 L543.60,532.07 L544.60,533.32 L545.59,534.57 L546.58,535.81 L547.55,537.03 L548.52,538.22 L549.49,539.39 L550.44,540.52 L551.38,541.61 L552.32,542.65 L553.24,543.64 L554.15,544.57 L555.05,545.44 L555.93,546.25 L556.79,546.99 L557.64,547.66 L558.47,548.26 L559.28,548.80 L560.07,549.27 L560.86,549.68 L561.64,550.03 L562.43,550.32 L563.23,550.54 L564.05,550.61 L564.15,554.39 L562.98,554.42 L561.80,554.42 L560.60,554.31 L559.39,554.08 L558.19,553.74 L557.00,553.29 L555.83,552.74 L554.67,552.10 L553.53,551.37 L552.41,550.56 L551.30,549.68 L550.21,548.73 L549.14,547.72 L548.07,546.67 L547.02,545.56 L545.98,544.42 L544.95,543.24 L543.92,542.03 L542.90,540.80 L541.90,539.56 L540.90,538.31 L539.90,537.05 L538.91,535.80 L537.92,534.57 L536.95,533.35 L535.98,532.16 L535.02,530.99 L534.07,529.87 L533.12,528.78 L532.19,527.75 L531.27,526.77 L530.36,525.84 L529.47,524.98 L528.59,524.18 L527.72,523.44 L526.88,522.78 L526.05,522.18 L525.24,521.65 L524.45,521.18 L523.66,520.78 L522.88,520.44 L522.09,520.16 L521.29,519.94 L520.44,519.89Z" fill="#8a8a8a" stroke="#8a8a8a" stroke-width="0.3"/><path d="M520.36,516.12 L521.50,516.09 L522.68,516.07 L523.88,516.18 L525.09,516.39 L526.29,516.72 L527.48,517.16 L528.65,517.70 L529.81,518.33 L530.95,519.06 L532.08,519.86 L533.18,520.73 L534.28,521.67 L535.35,522.67 L536.42,523.73 L537.47,524.83 L538.52,525.97 L539.55,527.14 L540.58,528.35 L541.59,529.57 L542.60,530.82 L543.60,532.07 L544.60,533.32 L545.59,534.57 L546.58,535.81 L547.55,537.03 L548.52,538.22 L549.49,539.39 L550.44,540.52 L551.38,541.61 L552.32,542.65 L553.24,543.64 L554.15,544.57 L555.05,545.44 L555.93,546.25 L556.79,546.99 L557.64,547.66 L558.47,548.26 L559.28,548.80 L560.07,549.27 L560.86,549.68 L561.64,550.03 L562.43,550.32 L563.23,550.54 L564.05,550.61 M520.44,519.89 L521.29,519.94 L522.09,520.16 L522.88,520.44 L523.66,520.78 L524.45,521.18 L525.24,521.65 L526.05,522.18 L526.88,522.78 L527.72,523.44 L528.59,524.18 L529.47,524.98 L530.36,525.84 L531.27,526.77 L532.19,527.75 L533.12,528.78 L534.07,529.87 L535.02,530.99 L535.98,532.16 L536.95,533.35 L537.92,534.57 L538.91,535.80 L539.90,537.05 L540.90,538.31 L541.90,539.56 L542.90,540.80 L543.92,542.03 L544.95,543.24 L545.98,544.42 L547.02,545.56 L548.07,546.67 L549.14,547.72 L550.21,548.73 L551.30,549.68 L552.41,550.56 L553.53,551.37 L554.67,552.10 L555.83,552.74 L557.00,553.29 L558.19,553.74 L559.39,554.08 L560.60,554.31 L561.80,554.42 L562.98,554.42 L564.15,554.39" fill="none" stroke="#1e1e1e" stroke-width="0.9"/><path d="M502.00,552.00 L502.99,551.83 L503.89,551.71 L504.75,551.58 L505.57,551.39 L505.63,553.61 L504.65,553.38 L503.71,553.08 L502.81,552.65 L502.00,552.00Z" fill="#8a8a8a" stroke="#8a8a8a" stroke-width="0.3"/><path d="M502.00,552.00 L502.99,551.83 L503.89,551.71 L504.75,551.58 L505.57,551.39 M502.00,552.00 L502.81,552.65 L503.71,553.08 L504.65,553.38 L505.63,553.61" fill="none" stroke="#1e1e1e" stroke-width="0.9"/><path d="M547.83,516.10 L549.00,516.09 L550.18,516.07 L551.38,516.18 L552.59,516.39 L553.79,516.72 L554.98,517.16 L556.15,517.70 L557.31,518.33 L558.45,519.06 L559.58,519.86 L560.68,520.73 L561.78,521.67 L562.85,522.67 L563.92,523.73 L564.97,524.83 L566.02,525.97 L567.05,527.14 L568.08,528.35 L569.09,529.57 L570.10,530.82 L571.10,532.07 L572.10,533.32 L573.09,534.57 L574.08,535.81 L575.05,537.03 L576.02,538.22 L576.99,539.39 L577.94,540.52 L578.88,541.61 L579.82,542.65 L580.74,543.64 L581.65,544.57 L582.55,545.44 L583.43,546.25 L584.29,546.99 L585.14,547.66 L585.97,548.26 L586.78,548.80 L587.57,549.27 L588.36,549.68 L589.14,550.03 L589.93,550.32 L590.73,550.54 L591.55,550.61 L591.65,554.39 L590.48,554.42 L589.30,554.42 L588.10,554.31 L586.89,554.08 L585.69,553.74 L584.50,553.29 L583.33,552.74 L582.17,552.10 L581.03,551.37 L579.91,550.56 L578.80,549.68 L577.71,548.73 L576.64,547.72 L575.57,546.67 L574.52,545.56 L573.48,544.42 L572.45,543.24 L571.42,542.03 L570.40,540.80 L569.40,539.56 L568.40,538.31 L567.40,537.05 L566.41,535.80 L565.42,534.57 L564.45,533.35 L563.48,532.16 L562.52,530.99 L561.57,529.87 L560.62,528.78 L559.69,527.75 L558.77,526.77 L557.86,525.84 L556.97,524.98 L556.09,524.18 L555.22,523.44 L554.38,522.78 L553.55,522.18 L552.74,521.65 L551.95,521.18 L551.16,520.78 L550.38,520.44 L549.59,520.16 L548.79,519.94 L547.97,519.91Z" fill="#8a8a8a" stroke="#8a8a8a" stroke-width="0.3"/><path d="M547.83,516.10 L549.00,516.09 L550.18,516.07 L551.38,516.18 L552.59,516.39 L553.79,516.72 L554.98,517.16 L556.15,517.70 L557.31,518.33 L558.45,519.06 L559.58,519.86 L560.68,520.73 L561.78,521.67 L562.85,522.67 L563.92,523.73 L564.97,524.83 L566.02,525.97 L567.05,527.14 L568.08,528.35 L569.09,529.57 L570.10,530.82 L571.10,532.07 L572.10,533.32 L573.09,534.57 L574.08,535.81 L575.05,537.03 L576.02,538.22 L576.99,539.39 L577.94,540.52 L578.88,541.61 L579.82,542.65 L580.74,543.64 L581.65,544.57 L582.55,545.44 L583.43,546.25 L584.29,546.99 L585.14,547.66 L585.97,548.26 L586.78,548.80 L587.57,549.27 L588.36,549.68 L589.14,550.03 L589.93,550.32 L590.73,550.54 L591.55,550.61 M547.97,519.91 L548.79,519.94 L549.59,520.16 L550.38,520.44 L551.16,520.78 L551.95,521.18 L552.74,521.65 L553.55,522.18 L554.38,522.78 L555.22,523.44 L556.09,524.18 L556.97,524.98 L557.86,525.84 L558.77,526.77 L559.69,527.75 L560.62,528.78 L561.57,529.87 L562.52,530.99 L563.48,532.16 L564.45,533.35 L565.42,534.57 L566.41,535.80 L567.40,537.05 L568.40,538.31 L569.40,539.56 L570.40,540.80 L571.42,542.03 L572.45,543.24 L573.48,544.42 L574.52,545.56 L575.57,546.67 L576.64,547.72 L577.71,548.73 L578.80,549.68 L579.91,550.56 L581.03,551.37 L582.17,552.10 L583.33,552.74 L584.50,553.29 L585.69,553.74 L586.89,554.08 L588.10,554.31 L589.30,554.42 L590.48,554.42 L591.65,554.39" fill="none" stroke="#1e1e1e" stroke-width="0.9"/>
<path d="M136.5,397.5 C131,402 130,410 131,416 C132,421 133,423 135,424" fill="none" stroke="#231815" stroke-width="1.15" />
<path d="M144.5,428.5 C148,436 152,442 162.5,441" fill="none" stroke="#231815" stroke-width="1.15" />
<path d="M157.3,422 C157,432 157,440 160,446 C164,452 175,451 177.5,444" fill="none" stroke="#231815" stroke-width="1.15" />
<path d="M183.3,403.5 C187,404 189,408 188.3,412" fill="none" stroke="#231815" stroke-width="1.15" />
<path d="M188.3,420 C189,428 190,434 195,437.5" fill="none" stroke="#231815" stroke-width="1.15" />
<path d="M147.5,395.5 C150,390 154,389 157.3,392.5" fill="none" stroke="#231815" stroke-width="1.15" />
<path d="M225,443 C245,440 262,443 273,449.5" fill="none" stroke="#231815" stroke-width="1.15" />
<path d="M285.5,452 C292,455 298,460 302,458.5 C305,456 307,454.5 310,456 C313,457.5 315,456 317,452 C318,450 319,449 320.5,448" fill="none" stroke="#231815" stroke-width="1.15" />
<path d="M330,440 C335,428 333,412 335,401" fill="none" stroke="#231815" stroke-width="1.15" />
<path d="M146.72,391.59 L135.72,394.09 L137.28,400.91 L148.28,398.41 L148.73,398.19 L149.09,397.75 L149.35,397.12 L149.48,396.34 L149.48,395.48 L149.34,394.58 L149.08,393.71 L148.71,392.93 L148.25,392.29 L147.75,391.83 L147.23,391.59 Z" fill="#ff2a2a" stroke="#231815" stroke-width="0.9"/>
<ellipse cx="136.50" cy="397.50" rx="3.50" ry="1.89" transform="rotate(-102.8 136.50 397.50)" fill="#ffffff" stroke="#231815" stroke-width="0.9"/>
<path d="M160.80,423.00 L160.80,392.50 L153.80,392.50 L153.80,423.00 L153.92,423.49 L154.27,423.94 L154.83,424.34 L155.55,424.64 L156.39,424.83 L157.30,424.89 L158.21,424.83 L159.05,424.64 L159.77,424.34 L160.33,423.94 L160.68,423.49 Z" fill="#ff2a2a" stroke="#231815" stroke-width="0.9"/>
<ellipse cx="157.30" cy="392.50" rx="3.50" ry="1.89" transform="rotate(0.0 157.30 392.50)" fill="#ffffff" stroke="#231815" stroke-width="0.9"/>
<path d="M132.81,426.07 L142.81,431.57 L146.19,425.43 L136.19,419.93 L135.70,419.80 L135.13,419.89 L134.52,420.19 L133.91,420.68 L133.34,421.33 L132.84,422.09 L132.46,422.91 L132.22,423.74 L132.14,424.52 L132.21,425.20 L132.44,425.73 Z" fill="#ff2a2a" stroke="#231815" stroke-width="0.9"/>
<ellipse cx="144.50" cy="428.50" rx="3.50" ry="1.89" transform="rotate(118.8 144.50 428.50)" fill="#ffffff" stroke="#231815" stroke-width="0.9"/>
<path d="M165.96,441.50 L186.76,405.50 L179.84,401.50 L159.04,437.50 L158.87,438.05 L158.96,438.70 L159.29,439.41 L159.83,440.12 L160.56,440.79 L161.42,441.37 L162.35,441.82 L163.30,442.12 L164.18,442.24 L164.96,442.17 L165.57,441.92 Z" fill="#ff2a2a" stroke="#231815" stroke-width="0.9"/>
<ellipse cx="183.30" cy="403.50" rx="4.00" ry="2.16" transform="rotate(30.0 183.30 403.50)" fill="#ffffff" stroke="#231815" stroke-width="0.9"/>
<path d="M181.50,444.50 L181.50,434.00 L173.50,434.00 L173.50,444.50 L173.64,445.06 L174.04,445.58 L174.67,446.03 L175.50,446.37 L176.46,446.59 L177.50,446.66 L178.54,446.59 L179.50,446.37 L180.33,446.03 L180.96,445.58 L181.36,445.06 Z" fill="#ff2a2a" stroke="#231815" stroke-width="0.9"/>
<ellipse cx="177.50" cy="434.00" rx="4.00" ry="2.16" transform="rotate(0.0 177.50 434.00)" fill="#ffffff" stroke="#231815" stroke-width="0.9"/>
<path d="M184.30,411.00 L184.30,420.00 L192.30,420.00 L192.30,411.00 L192.16,410.44 L191.76,409.92 L191.13,409.47 L190.30,409.13 L189.34,408.91 L188.30,408.84 L187.26,408.91 L186.30,409.13 L185.47,409.47 L184.84,409.92 L184.44,410.44 Z" fill="#ff2a2a" stroke="#231815" stroke-width="0.9"/>
<ellipse cx="188.30" cy="420.00" rx="4.00" ry="2.16" transform="rotate(180.0 188.30 420.00)" fill="#ffffff" stroke="#231815" stroke-width="0.9"/>
<path d="M192.69,440.42 L224.19,446.92 L225.81,439.08 L194.31,432.58 L193.73,432.60 L193.14,432.89 L192.58,433.42 L192.07,434.16 L191.67,435.06 L191.38,436.06 L191.25,437.09 L191.26,438.08 L191.43,438.96 L191.74,439.67 L192.17,440.17 Z" fill="#ff2a2a" stroke="#231815" stroke-width="0.9"/>
<ellipse cx="225.00" cy="443.00" rx="4.00" ry="2.16" transform="rotate(101.7 225.00 443.00)" fill="#ffffff" stroke="#231815" stroke-width="0.9"/>
<path d="M271.98,451.95 L283.78,455.55 L285.82,448.85 L274.02,445.25 L273.52,445.22 L272.98,445.43 L272.44,445.84 L271.95,446.45 L271.52,447.20 L271.19,448.05 L270.99,448.93 L270.92,449.80 L271.00,450.58 L271.21,451.22 L271.55,451.69 Z" fill="#fbdcc2" stroke="#231815" stroke-width="0.9"/>
<ellipse cx="284.80" cy="452.20" rx="3.50" ry="1.89" transform="rotate(107.0 284.80 452.20)" fill="#fbdcc2" stroke="#231815" stroke-width="0.9"/>
<path d="M323.43,450.35 L332.23,442.85 L327.37,437.15 L318.57,444.65 L318.25,445.08 L318.12,445.69 L318.19,446.41 L318.45,447.21 L318.88,448.03 L319.46,448.81 L320.14,449.51 L320.88,450.06 L321.63,450.45 L322.34,450.63 L322.95,450.60 Z" fill="#fbdcc2" stroke="#231815" stroke-width="0.9"/>
<ellipse cx="329.80" cy="440.00" rx="3.75" ry="2.03" transform="rotate(49.6 329.80 440.00)" fill="#fbdcc2" stroke="#231815" stroke-width="0.9"/>
<path d="M381,373 C378.5,369 380,364 384,364.5 C384.5,361 388.5,359.5 391,361.5 C392.5,359 396.5,359.5 397,362 C399.5,360.5 403.5,362.5 402,366 C404.5,368 403.5,372 400,372.5 L381,373 Z" fill="#fff" stroke="#231815" stroke-width="0.9"/>
<path d="M375.31,365.35 L371.91,412.35 L378.89,412.85 L382.29,365.85 L382.21,365.36 L381.89,364.88 L381.36,364.45 L380.66,364.09 L379.84,363.84 L378.94,363.71 L378.03,363.71 L377.17,363.84 L376.43,364.09 L375.84,364.44 L375.46,364.87 Z" fill="#f2a9da" stroke="#231815" stroke-width="0.9"/>
<ellipse cx="375.40" cy="412.60" rx="3.50" ry="1.89" transform="rotate(-175.9 375.40 412.60)" fill="#fbe3f2" stroke="#231815" stroke-width="0.9"/>
<path d="M337.42,402.44 L397.92,379.44 L395.08,371.96 L334.58,394.96 L334.10,395.29 L333.76,395.85 L333.57,396.60 L333.54,397.50 L333.68,398.47 L333.98,399.47 L334.42,400.41 L334.96,401.23 L335.58,401.89 L336.22,402.32 L336.85,402.51 Z" fill="#f2a9da" stroke="#231815" stroke-width="0.9"/>
<ellipse cx="396.50" cy="375.70" rx="4.00" ry="2.16" transform="rotate(69.2 396.50 375.70)" fill="#fbe3f2" stroke="#231815" stroke-width="0.9"/>
<path d="M402.89,413.19 L423.59,355.69 L417.01,353.31 L396.31,410.81 L396.25,411.32 L396.43,411.86 L396.82,412.42 L397.40,412.95 L398.13,413.41 L398.96,413.78 L399.83,414.02 L400.69,414.13 L401.48,414.10 L402.13,413.92 L402.62,413.61 Z" fill="#f2a9da" stroke="#231815" stroke-width="0.9"/>
<ellipse cx="420.30" cy="354.50" rx="3.50" ry="1.89" transform="rotate(19.8 420.30 354.50)" fill="#fbe3f2" stroke="#231815" stroke-width="0.9"/>
<path d="M375.4,413 C375,421 382,424 390,422 C396,420 399.5,417 399.6,412" fill="none" stroke="#231815" stroke-width="1.15" />
<path d="M377.3,375.5 L373.8,384.8 M385.7,384 V396.7 M396,381.5 V396.7 M406.5,375.3 V387.7" stroke="#000" stroke-width="2.8" fill="none"/>
<path d="M358.2,374.2 L367.3,370.6" stroke="#111" stroke-width="3.3" stroke-linecap="round"/>
<path d="M332.28,381.78 L333.34,382.65 L334.40,383.55 L335.45,384.47 L336.50,385.41 L337.54,386.38 L338.57,387.35 L339.60,388.34 L340.63,389.33 L341.65,390.33 L342.66,391.33 L343.67,392.33 L344.68,393.32 L345.68,394.30 L346.68,395.27 L347.67,396.22 L348.66,397.16 L349.64,398.07 L350.61,398.96 L351.58,399.82 L352.54,400.65 L353.50,401.45 L354.45,402.21 L355.39,402.94 L356.33,403.63 L357.25,404.28 L358.17,404.89 L359.08,405.45 L359.99,405.97 L360.80,406.66 L361.61,407.32 L362.44,407.95 L363.30,408.53 L364.18,409.06 L365.09,409.55 L366.03,410.00 L367.00,410.47 L367.00,410.47 L365.94,410.77 L364.86,410.93 L363.74,411.02 L362.59,411.04 L361.42,411.00 L360.22,410.89 L359.01,410.72 L357.79,410.46 L356.67,409.94 L355.55,409.36 L354.44,408.74 L353.34,408.06 L352.25,407.35 L351.16,406.59 L350.08,405.79 L349.01,404.96 L347.95,404.09 L346.89,403.20 L345.84,402.29 L344.79,401.35 L343.75,400.39 L342.71,399.42 L341.68,398.43 L340.65,397.44 L339.63,396.44 L338.61,395.44 L337.60,394.44 L336.59,393.45 L335.59,392.47 L334.59,391.49 L333.60,390.54 L332.61,389.60 L331.63,388.68 L330.65,387.78 L329.68,386.91 L328.72,386.07Z" fill="#fff000" stroke="#fff000" stroke-width="0.3"/><path d="M332.28,381.78 L333.34,382.65 L334.40,383.55 L335.45,384.47 L336.50,385.41 L337.54,386.38 L338.57,387.35 L339.60,388.34 L340.63,389.33 L341.65,390.33 L342.66,391.33 L343.67,392.33 L344.68,393.32 L345.68,394.30 L346.68,395.27 L347.67,396.22 L348.66,397.16 L349.64,398.07 L350.61,398.96 L351.58,399.82 L352.54,400.65 L353.50,401.45 L354.45,402.21 L355.39,402.94 L356.33,403.63 L357.25,404.28 L358.17,404.89 L359.08,405.45 L359.99,405.97 L360.80,406.66 L361.61,407.32 L362.44,407.95 L363.30,408.53 L364.18,409.06 L365.09,409.55 L366.03,410.00 L367.00,410.47 M328.72,386.07 L329.68,386.91 L330.65,387.78 L331.63,388.68 L332.61,389.60 L333.60,390.54 L334.59,391.49 L335.59,392.47 L336.59,393.45 L337.60,394.44 L338.61,395.44 L339.63,396.44 L340.65,397.44 L341.68,398.43 L342.71,399.42 L343.75,400.39 L344.79,401.35 L345.84,402.29 L346.89,403.20 L347.95,404.09 L349.01,404.96 L350.08,405.79 L351.16,406.59 L352.25,407.35 L353.34,408.06 L354.44,408.74 L355.55,409.36 L356.67,409.94 L357.79,410.46 L359.01,410.72 L360.22,410.89 L361.42,411.00 L362.59,411.04 L363.74,411.02 L364.86,410.93 L365.94,410.77 L367.00,410.47" fill="none" stroke="#1e1e1e" stroke-width="0.9"/>
<path d="M335.00,374.89 L336.29,374.49 L337.58,374.22 L338.88,374.09 L340.15,374.08 L341.38,374.13 L341.32,377.88 L340.41,377.97 L339.54,378.21 L338.70,378.52 L337.85,378.91 L337.00,379.36Z" fill="#fff000" stroke="#fff000" stroke-width="0.3"/><path d="M335.00,374.89 L336.29,374.49 L337.58,374.22 L338.88,374.09 L340.15,374.08 L341.38,374.13 M337.00,379.36 L337.85,378.91 L338.70,378.52 L339.54,378.21 L340.41,377.97 L341.32,377.88" fill="none" stroke="#1e1e1e" stroke-width="0.9"/><path d="M391.68,399.12 L392.57,399.07 L393.43,398.89 L394.28,398.65 L395.12,398.36 L395.97,398.01 L396.82,397.61 L397.67,397.16 L398.54,396.66 L399.42,396.10 L400.31,395.49 L401.22,394.84 L402.14,394.13 L403.07,393.38 L404.01,392.59 L404.96,391.75 L405.92,390.89 L406.90,390.00 L407.88,389.08 L408.87,388.14 L409.87,387.19 L410.87,386.23 L411.89,385.27 L412.91,384.32 L413.95,383.37 L414.99,382.43 L416.04,381.52 L417.10,380.63 L418.17,379.78 L419.25,378.96 L420.34,378.19 L421.45,377.47 L422.57,376.80 L423.70,376.19 L424.84,375.65 L426.00,375.18 L427.16,374.79 L428.33,374.48 L429.67,378.84 L428.82,379.22 L427.96,379.65 L427.10,380.14 L426.23,380.67 L425.34,381.26 L424.44,381.90 L423.52,382.59 L422.60,383.32 L421.66,384.10 L420.71,384.91 L419.76,385.77 L418.79,386.65 L417.81,387.56 L416.82,388.49 L415.83,389.43 L414.82,390.39 L413.81,391.35 L412.79,392.31 L411.76,393.26 L410.72,394.20 L409.68,395.12 L408.62,396.02 L407.56,396.89 L406.48,397.72 L405.39,398.51 L404.29,399.26 L403.17,399.95 L402.05,400.58 L400.91,401.15 L399.76,401.65 L398.60,402.07 L397.43,402.41 L396.25,402.66 L395.08,402.83 L393.91,402.91 L392.75,402.90 L391.62,402.87Z" fill="#f08a1e" stroke="#f08a1e" stroke-width="0.3"/><path d="M391.68,399.12 L392.57,399.07 L393.43,398.89 L394.28,398.65 L395.12,398.36 L395.97,398.01 L396.82,397.61 L397.67,397.16 L398.54,396.66 L399.42,396.10 L400.31,395.49 L401.22,394.84 L402.14,394.13 L403.07,393.38 L404.01,392.59 L404.96,391.75 L405.92,390.89 L406.90,390.00 L407.88,389.08 L408.87,388.14 L409.87,387.19 L410.87,386.23 L411.89,385.27 L412.91,384.32 L413.95,383.37 L414.99,382.43 L416.04,381.52 L417.10,380.63 L418.17,379.78 L419.25,378.96 L420.34,378.19 L421.45,377.47 L422.57,376.80 L423.70,376.19 L424.84,375.65 L426.00,375.18 L427.16,374.79 L428.33,374.48 M391.62,402.87 L392.75,402.90 L393.91,402.91 L395.08,402.83 L396.25,402.66 L397.43,402.41 L398.60,402.07 L399.76,401.65 L400.91,401.15 L402.05,400.58 L403.17,399.95 L404.29,399.26 L405.39,398.51 L406.48,397.72 L407.56,396.89 L408.62,396.02 L409.68,395.12 L410.72,394.20 L411.76,393.26 L412.79,392.31 L413.81,391.35 L414.82,390.39 L415.83,389.43 L416.82,388.49 L417.81,387.56 L418.79,386.65 L419.76,385.77 L420.71,384.91 L421.66,384.10 L422.60,383.32 L423.52,382.59 L424.44,381.90 L425.34,381.26 L426.23,380.67 L427.10,380.14 L427.96,379.65 L428.82,379.22 L429.67,378.84" fill="none" stroke="#1e1e1e" stroke-width="0.9"/><path d="M428.33,374.48 L429.40,374.28 L430.47,374.14 L431.54,374.09 L432.59,374.10 L433.63,374.13 L433.57,377.88 L432.77,377.93 L431.98,378.09 L431.21,378.29 L430.44,378.55 L429.67,378.84Z" fill="#8a8a8a" stroke="#8a8a8a" stroke-width="0.3"/><path d="M428.33,374.48 L429.40,374.28 L430.47,374.14 L431.54,374.09 L432.59,374.10 L433.63,374.13 M429.67,378.84 L430.44,378.55 L431.21,378.29 L431.98,378.09 L432.77,377.93 L433.57,377.88" fill="none" stroke="#1e1e1e" stroke-width="0.9"/><path d="M340.59,374.11 L341.72,374.12 L342.82,374.11 L343.93,374.15 L345.04,374.25 L346.15,374.40 L347.26,374.61 L348.37,374.87 L349.48,375.18 L350.59,375.53 L351.69,375.94 L352.79,376.39 L353.88,376.88 L354.96,377.41 L356.04,377.98 L357.11,378.58 L358.18,379.21 L359.24,379.88 L360.29,380.56 L361.34,381.27 L362.38,381.99 L363.42,382.74 L364.45,383.49 L365.47,384.26 L366.49,385.03 L367.50,385.80 L368.51,386.58 L369.51,387.35 L370.51,388.12 L371.50,388.88 L372.49,389.63 L373.47,390.36 L374.44,391.08 L375.41,391.78 L376.37,392.46 L377.33,393.11 L378.28,393.74 L379.22,394.34 L380.16,394.91 L381.09,395.45 L382.02,395.96 L382.94,396.44 L383.85,396.88 L384.76,397.28 L385.67,397.65 L386.57,397.98 L387.47,398.28 L388.37,398.53 L389.28,398.75 L390.18,398.92 L391.09,399.06 L390.91,402.89 L389.80,402.89 L388.70,402.82 L387.59,402.71 L386.47,402.53 L385.36,402.31 L384.25,402.03 L383.14,401.71 L382.04,401.33 L380.94,400.91 L379.84,400.45 L378.75,399.94 L377.67,399.40 L376.59,398.82 L375.52,398.21 L374.46,397.56 L373.40,396.89 L372.35,396.20 L371.31,395.49 L370.27,394.75 L369.23,394.01 L368.21,393.25 L367.18,392.48 L366.17,391.71 L365.15,390.93 L364.15,390.16 L363.15,389.39 L362.15,388.62 L361.16,387.87 L360.18,387.12 L359.20,386.39 L358.23,385.68 L357.26,384.99 L356.30,384.32 L355.35,383.67 L354.40,383.05 L353.46,382.46 L352.52,381.90 L351.59,381.37 L350.67,380.87 L349.75,380.41 L348.84,379.98 L347.93,379.59 L347.02,379.23 L346.12,378.91 L345.22,378.63 L344.32,378.39 L343.42,378.19 L342.51,378.03 L341.60,377.91 L340.71,377.90Z" fill="#fff000" stroke="#fff000" stroke-width="0.3"/><path d="M340.59,374.11 L341.72,374.12 L342.82,374.11 L343.93,374.15 L345.04,374.25 L346.15,374.40 L347.26,374.61 L348.37,374.87 L349.48,375.18 L350.59,375.53 L351.69,375.94 L352.79,376.39 L353.88,376.88 L354.96,377.41 L356.04,377.98 L357.11,378.58 L358.18,379.21 L359.24,379.88 L360.29,380.56 L361.34,381.27 L362.38,381.99 L363.42,382.74 L364.45,383.49 L365.47,384.26 L366.49,385.03 L367.50,385.80 L368.51,386.58 L369.51,387.35 L370.51,388.12 L371.50,388.88 L372.49,389.63 L373.47,390.36 L374.44,391.08 L375.41,391.78 L376.37,392.46 L377.33,393.11 L378.28,393.74 L379.22,394.34 L380.16,394.91 L381.09,395.45 L382.02,395.96 L382.94,396.44 L383.85,396.88 L384.76,397.28 L385.67,397.65 L386.57,397.98 L387.47,398.28 L388.37,398.53 L389.28,398.75 L390.18,398.92 L391.09,399.06 M340.71,377.90 L341.60,377.91 L342.51,378.03 L343.42,378.19 L344.32,378.39 L345.22,378.63 L346.12,378.91 L347.02,379.23 L347.93,379.59 L348.84,379.98 L349.75,380.41 L350.67,380.87 L351.59,381.37 L352.52,381.90 L353.46,382.46 L354.40,383.05 L355.35,383.67 L356.30,384.32 L357.26,384.99 L358.23,385.68 L359.20,386.39 L360.18,387.12 L361.16,387.87 L362.15,388.62 L363.15,389.39 L364.15,390.16 L365.15,390.93 L366.17,391.71 L367.18,392.48 L368.21,393.25 L369.23,394.01 L370.27,394.75 L371.31,395.49 L372.35,396.20 L373.40,396.89 L374.46,397.56 L375.52,398.21 L376.59,398.82 L377.67,399.40 L378.75,399.94 L379.84,400.45 L380.94,400.91 L382.04,401.33 L383.14,401.71 L384.25,402.03 L385.36,402.31 L386.47,402.53 L387.59,402.71 L388.70,402.82 L389.80,402.89 L390.91,402.89" fill="none" stroke="#1e1e1e" stroke-width="0.9"/><path d="M391.09,399.06 L391.70,399.12 L392.30,399.11 L392.40,402.88 L391.65,402.87 L390.91,402.89Z" fill="#f08a1e" stroke="#f08a1e" stroke-width="0.3"/><path d="M391.09,399.06 L391.70,399.12 L392.30,399.11 M390.91,402.89 L391.65,402.87 L392.40,402.88" fill="none" stroke="#1e1e1e" stroke-width="0.9"/><path d="M432.85,374.11 L434.00,374.11 L435.14,374.10 L436.30,374.16 L435.70,378.24 L434.79,378.05 L433.87,377.91 L432.95,377.90Z" fill="#8a8a8a" stroke="#8a8a8a" stroke-width="0.3"/><path d="M432.85,374.11 L434.00,374.11 L435.14,374.10 L436.30,374.16 M432.95,377.90 L433.87,377.91 L434.79,378.05 L435.70,378.24" fill="none" stroke="#1e1e1e" stroke-width="0.9"/>
<path d="M427.5,375.7 V362.7 M443.3,377.1 V364.1 M455.5,385.2 V372.2 M465.5,392.1 V379.1 M477.8,395.5 V382.5 M489.2,391.8 V378.8 M500.2,384.0 V371.0 M512.5,376.3 V363.3" stroke="#231815" stroke-width="1.3" fill="none"/>
<path d="M424.5,409.8 L418.3,395.3 M422.64,398.34 L418.3,395.3 L417.49,400.54" fill="none" stroke="#231815" stroke-width="1"/>
<text x="332.3" y="376.2" font-size="12.5" fill="#e4007f" stroke="#e4007f" stroke-width="0.12">C</text>
<path d="M340.6,373.3 H344.3" stroke="#231815" stroke-width="1.6"/>
<text x="344.5" y="376.2" font-size="12.5" fill="#e4007f" stroke="#e4007f" stroke-width="0.12">G</text>
<text x="354.6" y="383.6" font-size="12.5" fill="#1f8ad0" stroke="#1f8ad0" stroke-width="0.12">W</text>
<text x="368.3" y="394.9" font-size="12.5" fill="#e4007f" stroke="#e4007f" stroke-width="0.12">A</text>
<path d="M400.5,349 C394,345 394,333 403,329.5 C412,326.5 424,331 424,341 C424,347 422.5,351 420.3,354" fill="none" stroke="#231815" stroke-width="1.15" />
<path d="M398.21,351.81 L419.91,364.71 L423.49,358.69 L401.79,345.79 L401.31,345.64 L400.74,345.71 L400.12,345.99 L399.49,346.46 L398.89,347.09 L398.38,347.83 L397.97,348.65 L397.70,349.47 L397.59,350.24 L397.64,350.92 L397.85,351.46 Z" fill="#c8ffc8" stroke="#231815" stroke-width="0.9"/>
<ellipse cx="421.70" cy="361.70" rx="3.50" ry="1.89" transform="rotate(120.7 421.70 361.70)" fill="#e3fbe5" stroke="#231815" stroke-width="0.9"/>
<ellipse cx="420.3" cy="354.5" rx="3.5" ry="2.2" transform="rotate(-70 420.3 354.5)" fill="#fbe3f2" stroke="#231815" stroke-width="0.9"/>
<path d="M160,539.5 C168,541 173,551 168,559 C167,561 166,563 165,563.7" fill="none" stroke="#231815" stroke-width="1.15" />
<path d="M146,572 C142,578 144,584 148.3,586.7" fill="none" stroke="#231815" stroke-width="1.15" />
<path d="M168.3,591.5 C200,594 235,580 261.7,585" fill="none" stroke="#231815" stroke-width="1.15" />
<path d="M154.22,573.46 L138.42,538.46 L131.58,541.54 L147.38,576.54 L147.71,576.97 L148.26,577.26 L148.97,577.40 L149.81,577.37 L150.72,577.18 L151.63,576.85 L152.49,576.38 L153.23,575.83 L153.81,575.21 L154.18,574.59 L154.32,573.99 Z" fill="#9be9e3" stroke="#231815" stroke-width="0.9"/>
<ellipse cx="135.00" cy="540.00" rx="3.75" ry="2.03" transform="rotate(-24.3 135.00 540.00)" fill="#e6fbf9" stroke="#231815" stroke-width="0.9"/>
<path d="M144.35,539.94 L158.55,542.64 L159.85,535.76 L145.65,533.06 L145.15,533.09 L144.64,533.35 L144.15,533.82 L143.72,534.48 L143.38,535.27 L143.14,536.15 L143.04,537.05 L143.07,537.91 L143.22,538.68 L143.51,539.30 L143.89,539.73 Z" fill="#9be9e3" stroke="#231815" stroke-width="0.9"/>
<ellipse cx="159.20" cy="539.20" rx="3.50" ry="1.89" transform="rotate(100.8 159.20 539.20)" fill="#9be9e3" stroke="#231815" stroke-width="0.9"/>
<path d="M152.12,568.77 L165.42,567.17 L164.58,560.23 L151.28,561.83 L150.81,562.00 L150.40,562.40 L150.08,563.00 L149.87,563.76 L149.78,564.62 L149.82,565.53 L150.00,566.42 L150.28,567.23 L150.67,567.92 L151.12,568.42 L151.62,568.71 Z" fill="#9be9e3" stroke="#231815" stroke-width="0.9"/>
<ellipse cx="165.00" cy="563.70" rx="3.50" ry="1.89" transform="rotate(83.1 165.00 563.70)" fill="#9be9e3" stroke="#231815" stroke-width="0.9"/>
<path d="M147.33,590.58 L167.33,595.58 L169.27,587.82 L149.27,582.82 L148.69,582.82 L148.09,583.08 L147.50,583.59 L146.97,584.31 L146.53,585.19 L146.20,586.18 L146.02,587.20 L146.00,588.19 L146.13,589.07 L146.41,589.80 L146.82,590.31 Z" fill="#9be9e3" stroke="#231815" stroke-width="0.9"/>
<ellipse cx="168.30" cy="591.70" rx="4.00" ry="2.16" transform="rotate(104.0 168.30 591.70)" fill="#9be9e3" stroke="#231815" stroke-width="0.9"/>
<text x="126.5" y="584.2" font-size="10.5" fill="#000" stroke="#000" stroke-width="0.12">&#963;</text>
<text x="133.2" y="587.6" font-size="7.5" fill="#000" stroke="#000" stroke-width="0.12">4</text>
<path d="M260.57,588.58 L273.87,592.78 L276.13,585.62 L262.83,581.42 L262.29,581.39 L261.71,581.60 L261.13,582.04 L260.59,582.68 L260.13,583.49 L259.77,584.39 L259.54,585.34 L259.46,586.26 L259.54,587.10 L259.76,587.79 L260.11,588.30 Z" fill="#fbdcc2" stroke="#231815" stroke-width="0.9"/>
<ellipse cx="275.00" cy="589.20" rx="3.75" ry="2.03" transform="rotate(107.5 275.00 589.20)" fill="#fbdcc2" stroke="#231815" stroke-width="0.9"/>
<text x="247.3" y="592.5" font-size="10.5" fill="#000" stroke="#000" stroke-width="0.12">&#963;</text>
<text x="254.8" y="596.8" font-size="7" fill="#000" stroke="#000" stroke-width="0.12">3.2</text>
<path d="M275.5,590 C284,592 288,598 294,596 C298,594 301,592 303,589 C305,586 303,584 301,585" fill="none" stroke="#231815" stroke-width="1.15" />
<circle cx="277.5" cy="604.2" r="2.6" fill="#f6dcef" stroke="#a3308f" stroke-width="1.6"/>
<text x="287.6" y="608.8" font-size="11.5" fill="#000" stroke="#000" stroke-width="0.12">Mg<tspan font-size="7.5" dy="-4.5">2+</tspan></text>
<text x="247.3" y="570.8" font-size="10.5" fill="#000" stroke="#000" stroke-width="0.12">&#963;</text>
<text x="254.8" y="575" font-size="7" fill="#000" stroke="#000" stroke-width="0.12">3.0</text>
<text x="264.8" y="570.8" font-size="12" fill="#000" stroke="#000" stroke-width="0.12">&amp;</text>
<text x="273.2" y="570.8" font-size="10.5" fill="#000" stroke="#000" stroke-width="0.12">&#963;</text>
<text x="280.7" y="575" font-size="7" fill="#000" stroke="#000" stroke-width="0.12">3.1</text>
<path d="M288.5,563.3 L297,563.3 M293.00,565.80 L297,563.3 L293.00,560.80" fill="none" stroke="#231815" stroke-width="1"/>
<path d="M275.8,515 L290.8,530.8 M285.67,529.46 L290.8,530.8 L289.73,525.61" fill="none" stroke="#231815" stroke-width="1"/>
<path d="M301.7,573 C306,572.5 314,574 322,575 C330,576 338,577.5 343,572 C346,567 345,559 342,552 C340,548 338,546 336.5,544" fill="none" stroke="#231815" stroke-width="1.15" />
<path d="M299.5,558.5 L301.7,572.7" fill="none" stroke="#231815" stroke-width="1.25" stroke-dasharray="1.6,1.4"/>
<path d="M310,548 C312,560 318,570 326,570 C330,570 333,569 334,568" fill="none" stroke="#231815" stroke-width="1.25" stroke-dasharray="1.6,1.4"/>
<path d="M323.5,531 L340,556 M326.5,530 L342.5,554" fill="none" stroke="#231815" stroke-width="1.25" stroke-dasharray="1.6,1.4"/>
<path d="M302.42,557.30 L308.02,552.70 L303.58,547.30 L297.98,551.90 L297.68,552.30 L297.55,552.86 L297.60,553.54 L297.82,554.29 L298.21,555.06 L298.74,555.80 L299.36,556.46 L300.05,556.99 L300.74,557.36 L301.39,557.54 L301.97,557.52 Z" fill="#fbdcc2" stroke="#231815" stroke-width="0.9"/>
<ellipse cx="305.80" cy="550.00" rx="3.50" ry="1.89" transform="rotate(50.6 305.80 550.00)" fill="#fbdcc2" stroke="#231815" stroke-width="0.9"/>
<path d="M336.40,561.58 L323.70,533.08 L317.30,535.92 L330.00,564.42 L330.31,564.82 L330.82,565.10 L331.48,565.23 L332.27,565.21 L333.12,565.04 L333.97,564.73 L334.77,564.30 L335.46,563.78 L336.00,563.21 L336.35,562.63 L336.49,562.07 Z" fill="#fbdcc2" stroke="#231815" stroke-width="0.9"/>
<ellipse cx="320.50" cy="534.50" rx="3.50" ry="1.89" transform="rotate(-24.0 320.50 534.50)" fill="#fdf0e6" stroke="#231815" stroke-width="0.9"/>
<path d="M317.99,568.02 L324.79,565.52 L322.21,558.48 L315.41,560.98 L314.96,561.28 L314.63,561.80 L314.44,562.51 L314.41,563.35 L314.53,564.26 L314.80,565.20 L315.20,566.09 L315.70,566.86 L316.27,567.48 L316.87,567.90 L317.46,568.08 Z" fill="#fbdcc2" stroke="#231815" stroke-width="0.9"/>
<ellipse cx="323.50" cy="562.00" rx="3.75" ry="2.03" transform="rotate(69.8 323.50 562.00)" fill="#fbdcc2" stroke="#231815" stroke-width="0.9"/>
<path d="M300,576 L304,577 L301.5,584 L303.5,584.5 L298.5,589 L296.5,582.5 L298.5,583 Z" fill="#fbdcc2" stroke="#231815" stroke-width="0.8"/>
<text x="371.8" y="490.2" font-size="10.5" fill="#000" stroke="#000" stroke-width="0.12">&#963;</text>
<text x="378.8" y="494.8" font-size="7.5" fill="#000" stroke="#000" stroke-width="0.12">2</text>
<path d="M381,515.0 C378.5,511.0 380,506.0 384,506.5 C384.5,503.0 388.5,501.5 391,503.5 C392.5,501.0 396.5,501.5 397,504.0 C399.5,502.5 403.5,504.5 402,508.0 C404.5,510.0 403.5,514.0 400,514.5 L381,515.0 Z" fill="#fff" stroke="#231815" stroke-width="0.9"/>
<path d="M375.31,507.35 L371.91,554.35 L378.89,554.85 L382.29,507.85 L382.21,507.36 L381.89,506.88 L381.36,506.45 L380.66,506.09 L379.84,505.84 L378.94,505.71 L378.03,505.71 L377.17,505.84 L376.43,506.09 L375.84,506.44 L375.46,506.87 Z" fill="#f2a9da" stroke="#231815" stroke-width="0.9"/>
<ellipse cx="375.40" cy="554.60" rx="3.50" ry="1.89" transform="rotate(-175.9 375.40 554.60)" fill="#fbe3f2" stroke="#231815" stroke-width="0.9"/>
<path d="M337.42,544.44 L397.92,521.44 L395.08,513.96 L334.58,536.96 L334.10,537.29 L333.76,537.85 L333.57,538.60 L333.54,539.50 L333.68,540.47 L333.98,541.47 L334.42,542.41 L334.96,543.23 L335.58,543.89 L336.22,544.32 L336.85,544.51 Z" fill="#f2a9da" stroke="#231815" stroke-width="0.9"/>
<ellipse cx="396.50" cy="517.70" rx="4.00" ry="2.16" transform="rotate(69.2 396.50 517.70)" fill="#fbe3f2" stroke="#231815" stroke-width="0.9"/>
<path d="M402.89,555.19 L423.59,497.69 L417.01,495.31 L396.31,552.81 L396.25,553.32 L396.43,553.86 L396.82,554.42 L397.40,554.95 L398.13,555.41 L398.96,555.78 L399.83,556.02 L400.69,556.13 L401.48,556.10 L402.13,555.92 L402.62,555.61 Z" fill="#f2a9da" stroke="#231815" stroke-width="0.9"/>
<ellipse cx="420.30" cy="496.50" rx="3.50" ry="1.89" transform="rotate(19.8 420.30 496.50)" fill="#fbe3f2" stroke="#231815" stroke-width="0.9"/>
<path d="M375.4,555.0 C375,563.0 382,566.0 390,564.0 C396,562.0 399.5,559.0 399.6,554.0" fill="none" stroke="#231815" stroke-width="1.15" />
<path d="M377.4,517.7 L372.9,530.3 M382.8,543.7 V554.5 M392.6,543.7 V556 M404.3,537 V553" stroke="#000" stroke-width="2.8" fill="none"/>
<path d="M357.5,516.5 L367,512.3" stroke="#1e9ad6" stroke-width="3.2" stroke-linecap="round"/>
<path d="M332.28,523.78 L333.34,524.65 L334.40,525.55 L335.45,526.47 L336.50,527.41 L337.54,528.38 L338.57,529.35 L339.60,530.34 L340.63,531.33 L341.65,532.33 L342.66,533.33 L343.67,534.33 L344.68,535.32 L345.68,536.30 L346.68,537.27 L347.67,538.22 L348.66,539.16 L349.64,540.07 L350.61,540.96 L351.58,541.82 L352.54,542.65 L353.50,543.45 L354.45,544.21 L355.39,544.94 L356.33,545.63 L357.25,546.28 L358.17,546.89 L359.08,547.45 L359.99,547.97 L360.80,548.66 L361.61,549.32 L362.44,549.95 L363.30,550.53 L364.18,551.06 L365.09,551.55 L366.03,552.00 L367.00,552.47 L367.00,552.47 L365.94,552.77 L364.86,552.93 L363.74,553.02 L362.59,553.04 L361.42,553.00 L360.22,552.89 L359.01,552.72 L357.79,552.46 L356.67,551.94 L355.55,551.36 L354.44,550.74 L353.34,550.06 L352.25,549.35 L351.16,548.59 L350.08,547.79 L349.01,546.96 L347.95,546.09 L346.89,545.20 L345.84,544.29 L344.79,543.35 L343.75,542.39 L342.71,541.42 L341.68,540.43 L340.65,539.44 L339.63,538.44 L338.61,537.44 L337.60,536.44 L336.59,535.45 L335.59,534.47 L334.59,533.49 L333.60,532.54 L332.61,531.60 L331.63,530.68 L330.65,529.78 L329.68,528.91 L328.72,528.07Z" fill="#fff000" stroke="#fff000" stroke-width="0.3"/><path d="M332.28,523.78 L333.34,524.65 L334.40,525.55 L335.45,526.47 L336.50,527.41 L337.54,528.38 L338.57,529.35 L339.60,530.34 L340.63,531.33 L341.65,532.33 L342.66,533.33 L343.67,534.33 L344.68,535.32 L345.68,536.30 L346.68,537.27 L347.67,538.22 L348.66,539.16 L349.64,540.07 L350.61,540.96 L351.58,541.82 L352.54,542.65 L353.50,543.45 L354.45,544.21 L355.39,544.94 L356.33,545.63 L357.25,546.28 L358.17,546.89 L359.08,547.45 L359.99,547.97 L360.80,548.66 L361.61,549.32 L362.44,549.95 L363.30,550.53 L364.18,551.06 L365.09,551.55 L366.03,552.00 L367.00,552.47 M328.72,528.07 L329.68,528.91 L330.65,529.78 L331.63,530.68 L332.61,531.60 L333.60,532.54 L334.59,533.49 L335.59,534.47 L336.59,535.45 L337.60,536.44 L338.61,537.44 L339.63,538.44 L340.65,539.44 L341.68,540.43 L342.71,541.42 L343.75,542.39 L344.79,543.35 L345.84,544.29 L346.89,545.20 L347.95,546.09 L349.01,546.96 L350.08,547.79 L351.16,548.59 L352.25,549.35 L353.34,550.06 L354.44,550.74 L355.55,551.36 L356.67,551.94 L357.79,552.46 L359.01,552.72 L360.22,552.89 L361.42,553.00 L362.59,553.04 L363.74,553.02 L364.86,552.93 L365.94,552.77 L367.00,552.47" fill="none" stroke="#1e1e1e" stroke-width="0.9"/>
<path d="M335.00,516.89 L336.29,516.49 L337.58,516.22 L338.88,516.09 L340.15,516.08 L341.38,516.13 L341.32,519.88 L340.41,519.97 L339.54,520.21 L338.70,520.52 L337.85,520.91 L337.00,521.36Z" fill="#fff000" stroke="#fff000" stroke-width="0.3"/><path d="M335.00,516.89 L336.29,516.49 L337.58,516.22 L338.88,516.09 L340.15,516.08 L341.38,516.13 M337.00,521.36 L337.85,520.91 L338.70,520.52 L339.54,520.21 L340.41,519.97 L341.32,519.88" fill="none" stroke="#1e1e1e" stroke-width="0.9"/><path d="M391.68,541.12 L392.57,541.07 L393.43,540.89 L394.28,540.65 L395.12,540.36 L395.97,540.01 L396.82,539.61 L397.67,539.16 L398.54,538.66 L399.42,538.10 L400.31,537.49 L401.22,536.84 L402.14,536.13 L403.07,535.38 L404.01,534.59 L404.96,533.75 L405.92,532.89 L406.90,532.00 L407.88,531.08 L408.87,530.14 L409.87,529.19 L410.87,528.23 L411.89,527.27 L412.91,526.32 L413.95,525.37 L414.99,524.43 L416.04,523.52 L417.10,522.63 L418.17,521.78 L419.25,520.96 L420.34,520.19 L421.45,519.47 L422.57,518.80 L423.70,518.19 L424.84,517.65 L426.00,517.18 L427.16,516.79 L428.33,516.48 L429.67,520.84 L428.82,521.22 L427.96,521.65 L427.10,522.14 L426.23,522.67 L425.34,523.26 L424.44,523.90 L423.52,524.59 L422.60,525.32 L421.66,526.10 L420.71,526.91 L419.76,527.77 L418.79,528.65 L417.81,529.56 L416.82,530.49 L415.83,531.43 L414.82,532.39 L413.81,533.35 L412.79,534.31 L411.76,535.26 L410.72,536.20 L409.68,537.12 L408.62,538.02 L407.56,538.89 L406.48,539.72 L405.39,540.51 L404.29,541.26 L403.17,541.95 L402.05,542.58 L400.91,543.15 L399.76,543.65 L398.60,544.07 L397.43,544.41 L396.25,544.66 L395.08,544.83 L393.91,544.91 L392.75,544.90 L391.62,544.87Z" fill="#f08a1e" stroke="#f08a1e" stroke-width="0.3"/><path d="M391.68,541.12 L392.57,541.07 L393.43,540.89 L394.28,540.65 L395.12,540.36 L395.97,540.01 L396.82,539.61 L397.67,539.16 L398.54,538.66 L399.42,538.10 L400.31,537.49 L401.22,536.84 L402.14,536.13 L403.07,535.38 L404.01,534.59 L404.96,533.75 L405.92,532.89 L406.90,532.00 L407.88,531.08 L408.87,530.14 L409.87,529.19 L410.87,528.23 L411.89,527.27 L412.91,526.32 L413.95,525.37 L414.99,524.43 L416.04,523.52 L417.10,522.63 L418.17,521.78 L419.25,520.96 L420.34,520.19 L421.45,519.47 L422.57,518.80 L423.70,518.19 L424.84,517.65 L426.00,517.18 L427.16,516.79 L428.33,516.48 M391.62,544.87 L392.75,544.90 L393.91,544.91 L395.08,544.83 L396.25,544.66 L397.43,544.41 L398.60,544.07 L399.76,543.65 L400.91,543.15 L402.05,542.58 L403.17,541.95 L404.29,541.26 L405.39,540.51 L406.48,539.72 L407.56,538.89 L408.62,538.02 L409.68,537.12 L410.72,536.20 L411.76,535.26 L412.79,534.31 L413.81,533.35 L414.82,532.39 L415.83,531.43 L416.82,530.49 L417.81,529.56 L418.79,528.65 L419.76,527.77 L420.71,526.91 L421.66,526.10 L422.60,525.32 L423.52,524.59 L424.44,523.90 L425.34,523.26 L426.23,522.67 L427.10,522.14 L427.96,521.65 L428.82,521.22 L429.67,520.84" fill="none" stroke="#1e1e1e" stroke-width="0.9"/><path d="M428.33,516.48 L429.40,516.28 L430.47,516.14 L431.54,516.09 L432.59,516.10 L433.63,516.13 L433.57,519.88 L432.77,519.93 L431.98,520.09 L431.21,520.29 L430.44,520.55 L429.67,520.84Z" fill="#8a8a8a" stroke="#8a8a8a" stroke-width="0.3"/><path d="M428.33,516.48 L429.40,516.28 L430.47,516.14 L431.54,516.09 L432.59,516.10 L433.63,516.13 M429.67,520.84 L430.44,520.55 L431.21,520.29 L431.98,520.09 L432.77,519.93 L433.57,519.88" fill="none" stroke="#1e1e1e" stroke-width="0.9"/><path d="M340.59,516.11 L341.72,516.12 L342.82,516.11 L343.93,516.15 L345.04,516.25 L346.15,516.40 L347.26,516.61 L348.37,516.87 L349.48,517.18 L350.59,517.53 L351.69,517.94 L352.79,518.39 L353.88,518.88 L354.96,519.41 L356.04,519.98 L357.11,520.58 L358.18,521.21 L359.24,521.88 L360.29,522.56 L361.34,523.27 L362.38,523.99 L363.42,524.74 L364.45,525.49 L365.47,526.26 L366.49,527.03 L367.50,527.80 L368.51,528.58 L369.51,529.35 L370.51,530.12 L371.50,530.88 L372.49,531.63 L373.47,532.36 L374.44,533.08 L375.41,533.78 L376.37,534.46 L377.33,535.11 L378.28,535.74 L379.22,536.34 L380.16,536.91 L381.09,537.45 L382.02,537.96 L382.94,538.44 L383.85,538.88 L384.76,539.28 L385.67,539.65 L386.57,539.98 L387.47,540.28 L388.37,540.53 L389.28,540.75 L390.18,540.92 L391.09,541.06 L390.91,544.89 L389.80,544.89 L388.70,544.82 L387.59,544.71 L386.47,544.53 L385.36,544.31 L384.25,544.03 L383.14,543.71 L382.04,543.33 L380.94,542.91 L379.84,542.45 L378.75,541.94 L377.67,541.40 L376.59,540.82 L375.52,540.21 L374.46,539.56 L373.40,538.89 L372.35,538.20 L371.31,537.49 L370.27,536.75 L369.23,536.01 L368.21,535.25 L367.18,534.48 L366.17,533.71 L365.15,532.93 L364.15,532.16 L363.15,531.39 L362.15,530.62 L361.16,529.87 L360.18,529.12 L359.20,528.39 L358.23,527.68 L357.26,526.99 L356.30,526.32 L355.35,525.67 L354.40,525.05 L353.46,524.46 L352.52,523.90 L351.59,523.37 L350.67,522.87 L349.75,522.41 L348.84,521.98 L347.93,521.59 L347.02,521.23 L346.12,520.91 L345.22,520.63 L344.32,520.39 L343.42,520.19 L342.51,520.03 L341.60,519.91 L340.71,519.90Z" fill="#fff000" stroke="#fff000" stroke-width="0.3"/><path d="M340.59,516.11 L341.72,516.12 L342.82,516.11 L343.93,516.15 L345.04,516.25 L346.15,516.40 L347.26,516.61 L348.37,516.87 L349.48,517.18 L350.59,517.53 L351.69,517.94 L352.79,518.39 L353.88,518.88 L354.96,519.41 L356.04,519.98 L357.11,520.58 L358.18,521.21 L359.24,521.88 L360.29,522.56 L361.34,523.27 L362.38,523.99 L363.42,524.74 L364.45,525.49 L365.47,526.26 L366.49,527.03 L367.50,527.80 L368.51,528.58 L369.51,529.35 L370.51,530.12 L371.50,530.88 L372.49,531.63 L373.47,532.36 L374.44,533.08 L375.41,533.78 L376.37,534.46 L377.33,535.11 L378.28,535.74 L379.22,536.34 L380.16,536.91 L381.09,537.45 L382.02,537.96 L382.94,538.44 L383.85,538.88 L384.76,539.28 L385.67,539.65 L386.57,539.98 L387.47,540.28 L388.37,540.53 L389.28,540.75 L390.18,540.92 L391.09,541.06 M340.71,519.90 L341.60,519.91 L342.51,520.03 L343.42,520.19 L344.32,520.39 L345.22,520.63 L346.12,520.91 L347.02,521.23 L347.93,521.59 L348.84,521.98 L349.75,522.41 L350.67,522.87 L351.59,523.37 L352.52,523.90 L353.46,524.46 L354.40,525.05 L355.35,525.67 L356.30,526.32 L357.26,526.99 L358.23,527.68 L359.20,528.39 L360.18,529.12 L361.16,529.87 L362.15,530.62 L363.15,531.39 L364.15,532.16 L365.15,532.93 L366.17,533.71 L367.18,534.48 L368.21,535.25 L369.23,536.01 L370.27,536.75 L371.31,537.49 L372.35,538.20 L373.40,538.89 L374.46,539.56 L375.52,540.21 L376.59,540.82 L377.67,541.40 L378.75,541.94 L379.84,542.45 L380.94,542.91 L382.04,543.33 L383.14,543.71 L384.25,544.03 L385.36,544.31 L386.47,544.53 L387.59,544.71 L388.70,544.82 L389.80,544.89 L390.91,544.89" fill="none" stroke="#1e1e1e" stroke-width="0.9"/><path d="M391.09,541.06 L391.70,541.12 L392.30,541.11 L392.40,544.88 L391.65,544.87 L390.91,544.89Z" fill="#f08a1e" stroke="#f08a1e" stroke-width="0.3"/><path d="M391.09,541.06 L391.70,541.12 L392.30,541.11 M390.91,544.89 L391.65,544.87 L392.40,544.88" fill="none" stroke="#1e1e1e" stroke-width="0.9"/><path d="M432.85,516.11 L434.00,516.11 L435.14,516.10 L436.30,516.16 L435.70,520.24 L434.79,520.05 L433.87,519.91 L432.95,519.90Z" fill="#8a8a8a" stroke="#8a8a8a" stroke-width="0.3"/><path d="M432.85,516.11 L434.00,516.11 L435.14,516.10 L436.30,516.16 M432.95,519.90 L433.87,519.91 L434.79,520.05 L435.70,520.24" fill="none" stroke="#1e1e1e" stroke-width="0.9"/>
<path d="M427.5,517.7 V504.7 M443.3,519.1 V506.1 M455.5,527.2 V514.2 M465.5,534.1 V521.1 M477.8,537.5 V524.5 M489.2,533.8 V520.8 M500.2,526.0 V513.0 M512.5,518.3 V505.3" stroke="#231815" stroke-width="1.3" fill="none"/>
<path d="M424.5,546 L418.3,537.3 M423.19,539.34 L418.3,537.3 L418.63,542.59" fill="none" stroke="#231815" stroke-width="1"/>
<ellipse cx="395.3" cy="478.3" rx="7.8" ry="7.2" fill="#8b2c9a" stroke="#231815" stroke-width="1" stroke-dasharray="1.5,1.2"/>
<path d="M390.5,484.6 L400.5,491 M403.5,476.6 C410,480 418,487 422.2,494.7" fill="none" stroke="#231815" stroke-width="1.3" stroke-dasharray="1.6,1.3"/>
<text x="401.6" y="464.9" font-size="10.5" fill="#000" stroke="#000" stroke-width="0.12">&#963;</text>
<text x="408.6" y="469.2" font-size="7" fill="#000" stroke="#000" stroke-width="0.12">NCR</text>
<path d="M398.21,493.81 L419.91,506.71 L423.49,500.69 L401.79,487.79 L401.31,487.64 L400.74,487.71 L400.12,487.99 L399.49,488.46 L398.89,489.09 L398.38,489.83 L397.97,490.65 L397.70,491.47 L397.59,492.24 L397.64,492.92 L397.85,493.46 Z" fill="#c8ffc8" stroke="#231815" stroke-width="0.9"/>
<ellipse cx="421.70" cy="503.70" rx="3.50" ry="1.89" transform="rotate(120.7 421.70 503.70)" fill="#e3fbe5" stroke="#231815" stroke-width="0.9"/>
<ellipse cx="420.3" cy="496.5" rx="3.5" ry="2.2" transform="rotate(-70 420.3 496.5)" fill="#fbe3f2" stroke="#231815" stroke-width="0.9"/>
<path d="M433.65,502.50 L450.65,487.50 L445.35,481.50 L428.35,496.50 L428.02,496.97 L427.90,497.62 L427.98,498.39 L428.27,499.24 L428.75,500.10 L429.38,500.93 L430.12,501.66 L430.92,502.24 L431.73,502.63 L432.48,502.81 L433.14,502.77 Z" fill="#c8ffc8" stroke="#231815" stroke-width="0.9"/>
<ellipse cx="448.00" cy="484.50" rx="4.00" ry="2.16" transform="rotate(48.6 448.00 484.50)" fill="#e3fbe5" stroke="#231815" stroke-width="0.9"/>
<text x="420.8" y="483.2" font-size="10.5" fill="#000" stroke="#000" stroke-width="0.12">&#963;</text>
<text x="427.8" y="487.3" font-size="7" fill="#000" stroke="#000" stroke-width="0.12">1.2</text>
<path d="M451,484.5 C458,485 464,486 469.5,488" fill="none" stroke="#231815" stroke-width="1.3" stroke-dasharray="1.6,1.3"/>
<path d="M487.3,486.7 C495,488 501,496 501.3,503 C501.5,509 496,513.5 488.5,514.7 C484,515.3 481,513 479.5,511" fill="none" stroke="#231815" stroke-width="1.3" stroke-dasharray="1.6,1.3"/>
<path d="M490.8,498.3 C494,499.5 496,503 493.2,505.3 C491.5,506.5 489,506.3 486.5,506" fill="none" stroke="#231815" stroke-width="1.3" stroke-dasharray="1.6,1.3"/>
<path d="M462,502 C458.5,500 458,496 460.5,494.8 C463,493.5 468,493.8 474,495.5" fill="none" stroke="#231815" stroke-width="1.3" stroke-dasharray="1.6,1.3"/>
<path d="M478.46,501.14 L491.46,498.14 L489.54,489.86 L476.54,492.86 L476.00,493.13 L475.55,493.67 L475.24,494.44 L475.09,495.38 L475.09,496.43 L475.26,497.52 L475.59,498.57 L476.04,499.52 L476.59,500.29 L477.21,500.84 L477.84,501.13 Z" fill="#c8ffc8" stroke="#231815" stroke-width="0.9"/>
<ellipse cx="490.50" cy="494.00" rx="4.25" ry="2.29" transform="rotate(77.0 490.50 494.00)" fill="#c8ffc8" stroke="#231815" stroke-width="0.9"/>
<path d="M470.00,493.50 L486.00,493.50 L486.00,484.50 L470.00,484.50 L469.37,484.65 L468.79,485.10 L468.28,485.82 L467.90,486.75 L467.65,487.84 L467.57,489.00 L467.65,490.16 L467.90,491.25 L468.28,492.18 L468.79,492.90 L469.37,493.35 Z" fill="#c8ffc8" stroke="#231815" stroke-width="0.9"/>
<ellipse cx="486.00" cy="489.00" rx="4.50" ry="2.43" transform="rotate(90.0 486.00 489.00)" fill="#e3fbe5" stroke="#231815" stroke-width="0.9"/>
<path d="M474.99,502.74 L466.49,498.24 L462.51,505.76 L471.01,510.26 L471.60,510.41 L472.29,510.29 L473.03,509.92 L473.76,509.31 L474.44,508.51 L475.03,507.57 L475.47,506.57 L475.75,505.55 L475.84,504.60 L475.74,503.78 L475.45,503.15 Z" fill="#c8ffc8" stroke="#231815" stroke-width="0.9"/>
<ellipse cx="464.50" cy="502.00" rx="4.25" ry="2.29" transform="rotate(-62.1 464.50 502.00)" fill="#e3fbe5" stroke="#231815" stroke-width="0.9"/>
<path d="M474.44,507.71 L484.24,509.01 L485.36,500.59 L475.56,499.29 L474.95,499.35 L474.35,499.70 L473.79,500.31 L473.31,501.13 L472.95,502.12 L472.72,503.20 L472.66,504.30 L472.75,505.35 L473.00,506.27 L473.38,507.00 L473.87,507.49 Z" fill="#c8ffc8" stroke="#231815" stroke-width="0.9"/>
<ellipse cx="484.80" cy="504.80" rx="4.25" ry="2.29" transform="rotate(97.6 484.80 504.80)" fill="#e3fbe5" stroke="#231815" stroke-width="0.9"/>
<text x="505.8" y="488.8" font-size="10.5" fill="#000" stroke="#000" stroke-width="0.12">&#963;</text>
<text x="513.6" y="493.2" font-size="7" fill="#000" stroke="#000" stroke-width="0.12">1.1</text>

</svg>
</body></html>
